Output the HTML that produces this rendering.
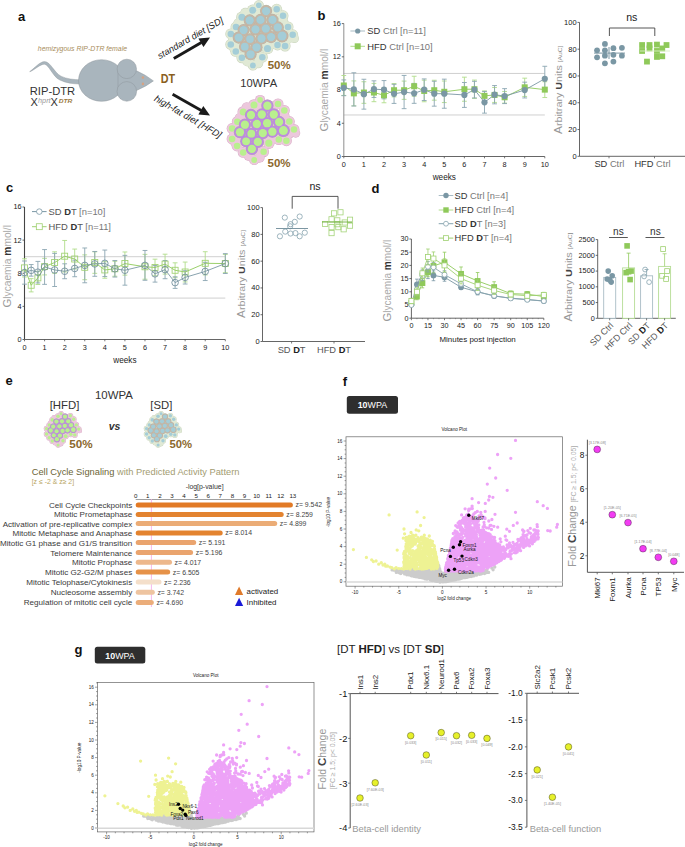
<!DOCTYPE html>
<html><head><meta charset="utf-8"><style>
html,body{margin:0;padding:0;background:#fff;}
svg{display:block;}
text{font-family:"Liberation Sans",sans-serif;}
</style></head><body>
<svg width="685" height="847" viewBox="0 0 685 847">
<rect width="685" height="847" fill="#fff"/>
<defs><g id="vpts"><path stroke="#cccccc" stroke-width="3.3" stroke-linecap="round" fill="none" d="M-23.5 -12.1h0M7.3 -5.2h0M-25.5 -6.1h0M-1.3 -5.2h0M-23.4 -4.9h0M-24.8 -7.0h0M29.5 -9.0h0M18.9 -3.4h0M49.4 -13.7h0M-5.5 -7.9h0M1.8 -4.4h0M2.8 -0.2h0M5.2 -0.4h0M13.3 -5.9h0M-34.4 -9.8h0M13.5 -7.5h0M-28.3 -8.7h0M0.0 -1.8h0M-0.9 -8.2h0M-4.4 -2.9h0M-16.1 -5.5h0M29.6 -7.5h0M14.0 -9.3h0M-36.6 -11.9h0M31.6 -6.0h0M10.6 -5.6h0M40.8 -11.3h0M-6.0 -8.1h0M4.5 -8.2h0M-1.0 -3.0h0M8.1 -10.2h0M0.5 -1.6h0M-9.6 -2.3h0M31.9 -6.8h0M12.6 -6.7h0M-11.8 -9.8h0M4.1 -1.2h0M-5.9 -5.5h0M-7.5 -3.2h0M-6.3 -10.3h0M50.7 -12.0h0M9.9 -4.9h0M-8.7 -11.0h0M-5.6 -12.6h0M-6.9 -3.1h0M-1.7 -3.6h0M33.0 -7.5h0M7.5 -6.4h0M3.7 -2.3h0M-14.9 -7.0h0M-11.0 -12.3h0M-25.0 -11.7h0M2.6 -1.3h0M23.8 -9.4h0M34.6 -7.6h0M11.6 -10.0h0M29.3 -6.4h0M37.8 -9.3h0M-12.2 -6.3h0M4.3 -10.1h0M3.3 -2.1h0M-4.2 -14.8h0M-14.2 -8.5h0M-3.2 -11.1h0M11.5 -2.1h0M3.3 -8.3h0M24.4 -8.2h0M-8.1 -3.2h0M42.1 -8.3h0M-2.5 -0.4h0M20.7 -4.8h0M-17.0 -4.0h0M18.4 -5.7h0M41.7 -10.6h0M-34.1 -10.8h0M-9.1 -1.4h0M-5.3 -0.4h0M25.2 -10.3h0M-16.0 -2.7h0M-14.4 -9.9h0M-16.6 -5.9h0M7.6 -6.1h0M-0.0 -5.5h0M25.4 -8.8h0M-18.4 -10.7h0M15.4 -8.0h0M-9.1 -11.6h0M13.8 -8.8h0M-14.5 -11.3h0M-24.1 -7.5h0M-11.9 -8.1h0M-6.1 -8.3h0M-5.0 -12.7h0M22.6 -6.5h0M-21.3 -10.3h0M-18.1 -11.2h0M-10.1 -2.1h0M0.0 -4.3h0M-4.7 -6.1h0M3.7 -4.9h0M29.5 -8.6h0M13.0 -1.9h0M-7.1 -4.2h0M-5.6 -2.3h0M-11.6 -11.7h0M-11.1 -11.5h0M-17.5 -6.1h0M-6.4 -5.7h0M-11.0 -10.6h0M34.0 -8.0h0M-20.3 -8.9h0M-4.2 -8.9h0M9.5 -9.0h0M17.6 -10.2h0M-24.6 -6.7h0M10.2 -3.8h0M18.4 -4.6h0M-23.1 -8.4h0M13.9 -4.7h0M28.9 -7.7h0M-46.1 -9.4h0M38.2 -7.6h0M7.7 -7.7h0M-14.9 -10.6h0M-7.1 -0.7h0M13.9 -2.2h0M15.9 -9.2h0M0.8 0.0h0M10.6 -7.1h0M-25.6 -9.9h0M8.9 -8.7h0M28.2 -6.3h0M-7.5 -6.4h0M1.2 -3.7h0M2.5 -6.5h0M6.6 -3.9h0M13.8 -8.0h0M-26.3 -10.8h0M-3.4 -6.1h0M10.9 -2.2h0M-40.3 -12.4h0M-1.7 -5.2h0M-10.0 -8.4h0M15.8 -7.1h0M-10.0 -11.4h0M13.4 -5.9h0M-44.2 -11.4h0M8.6 -8.8h0M29.5 -8.7h0M-2.7 -12.8h0M-13.0 -12.5h0M23.6 -9.2h0M-3.4 -4.9h0M31.9 -7.6h0M-20.3 -4.2h0M-22.6 -10.7h0M8.8 -5.6h0M34.4 -6.8h0M6.2 -8.5h0M8.1 -8.5h0M15.4 -3.5h0M13.8 -8.2h0M18.6 -9.4h0M-17.2 -7.7h0M-43.0 -12.5h0M11.7 -6.3h0M7.0 -3.4h0M-3.6 -8.6h0M-27.2 -11.5h0M-15.4 -6.3h0M-6.1 -10.8h0M10.6 -9.2h0M-7.7 -12.4h0M-24.8 -6.1h0M-3.8 -9.0h0M-26.2 -5.0h0M-0.5 -8.5h0M-19.3 -10.9h0M-2.0 -6.8h0M-29.4 -5.9h0M1.7 -4.5h0M-41.3 -12.4h0M24.8 -6.1h0M-9.9 -6.2h0M1.7 -7.0h0M17.7 -5.3h0M-12.8 -3.9h0M-32.3 -7.0h0M-29.5 -11.2h0M12.5 -3.7h0M1.8 -5.9h0M-7.9 -8.2h0M16.2 -3.4h0M-1.2 -5.1h0M-9.8 -4.0h0M7.6 -5.0h0M22.4 -6.4h0M-20.2 -4.9h0M12.2 -3.5h0M-18.6 -8.2h0M-20.1 -11.4h0M-28.9 -7.1h0M-24.4 -10.6h0M15.4 -4.9h0M-38.5 -9.1h0M11.9 -10.5h0M-6.3 -11.4h0M9.5 -8.0h0M10.6 -3.7h0M29.8 -7.7h0M20.8 -9.1h0M13.7 -7.9h0M13.9 -2.2h0M8.8 -9.7h0M27.7 -10.4h0M17.1 -8.7h0M15.1 -6.5h0M-4.9 -0.9h0M-11.4 -2.7h0M23.7 -7.5h0M5.7 -6.1h0M7.4 -2.6h0M9.8 -9.0h0M43.8 -9.1h0M-2.7 -0.5h0M20.4 -8.9h0M-6.4 -4.4h0M-22.6 -7.7h0M4.8 -6.3h0M29.7 -9.8h0M2.5 -1.3h0M-30.2 -8.5h0M9.0 -2.8h0M11.7 -1.7h0M19.8 -9.8h0M9.6 -9.2h0M-28.4 -10.0h0M-21.4 -8.3h0M14.7 -10.4h0M5.0 -9.6h0M-14.0 -10.0h0M6.2 -4.5h0M-34.7 -12.1h0M21.5 -9.0h0M-20.3 -10.6h0M-25.5 -5.2h0M17.2 -5.4h0M-2.7 -4.8h0M0.5 -4.9h0M-9.9 -12.1h0M-9.8 -8.9h0M-14.8 -8.2h0M24.0 -7.6h0M52.4 -14.8h0M-9.8 -12.5h0M-31.0 -6.0h0M-23.6 -6.4h0M-20.9 -7.3h0M12.0 -5.0h0M3.9 -0.8h0M-0.2 -4.2h0M41.7 -10.0h0M24.4 -10.5h0M-5.1 -8.2h0M2.8 -5.5h0M-7.1 -9.8h0M42.5 -9.0h0M12.4 -5.9h0M10.9 -7.0h0M19.6 -3.7h0M18.9 -7.0h0M-6.8 -7.8h0M-10.5 -8.8h0M11.8 -6.6h0M-6.4 -4.0h0M29.8 -5.6h0M0.2 -0.8h0M5.7 -8.0h0M-31.6 -11.0h0M26.1 -5.0h0M46.1 -9.5h0M-3.3 -14.2h0M-19.8 -12.5h0M9.4 -3.3h0M-44.7 -11.7h0M-6.6 -6.2h0M35.1 -9.0h0M-4.7 -1.5h0M-15.0 -4.4h0M-14.9 -2.8h0M-9.7 -6.3h0M-1.7 -7.8h0M-14.4 -8.3h0M4.1 -4.3h0M4.1 -10.4h0M-23.3 -12.3h0M-1.4 -0.9h0M-14.1 -11.6h0M5.8 -3.9h0M-26.3 -6.9h0M-9.8 -8.0h0M-22.7 -9.5h0M0.3 -1.6h0M-12.5 -12.5h0M34.1 -6.7h0M-19.9 -3.9h0M-2.7 -8.7h0M20.0 -4.1h0M-7.2 -1.6h0M-1.9 -8.2h0M-25.8 -7.7h0M-8.5 -6.5h0M4.3 -7.8h0M17.1 -9.3h0M8.7 -8.7h0M4.4 -6.6h0M1.6 -3.4h0M-13.2 -4.7h0M6.8 -7.1h0M-17.1 -12.7h0M-11.1 -9.9h0M21.6 -10.0h0M-16.6 -3.6h0M8.1 -9.3h0M7.0 -6.2h0M3.8 -4.8h0M-6.4 -10.0h0M-14.9 -3.0h0M6.5 -1.2h0M27.5 -6.7h0M-4.6 -3.6h0M-29.2 -6.5h0M-19.4 -6.7h0M24.1 -5.0h0M-6.3 -11.7h0M-24.1 -12.3h0M17.6 -9.0h0M-10.7 -4.8h0M-8.0 -12.0h0M17.7 -9.7h0M0.2 -2.5h0M18.2 -5.7h0M-15.1 -4.3h0M11.6 -6.6h0M7.0 -8.9h0M-22.9 -8.9h0M14.4 -9.6h0M29.0 -6.8h0M22.9 -7.6h0M3.2 -5.4h0M27.3 -9.5h0M-5.8 -1.0h0M-32.4 -6.7h0M-9.8 -2.1h0M-3.3 -1.1h0M-41.0 -11.0h0M19.7 -8.0h0M25.0 -6.0h0M6.0 -5.6h0M32.1 -9.5h0M-13.7 -12.4h0M10.7 -7.5h0M-23.8 -10.4h0M0.9 -5.6h0M17.0 -9.2h0M-10.1 -8.9h0M21.1 -9.4h0M-27.7 -11.9h0M26.5 -7.8h0M-7.2 -9.2h0M6.5 -4.7h0M-19.0 -4.6h0M-3.2 -5.7h0M6.4 -4.7h0M11.3 -4.1h0M6.6 -3.5h0M-1.3 -0.8h0M-19.9 -5.0h0M-26.6 -5.3h0M-24.6 -12.0h0M6.5 -0.8h0M9.5 -3.1h0M7.7 -3.0h0M-5.3 -2.9h0M-25.3 -6.1h0M-2.3 -9.9h0M11.6 -4.3h0M-33.8 -9.5h0M-10.6 -4.3h0M32.4 -7.6h0M-27.7 -9.3h0M21.2 -5.2h0M-5.9 -0.9h0M32.7 -7.9h0M-11.2 -7.4h0M-15.3 -12.7h0M-1.5 -7.3h0M0.2 -3.4h0M2.8 -3.3h0M8.8 -6.8h0M-29.1 -6.5h0M9.3 -3.5h0M14.1 -9.5h0M-27.2 -12.7h0M-2.8 -3.5h0M-10.7 -10.1h0M-2.4 0.4h0M16.1 -9.1h0M-33.5 -6.9h0M-3.8 -1.5h0M30.3 -8.0h0M-47.0 -11.4h0M9.4 -9.2h0M-11.2 -6.2h0M32.0 -10.2h0M30.2 -6.7h0M19.4 -7.2h0M-11.1 -10.9h0M-1.8 -3.4h0M-2.8 -4.2h0M7.1 -5.2h0M-3.9 -11.9h0M-17.7 -3.9h0M-16.8 -12.4h0M13.2 -9.1h0M-1.7 -4.2h0M-2.5 -9.6h0M1.9 -3.8h0M24.7 -4.5h0M34.4 -7.4h0M-1.8 -7.3h0M-4.7 -6.9h0M18.1 -5.2h0M-10.0 -8.9h0M16.3 -4.6h0M9.6 -4.2h0M29.6 -10.3h0M-28.4 -7.7h0M-11.8 -10.8h0M8.9 -1.8h0M5.8 -7.2h0M-3.1 -6.0h0M-11.7 -10.9h0M-7.0 -3.3h0M-4.6 -2.0h0M14.0 -2.7h0M13.8 -9.9h0M-20.6 -9.5h0M10.2 -8.4h0M8.2 -4.0h0M-17.1 -6.9h0M19.3 -8.4h0M1.9 -8.6h0M7.0 -6.6h0M-27.3 -5.2h0M-8.6 -8.6h0M15.4 -3.2h0M-16.5 -10.6h0M15.9 -9.1h0M-8.6 -10.0h0M-7.3 -11.6h0M-17.1 -7.8h0M-5.3 -1.9h0M-12.9 -7.5h0M-7.9 -3.1h0M-35.6 -12.4h0M-8.9 -1.9h0M-9.1 -3.9h0M-26.3 -7.4h0M-13.7 -12.0h0M-13.8 -3.3h0M16.4 -10.3h0M27.4 -8.0h0M31.3 -8.5h0M-14.0 -11.8h0M-5.6 -12.7h0M10.7 -2.5h0M-23.7 -11.3h0M-9.8 -3.9h0M39.8 -9.5h0M6.0 -5.9h0M-10.8 -2.2h0M11.9 -10.4h0M2.4 -8.6h0M-9.0 -8.9h0M-13.8 -9.9h0M-18.9 -10.9h0M17.4 -2.9h0M6.7 -1.9h0M20.5 -6.2h0M-10.7 -7.3h0M-5.0 -3.4h0M-15.7 -9.1h0M-7.2 -1.0h0M-5.1 -12.2h0M-9.4 -8.1h0M-19.4 -9.2h0M3.7 -6.9h0M1.6 -4.0h0M-32.0 -12.7h0M19.9 -6.3h0M-32.1 -9.0h0M-38.2 -10.2h0M-16.8 -8.0h0M-37.9 -9.1h0M17.2 -3.2h0M-6.3 -9.4h0M-40.7 -10.8h0M0.2 -4.3h0M-16.4 -3.3h0M14.8 -6.4h0M14.7 -5.5h0M28.0 -8.0h0M9.5 -3.3h0M-6.7 -3.3h0M18.1 -3.5h0M42.5 -10.9h0M-26.5 -11.7h0M-30.6 -7.3h0M16.5 -8.5h0M-37.9 -7.9h0M-16.9 -10.7h0M17.0 -10.2h0M16.7 -2.7h0M0.6 -2.3h0M16.2 -3.0h0M27.9 -7.3h0M-21.6 -7.0h0M-5.1 -0.5h0M-3.0 -13.5h0M-8.0 -12.0h0M21.1 -10.4h0M-12.9 -5.0h0M2.2 -8.3h0M10.1 -9.0h0M-7.7 -4.9h0M-11.6 -11.4h0M2.0 -8.9h0M8.1 -2.6h0M25.9 -9.9h0M8.7 -7.9h0M2.8 -2.7h0M31.4 -9.2h0M-22.7 -5.2h0M-15.1 -6.9h0M-42.7 -8.8h0M2.8 -6.6h0M16.2 -4.1h0M5.9 -7.1h0M12.8 -8.7h0M-19.7 -11.7h0M20.3 -7.6h0M2.1 -8.3h0M16.1 -7.9h0M-4.6 -1.1h0M27.1 -10.5h0M-21.9 -8.6h0M8.6 -1.3h0M-12.7 -4.5h0M-9.2 -10.4h0M13.4 -8.4h0M8.2 -3.2h0M-4.4 -2.3h0M23.8 -9.9h0M5.0 -4.9h0M-0.4 -6.2h0M-33.1 -9.5h0M29.3 -6.4h0M-25.9 -7.6h0M-9.5 -8.8h0M4.8 -5.3h0M-22.7 -11.4h0M-9.3 -12.2h0M-21.3 -5.3h0M2.1 -5.3h0M-11.3 -4.1h0M-30.8 -11.3h0M12.1 -8.7h0M2.0 -1.6h0M22.2 -7.7h0M-5.2 -7.7h0M0.0 -5.2h0M-35.0 -7.8h0M-17.2 -4.3h0M22.3 -6.8h0M2.5 -3.8h0M-2.8 -0.6h0M34.3 -10.2h0M-21.8 -10.9h0M-10.1 -3.9h0M10.1 -1.6h0M13.2 -4.6h0M-17.0 -5.4h0M-16.2 -8.6h0M30.2 -6.5h0M18.8 -5.0h0M15.8 -9.2h0M24.8 -9.3h0M18.3 -5.8h0M7.4 -2.7h0M5.5 -5.3h0M-1.0 -7.6h0M10.7 -5.5h0M-0.9 -7.2h0M13.8 -9.6h0M3.5 -1.2h0M-12.6 -6.4h0M10.1 -1.9h0M13.7 -8.5h0M-1.4 -2.5h0M-13.8 -7.9h0M1.1 -7.7h0M21.3 -6.2h0M-28.2 -9.8h0M46.3 -9.4h0M-22.8 -4.5h0M15.9 -5.2h0M-13.1 -8.3h0M-36.1 -12.1h0M-18.7 -11.2h0M4.5 -4.0h0M2.6 -3.0h0M-13.1 -3.9h0M-10.9 -3.7h0M-3.5 -3.3h0M-16.2 -7.1h0M3.3 -9.8h0M-16.5 -4.7h0M-34.5 -9.0h0M26.4 -6.9h0M13.0 -4.2h0M12.1 -4.0h0M1.4 -3.1h0M27.0 -6.4h0M-14.1 -5.9h0M25.7 -6.8h0M37.1 -9.8h0M-7.0 -0.7h0M-41.3 -9.6h0M-6.0 -11.3h0M5.3 -3.5h0M3.0 -0.2h0M-23.1 -7.5h0M0.4 -0.8h0M5.5 -6.4h0M16.3 -6.0h0M3.3 -5.2h0M19.7 -5.2h0M22.7 -8.8h0M-5.4 -2.7h0M-9.4 -4.3h0M-4.5 -4.9h0M-19.0 -11.5h0M2.4 -2.9h0M15.8 -4.2h0M4.1 -6.5h0M1.1 -4.5h0M18.9 -5.3h0M-48.8 -11.8h0M11.7 -7.8h0M-6.5 -8.6h0M37.2 -8.0h0M-10.8 -8.6h0M17.1 -5.8h0M10.9 -1.9h0M-12.7 -7.2h0M11.5 -4.0h0M10.6 -5.7h0M16.4 -3.9h0M-7.2 -1.7h0M-12.3 -5.5h0M-9.7 -7.9h0M5.2 -7.4h0M-28.2 -5.4h0M-9.8 -5.7h0M-4.6 -5.1h0M5.2 -0.7h0M-25.5 -8.4h0M0.7 -2.3h0M-0.1 -2.4h0M4.2 -9.3h0M-13.7 -9.2h0M-6.0 -2.6h0M-26.1 -12.4h0M5.1 -3.9h0M-40.7 -11.7h0M-21.1 -9.4h0M-14.3 -6.5h0M-13.6 -4.9h0M19.0 -6.0h0M-34.7 -12.2h0M10.1 -5.9h0M2.5 -2.5h0M-33.7 -7.4h0M40.6 -8.6h0M3.9 -2.3h0M28.7 -5.3h0M-18.5 -5.4h0M-5.2 -6.4h0M-14.2 -8.8h0M-19.6 -8.6h0M24.7 -6.5h0M-44.2 -10.1h0M12.6 -8.1h0M-10.9 -9.3h0M-19.2 -11.1h0M-45.6 -9.7h0M-16.1 -8.3h0M-15.4 -6.2h0M-7.1 -7.1h0M31.1 -7.0h0M0.1 -1.0h0M17.0 -6.7h0M4.9 -0.7h0M4.9 -1.1h0M-2.6 -6.1h0M-9.0 -10.1h0M-11.4 -11.2h0M1.4 -7.3h0M13.9 -6.4h0M4.8 -8.4h0M-23.8 -6.4h0M19.1 -8.5h0M-8.0 -9.9h0M15.3 -9.3h0M11.8 -5.3h0M-21.9 -10.1h0M-25.9 -11.2h0M-25.3 -5.6h0M-20.5 -5.6h0M20.0 -4.7h0M25.4 -10.2h0M2.2 -8.7h0M19.5 -6.3h0M21.8 -8.1h0M-35.6 -12.7h0M27.0 -5.2h0M-2.2 -0.1h0M-9.4 -4.4h0M-7.2 -2.0h0M-2.1 -6.8h0M3.9 -4.8h0M-11.6 -10.5h0M11.8 -9.1h0M-4.0 -10.8h0M18.7 -8.8h0M18.9 -8.3h0M-2.3 -7.0h0M3.4 -1.5h0M-10.3 -2.5h0M13.4 -6.1h0M-5.9 -1.8h0M-1.7 -6.5h0M3.4 -1.2h0M-10.8 -3.9h0M-10.9 -6.9h0M-9.9 -1.7h0M11.1 -2.0h0M12.9 -2.5h0M-10.3 -3.3h0M6.8 -2.5h0M14.8 -5.7h0M-16.4 -10.8h0M-5.3 -7.1h0M4.0 -6.7h0M-11.1 -12.1h0M-10.8 -11.2h0M20.8 -9.4h0M-0.7 -6.7h0M2.0 -1.1h0M4.0 -1.1h0M16.2 -8.6h0M8.2 -3.8h0M-2.8 -2.7h0M-0.2 -7.8h0M23.5 -9.3h0M1.6 -6.7h0M-1.8 -9.5h0M-19.3 -11.1h0M6.2 -1.4h0M18.5 -8.3h0M-6.0 -3.4h0M3.5 -5.6h0M-2.3 -2.6h0M-14.1 -9.1h0M11.9 -8.9h0M-18.1 -6.4h0M20.6 -5.5h0M14.0 -2.9h0M-9.5 -5.0h0M-0.7 -6.7h0M-13.2 -7.8h0M-5.1 -1.4h0M-10.9 -3.0h0M-12.0 -1.7h0M16.5 -6.6h0M-13.9 -7.8h0M9.7 -10.1h0M11.1 -4.3h0M38.0 -9.8h0M44.2 -10.6h0M35.8 -10.4h0M3.7 -7.1h0M19.3 -4.5h0M-4.2 -17.2h0M28.6 -7.0h0M7.3 -10.5h0M16.5 -3.8h0M-12.4 -8.8h0M-14.0 -4.3h0M-29.9 -11.7h0M-26.8 -9.8h0M-24.9 -5.4h0M-0.8 -7.8h0M-7.8 -8.7h0M-19.6 -7.3h0M-10.4 -8.2h0M9.2 -6.5h0M-4.9 -8.0h0M-0.5 -3.6h0M-21.5 -12.1h0M-14.3 -3.7h0M11.8 -8.2h0M-12.1 -12.6h0M29.0 -7.5h0M6.7 -10.5h0M-7.4 -6.6h0M3.7 -6.4h0M36.6 -10.3h0M16.4 -6.7h0M-30.2 -12.7h0M35.6 -9.5h0M15.4 -4.4h0M7.4 -5.9h0M-19.8 -11.5h0M5.2 -6.8h0M14.7 -2.8h0M-31.8 -9.3h0M-11.4 -4.2h0M11.7 -8.5h0M-35.9 -10.1h0M28.4 -6.1h0M-19.1 -6.7h0M4.2 -3.5h0M3.1 -8.3h0M4.8 -1.9h0M-8.3 -5.4h0M15.5 -9.8h0M-21.6 -4.4h0M13.0 -7.3h0M-1.0 -8.7h0M-1.8 -7.9h0M-12.6 -6.5h0M17.4 -5.3h0M1.7 -5.3h0M-4.7 -8.9h0M25.7 -5.7h0M20.5 -6.8h0M21.3 -4.6h0M34.1 -9.0h0M30.4 -7.4h0M20.7 -8.4h0M-1.6 -3.2h0M-18.1 -7.0h0M16.5 -6.0h0M21.6 -9.3h0M-17.8 -7.9h0M11.5 -10.0h0M-17.0 -5.1h0M24.6 -8.0h0M-8.5 -4.2h0M38.1 -10.1h0M-9.4 -12.0h0M-19.0 -6.9h0M-1.1 -4.4h0M-26.0 -5.2h0M-13.6 -6.7h0M7.6 -10.1h0M-7.9 -8.8h0M28.5 -6.6h0M-8.7 -11.5h0M5.4 -2.8h0M-15.4 -10.9h0M8.4 -9.1h0M-20.3 -4.4h0M-13.0 -11.6h0M15.5 -5.4h0M9.6 -7.9h0M-8.6 -11.5h0M-15.4 -12.2h0M26.9 -7.6h0M4.0 -3.6h0M-16.3 -9.4h0M3.7 -6.0h0M51.7 -16.8h0M-9.7 -5.7h0M13.2 -8.0h0M-24.5 -12.7h0M19.5 -6.2h0M8.7 -7.2h0M11.6 -3.4h0M-7.3 -5.4h0M7.8 -8.0h0M10.0 -7.3h0M5.8 -6.7h0M-0.7 -7.5h0M-14.7 -9.9h0M1.6 -3.8h0M-9.6 -1.3h0M29.4 -10.0h0M-35.6 -7.0h0M-14.1 -7.8h0M19.2 -4.0h0M4.0 -5.1h0M-15.8 -3.7h0M-9.2 -2.0h0M-4.2 -9.2h0M-9.1 -3.9h0M32.0 -7.9h0M12.7 -5.7h0M4.5 -5.9h0M-36.2 -7.6h0M9.5 -9.1h0M28.7 -8.1h0M42.1 -9.8h0M-29.2 -12.5h0M-24.9 -7.9h0M11.1 -8.9h0M0.7 -5.8h0M-2.6 -7.3h0M-10.9 -1.7h0M12.5 -10.3h0M10.4 -7.2h0M3.4 -3.9h0M-4.8 -1.0h0M-0.6 -8.3h0M9.3 -4.2h0M-27.9 -11.9h0M1.9 -8.3h0M-20.6 -11.9h0M-9.4 -5.7h0M-9.6 -4.1h0M30.0 -7.4h0M-19.7 -6.7h0M9.4 -5.1h0M-5.8 -10.7h0M1.9 -0.1h0M-23.8 -7.6h0M-4.2 -3.9h0M15.0 -4.9h0M10.8 -5.8h0M3.9 -4.9h0M31.7 -6.0h0M-41.6 -8.2h0M27.7 -8.3h0M17.8 -7.5h0M-4.5 -4.7h0M-8.3 -7.8h0M25.0 -6.4h0M-23.1 -10.6h0M0.3 0.0h0M12.2 -4.1h0M8.1 -8.6h0M-34.0 -9.0h0M17.2 -5.0h0M-3.5 -15.9h0M-7.3 -10.7h0M-7.9 -10.6h0M14.8 -8.8h0M-4.1 -13.6h0M-5.1 -0.7h0M-17.2 -12.0h0M-17.2 -9.1h0M44.4 -12.1h0M6.3 -6.3h0M31.4 -7.8h0M1.1 -5.5h0M42.6 -8.7h0M-4.4 -10.0h0M-29.8 -8.3h0M11.7 -5.6h0M-8.9 -4.7h0M3.7 -7.4h0M8.6 -8.9h0M4.1 -6.9h0M-9.0 -2.3h0M-2.8 -4.2h0M23.6 -10.1h0M-7.0 -3.1h0M-20.5 -11.3h0M12.1 -2.7h0M15.2 -2.6h0M-15.5 -6.9h0M-20.7 -12.1h0M20.0 -6.9h0M-7.1 -10.0h0M-17.7 -3.9h0M-0.6 -5.0h0M-11.6 -3.8h0M-6.5 -4.7h0M9.5 -6.7h0M-18.9 -8.7h0M-2.4 -11.3h0M-16.0 -7.4h0M19.8 -10.4h0M-14.0 -4.5h0M26.2 -6.3h0M-3.1 -3.6h0M-24.9 -5.0h0M8.5 -7.8h0M-16.7 -7.0h0M-18.2 -12.5h0M-16.6 -11.8h0M-21.3 -5.8h0M6.1 -8.0h0M13.2 -9.2h0M9.9 -1.5h0M-7.9 -7.4h0M-23.6 -7.0h0M27.3 -9.3h0M38.4 -10.0h0M27.5 -6.2h0M19.4 -4.7h0M-25.7 -5.6h0M-5.7 -9.8h0M-35.8 -12.3h0M-20.4 -9.9h0M-31.0 -10.8h0M35.6 -7.9h0M19.4 -5.2h0M-24.1 -6.4h0M23.6 -5.8h0M3.0 -2.5h0M-0.2 -3.6h0M10.2 -3.8h0M-3.4 -8.0h0M15.1 -9.5h0M20.4 -9.5h0M32.1 -8.8h0M-30.1 -9.4h0M-8.5 -8.7h0M29.0 -6.7h0M-16.1 -3.1h0M16.8 -8.9h0M-7.1 -3.4h0M-17.7 -10.1h0M5.4 -10.0h0M-24.8 -7.3h0M-0.9 -1.9h0M8.8 -10.0h0M-2.9 -9.5h0M37.2 -7.5h0M18.0 -7.3h0M42.0 -9.4h0M39.3 -10.2h0M26.4 -5.2h0M10.7 -1.6h0M-49.4 -11.9h0M-23.6 -11.5h0M5.1 -0.9h0M-22.8 -8.6h0M9.4 -4.4h0M21.5 -7.1h0M9.7 -5.0h0M28.4 -7.8h0M19.5 -7.3h0M10.5 -10.3h0M-9.6 -4.6h0M-3.9 -5.7h0M-13.5 -12.5h0M-43.4 -12.5h0M33.9 -10.3h0M-17.2 -3.0h0M-25.6 -10.2h0M1.7 -5.1h0M-33.9 -7.0h0M-29.2 -9.2h0M4.7 -1.2h0M-1.2 -9.1h0M4.1 -0.2h0M-1.1 -8.5h0M-8.8 -7.8h0M-21.5 -10.6h0M0.3 -0.1h0M-0.7 -7.2h0M35.9 -8.4h0M-5.6 -4.4h0M-1.9 -9.4h0M2.7 -2.1h0M-20.2 -6.5h0M-12.0 -9.1h0M-13.5 -11.5h0M3.9 -1.6h0M8.6 -5.5h0M11.9 -8.6h0M-7.0 -8.5h0M12.3 -4.0h0M-14.6 -11.5h0M-2.1 -2.0h0M1.8 -2.6h0M16.2 -8.4h0M-15.6 -8.0h0M-30.2 -6.2h0M1.2 -1.5h0M-14.3 -6.5h0M18.4 -5.7h0M-1.2 -9.5h0M19.0 -4.2h0M-1.1 -8.1h0M3.5 -7.8h0M-17.1 -6.5h0M-5.9 -9.5h0M25.1 -7.4h0M1.3 -4.0h0M-2.9 -5.4h0M39.1 -8.0h0M16.9 -4.3h0M35.2 -10.3h0M-33.8 -8.6h0M9.6 -7.9h0M-4.5 -12.1h0M3.7 -6.7h0M9.7 -9.4h0M-6.9 -6.0h0M-46.4 -10.5h0M11.2 -10.0h0M10.5 -1.9h0M7.1 -1.0h0M16.3 -5.0h0M4.0 -5.4h0M9.0 -6.1h0M-29.7 -9.3h0M-13.4 -12.2h0M11.9 -2.3h0M6.7 -3.6h0M2.9 -4.6h0M-43.5 -9.3h0M-12.1 -4.9h0M21.8 -9.2h0M21.0 -7.8h0M-3.7 -14.1h0M-12.2 -12.1h0M2.7 -9.2h0M32.2 -7.9h0M5.0 -0.6h0M6.2 -7.9h0M10.1 -3.2h0M13.4 -8.8h0M1.7 -4.1h0M-12.3 -3.7h0M-17.6 -3.0h0M-1.9 -2.9h0M5.3 -6.6h0M-14.8 -8.8h0M15.9 -5.0h0M-24.7 -9.3h0M31.2 -7.8h0M-20.7 -6.6h0M-5.3 -11.7h0M4.7 -9.0h0M44.8 -12.8h0M12.0 -10.4h0M19.5 -5.4h0M14.7 -4.2h0M27.1 -8.2h0M25.6 -6.3h0M39.0 -7.9h0M-6.8 -7.3h0M-16.4 -7.6h0M20.4 -6.2h0M-10.8 -1.4h0M-15.2 -8.3h0M0.3 -4.7h0M-8.1 -6.7h0M2.0 -4.0h0M-32.1 -7.9h0M-39.5 -9.9h0M29.7 -6.7h0M17.5 -9.2h0M4.4 -9.5h0M-14.1 -7.5h0M-21.9 -12.3h0M10.9 -5.9h0M-15.8 -11.1h0M1.8 -4.2h0M-7.0 -3.1h0M10.6 -9.0h0M17.6 -9.9h0M-50.3 -11.9h0M8.9 -8.7h0M-29.0 -11.3h0M15.8 -4.9h0M31.5 -7.1h0M3.6 -5.0h0M-2.0 -4.0h0M6.8 -9.7h0M-25.5 -12.2h0M-4.3 -12.2h0M-5.5 -1.5h0M38.7 -8.5h0M-4.3 -3.4h0M-11.1 -12.6h0M-30.4 -10.1h0M21.8 -4.2h0M21.9 -9.7h0M3.9 -8.9h0M-33.5 -10.0h0M25.7 -7.6h0M-9.5 -5.6h0M-2.5 -1.8h0M3.3 -7.7h0M3.7 -7.8h0M27.7 -8.9h0M-16.7 -5.4h0M-1.7 -1.8h0M-17.5 -12.2h0M-23.4 -7.0h0M37.9 -8.3h0M-18.7 -12.3h0M-36.0 -11.4h0M-33.6 -8.5h0M-4.3 -8.8h0M23.0 -4.3h0M15.4 -6.2h0M-18.1 -10.3h0M0.0 -4.2h0M12.8 -3.9h0M-3.4 -0.6h0M6.5 -4.0h0M-46.2 -11.5h0M-7.9 -5.7h0M-11.7 -6.9h0M7.8 -10.2h0M14.7 -7.9h0M14.2 -8.5h0M-25.9 -12.3h0M-9.3 -11.6h0M-0.2 -7.9h0M24.0 -7.6h0M12.2 -2.2h0M30.4 -6.4h0M-14.5 -9.8h0M-4.9 -9.3h0M-13.8 -9.0h0M29.7 -9.1h0M-19.7 -4.3h0M5.5 -5.1h0M38.6 -7.7h0M-11.3 -2.3h0M-3.6 -7.1h0M29.4 -6.1h0M-22.4 -10.5h0M11.3 -5.1h0M-17.1 -8.9h0M-23.5 -4.5h0M-2.5 -0.3h0M-9.8 -6.6h0M7.4 -4.5h0M0.8 -3.5h0M37.5 -10.1h0M29.3 -7.9h0M-14.2 -12.6h0M-8.8 -2.3h0M-4.5 -11.0h0M12.8 -6.2h0M-16.4 -11.6h0M10.3 -3.6h0M7.7 -5.1h0M-29.1 -8.1h0M-19.5 -6.3h0M8.2 -6.9h0M-13.9 -10.3h0M8.7 -5.3h0M-39.0 -9.9h0M6.5 -4.2h0M42.1 -11.2h0M-31.4 -8.7h0M-15.0 -5.4h0M-27.8 -10.6h0M26.7 -8.7h0M-8.7 -6.0h0M-7.8 -10.0h0M-11.3 -7.5h0M17.4 -8.3h0M-2.2 0.2h0M-28.3 -7.2h0M16.5 -7.5h0M3.5 -9.9h0M19.0 -4.6h0"/><path stroke="#eef293" stroke-width="3.3" stroke-linecap="round" fill="none" d="M-7.4 -13.9h0M-18.7 -38.7h0M-10.0 -23.8h0M-18.5 -35.2h0M-12.6 -34.6h0M-18.9 -20.7h0M-14.5 -29.7h0M-20.1 -44.3h0M-34.1 -38.2h0M-27.6 -37.6h0M-6.1 -16.5h0M-19.3 -29.5h0M-21.8 -18.2h0M-17.3 -40.5h0M-16.0 -21.6h0M-11.1 -24.8h0M-33.8 -32.6h0M-23.0 -30.1h0M-4.7 -16.9h0M-6.0 -17.4h0M-12.7 -15.0h0M-15.0 -38.0h0M-25.7 -22.0h0M-26.5 -31.0h0M-38.0 -19.5h0M-16.2 -17.3h0M-28.1 -42.8h0M-6.7 -16.9h0M-32.7 -16.7h0M-35.9 -38.1h0M-13.4 -20.6h0M-22.0 -35.4h0M-37.9 -27.5h0M-9.2 -18.6h0M-14.6 -33.9h0M-27.2 -42.7h0M-31.3 -28.8h0M-28.0 -27.9h0M-10.8 -29.0h0M-17.8 -43.6h0M-31.1 -20.3h0M-17.5 -17.4h0M-5.6 -16.7h0M-23.7 -27.0h0M-10.3 -38.6h0M-15.5 -18.0h0M-31.4 -42.5h0M-8.8 -18.7h0M-26.3 -20.5h0M-14.1 -14.2h0M-14.9 -14.7h0M-9.8 -28.0h0M-18.7 -15.8h0M-37.3 -19.1h0M-4.9 -17.7h0M-9.1 -14.5h0M-35.3 -13.4h0M-14.8 -18.1h0M-14.9 -22.6h0M-22.7 -22.2h0M-19.5 -24.1h0M-26.4 -21.2h0M-28.8 -21.8h0M-38.3 -18.4h0M-18.4 -21.2h0M-35.0 -40.1h0M-22.7 -29.5h0M-28.1 -43.2h0M-12.8 -31.1h0M-16.1 -34.0h0M-21.6 -26.1h0M-25.4 -29.7h0M-22.7 -30.1h0M-20.5 -38.0h0M-8.1 -17.9h0M-38.1 -18.2h0M-37.8 -27.1h0M-17.5 -21.7h0M-32.3 -41.7h0M-10.0 -32.0h0M-15.0 -35.4h0M-23.2 -25.8h0M-19.8 -40.8h0M-4.7 -19.3h0M-10.0 -14.9h0M-30.3 -45.9h0M-20.1 -29.2h0M-28.2 -42.4h0M-21.0 -44.7h0M-36.2 -44.3h0M-38.4 -15.4h0M-35.0 -30.9h0M-6.5 -19.5h0M-12.6 -30.1h0M-18.8 -18.2h0M-22.8 -42.3h0M-15.6 -19.4h0M-23.4 -30.7h0M-17.1 -13.3h0M-31.3 -34.9h0M-31.5 -15.2h0M-12.6 -22.5h0M-5.8 -19.8h0M-35.4 -33.2h0M-29.8 -40.7h0M-13.9 -35.4h0M-36.9 -13.4h0M-11.3 -16.8h0M-31.9 -13.8h0M-33.2 -28.4h0M-5.8 -16.8h0M-29.9 -41.2h0M-32.5 -33.9h0M-17.6 -41.9h0M-37.3 -22.9h0M-25.6 -40.5h0M-30.1 -37.2h0M-32.5 -29.2h0M-5.5 -15.4h0M-29.2 -44.5h0M-15.6 -14.8h0M-32.4 -20.7h0M-28.9 -42.1h0M-14.7 -42.4h0M-15.8 -32.0h0M-21.8 -14.7h0M-21.9 -25.2h0M-20.5 -14.3h0M-37.9 -30.5h0M-26.0 -23.9h0M-33.7 -32.2h0M-7.3 -16.3h0M-21.6 -29.0h0M-12.4 -29.3h0M-30.6 -19.2h0M-13.9 -15.1h0M-9.0 -13.7h0M-32.3 -28.4h0M-9.7 -30.1h0M-13.1 -35.3h0M-13.9 -14.3h0M-10.4 -16.9h0M-33.3 -14.0h0M-37.9 -28.6h0M-25.7 -15.7h0M-37.2 -28.0h0M-18.1 -41.5h0M-37.6 -14.8h0M-29.0 -19.4h0M-35.0 -19.2h0M-16.8 -18.0h0M-33.0 -30.5h0M-25.9 -17.8h0M-19.3 -28.9h0M-25.5 -28.7h0M-37.5 -23.9h0M-32.2 -24.0h0M-38.5 -28.8h0M-18.6 -25.1h0M-20.2 -42.8h0M-34.3 -25.2h0M-14.4 -24.0h0M-14.5 -40.2h0M-37.4 -17.9h0M-28.8 -38.7h0M-11.8 -33.0h0M-7.0 -16.1h0M-25.3 -41.3h0M-12.5 -16.1h0M-5.1 -19.4h0M-9.0 -22.6h0M-18.0 -42.8h0M-7.9 -25.5h0M-8.2 -36.1h0M-9.9 -31.2h0M-5.7 -14.5h0M-24.9 -31.6h0M-34.3 -38.2h0M-36.7 -24.1h0M-29.2 -23.9h0M-17.9 -18.8h0M-23.4 -41.0h0M-4.8 -14.8h0M-32.3 -41.1h0M-32.0 -31.4h0M-27.1 -12.8h0M-38.8 -12.8h0M-27.5 -22.2h0M-4.7 -17.3h0M-36.6 -35.4h0M-30.8 -29.1h0M-13.9 -38.4h0M-6.6 -19.5h0M-27.9 -26.4h0M-28.1 -38.2h0M-22.9 -35.2h0M-33.6 -38.5h0M-5.5 -15.0h0M-17.6 -17.8h0M-37.6 -20.2h0M-32.5 -37.1h0M-19.1 -34.1h0M-5.5 -13.4h0M-35.5 -13.9h0M-23.0 -39.8h0M-15.3 -29.5h0M-9.3 -23.1h0M-35.0 -33.5h0M-38.0 -16.9h0M-37.8 -15.7h0M-36.6 -29.6h0M-34.4 -32.4h0M-10.4 -22.5h0M-34.7 -34.5h0M-13.7 -39.1h0M-19.7 -31.3h0M-9.1 -31.5h0M-5.2 -15.6h0M-12.1 -31.2h0M-22.7 -13.1h0M-22.4 -21.4h0M-18.1 -28.7h0M-21.2 -14.7h0M-34.3 -32.5h0M-15.3 -43.0h0M-11.5 -21.1h0M-23.1 -29.4h0M-11.1 -24.1h0M-7.1 -21.7h0M-25.1 -28.8h0M-26.5 -46.6h0M-37.3 -20.0h0M-36.1 -34.3h0M-33.7 -17.7h0M-24.3 -32.8h0M-12.5 -25.8h0M-28.7 -25.5h0M-8.2 -17.8h0M-38.5 -28.7h0M-22.2 -17.1h0M-34.2 -41.8h0M-13.0 -14.7h0M-15.6 -19.3h0M-23.5 -32.7h0M-37.1 -29.6h0M-27.3 -17.7h0M-11.9 -15.9h0M-37.6 -24.5h0M-22.6 -42.2h0M-11.6 -18.7h0M-37.3 -23.6h0M-22.6 -22.6h0M-7.2 -16.7h0M-16.7 -15.0h0M-7.0 -29.8h0M-17.5 -22.7h0M-13.9 -39.8h0M-11.4 -13.9h0M-21.5 -17.3h0M-20.0 -43.1h0M-9.0 -19.6h0M-19.8 -22.9h0M-33.0 -37.3h0M-12.7 -22.6h0M-24.4 -35.9h0M-13.8 -26.6h0M-34.8 -15.9h0M-33.0 -40.1h0M-21.7 -33.7h0M-26.3 -25.2h0M-32.8 -45.1h0M-18.0 -16.8h0M-14.6 -30.8h0M-17.7 -36.8h0M-17.9 -40.2h0M-5.4 -17.1h0M-16.5 -24.3h0M-24.7 -25.0h0M-16.5 -23.6h0M-26.7 -41.5h0M-11.3 -32.2h0M-9.8 -23.6h0M-16.7 -20.5h0M-28.0 -16.2h0M-11.3 -39.2h0M-28.4 -25.8h0M-34.8 -17.4h0M-16.8 -40.4h0M-36.0 -20.9h0M-12.7 -19.4h0M-8.6 -21.7h0M-22.5 -19.4h0M-28.8 -27.5h0M-29.3 -38.0h0M-37.8 -24.3h0M-11.2 -22.1h0M-32.2 -16.8h0M-36.2 -37.9h0M-18.1 -13.2h0M-23.2 -32.5h0M-27.8 -14.0h0M-24.3 -24.5h0M-5.3 -16.4h0M-7.0 -28.5h0M-19.0 -16.7h0M-11.0 -15.3h0M-19.6 -15.9h0M-35.7 -25.9h0M-33.5 -45.4h0M-18.9 -41.1h0M-5.9 -22.4h0M-16.6 -27.4h0M-12.0 -32.2h0M-33.4 -30.2h0M-24.6 -29.9h0M-14.3 -33.5h0M-19.2 -37.7h0M-10.4 -15.4h0M-33.8 -14.3h0M-33.3 -44.4h0M-28.2 -27.9h0M-22.8 -31.3h0M-29.2 -39.7h0M-27.4 -41.6h0M-11.1 -12.8h0M-20.0 -15.7h0M-8.4 -14.4h0M-29.6 -39.2h0M-18.5 -33.7h0M-24.6 -30.1h0M-31.8 -28.3h0M-30.0 -35.9h0M-35.2 -17.2h0M-32.0 -30.6h0M-18.8 -12.9h0M-4.8 -19.3h0M-25.8 -18.1h0M-10.4 -40.4h0M-32.7 -37.9h0M-10.6 -39.4h0M-31.7 -16.8h0M-33.2 -20.4h0M-7.8 -32.6h0M-22.5 -16.9h0M-26.7 -20.9h0M-16.5 -35.0h0M-12.1 -25.5h0M-23.1 -28.1h0M-26.1 -28.1h0M-15.2 -34.4h0M-33.8 -14.2h0M-25.5 -24.8h0M-37.7 -14.2h0M-24.2 -44.0h0M-10.0 -13.6h0M-27.9 -25.4h0M-28.1 -17.5h0M-18.5 -39.2h0M-25.7 -18.7h0M-35.2 -13.2h0M-12.5 -19.5h0M-13.9 -36.4h0M-36.0 -18.8h0M-28.0 -39.2h0M-13.4 -21.8h0M-23.3 -24.4h0M-22.6 -38.7h0M-29.8 -40.6h0M-7.1 -23.9h0M-5.8 -24.3h0M-32.9 -45.6h0M-31.9 -39.7h0M-34.7 -22.6h0M-23.6 -40.5h0M-15.4 -19.0h0M-7.9 -31.9h0M-21.3 -14.4h0M-29.0 -22.9h0M-24.4 -44.1h0M-18.3 -38.5h0M-36.4 -20.5h0M-13.6 -22.9h0M-31.0 -14.9h0M-37.1 -20.2h0M-20.0 -25.5h0M-19.4 -22.0h0M-38.3 -24.9h0M-27.3 -29.5h0M-25.8 -21.9h0M-37.1 -18.1h0M-28.6 -16.7h0M-37.8 -21.4h0M-38.2 -28.6h0M-26.4 -27.8h0M-20.7 -13.5h0M-35.4 -38.0h0M-19.7 -28.5h0M-27.0 -38.3h0M-21.5 -38.4h0M-10.0 -37.9h0M-13.8 -32.9h0M-22.9 -30.3h0M-18.9 -29.3h0M-10.6 -37.1h0M-37.1 -26.3h0M-17.6 -31.4h0M-7.5 -13.8h0M-22.5 -25.0h0M-6.1 -15.1h0M-19.4 -17.3h0M-12.9 -27.2h0M-13.5 -21.9h0M-8.4 -12.9h0M-31.1 -37.6h0M-8.5 -32.3h0M-29.4 -15.6h0M-14.4 -34.8h0M-36.8 -29.6h0M-20.6 -13.8h0M-22.3 -23.8h0M-35.3 -41.2h0M-6.6 -14.8h0M-23.5 -21.8h0M-15.7 -16.1h0M-27.3 -26.8h0M-22.5 -27.0h0M-18.3 -42.3h0M-6.7 -27.9h0M-10.3 -19.2h0M-30.4 -28.4h0M-16.7 -31.5h0M-26.8 -46.5h0M-28.1 -13.4h0M-35.7 -19.5h0M-13.6 -37.8h0M-37.4 -17.0h0M-30.5 -39.6h0M-7.9 -18.6h0M-35.3 -43.8h0M-5.3 -20.2h0M-22.6 -37.2h0M-12.4 -27.6h0M-29.5 -30.9h0M-16.0 -22.7h0M-16.8 -17.3h0M-5.4 -15.0h0M-31.0 -45.3h0M-6.1 -25.5h0M-9.8 -36.6h0M-10.5 -28.8h0M-36.3 -36.0h0M-10.0 -36.3h0M-37.3 -13.9h0M-13.7 -27.3h0M-8.0 -35.3h0M-23.4 -35.0h0M-15.9 -34.0h0M-36.5 -41.3h0M-13.9 -36.8h0M-22.9 -19.5h0M-23.3 -35.2h0M-19.9 -16.2h0M-38.7 -19.9h0M-30.4 -20.5h0M-31.2 -26.8h0M-14.9 -40.5h0M-15.5 -13.4h0M-8.9 -29.2h0M-13.6 -31.0h0M-26.6 -24.3h0M-36.4 -33.8h0M-37.0 -25.0h0M-7.4 -26.1h0M-17.9 -38.1h0M-5.8 -22.7h0M-4.7 -16.1h0M-38.3 -23.8h0M-16.8 -39.5h0M-17.7 -24.1h0M-38.7 -27.7h0M-17.3 -43.4h0M-18.4 -39.6h0M-12.2 -41.6h0M-22.9 -42.2h0M-25.2 -13.1h0M-27.6 -24.8h0M-4.6 -15.5h0M-35.5 -22.6h0M-25.2 -16.9h0M-18.2 -26.0h0M-11.2 -22.5h0M-5.1 -14.6h0M-20.5 -20.0h0M-38.4 -18.2h0M-8.0 -19.3h0M-22.0 -29.8h0M-29.7 -31.2h0M-36.6 -23.8h0M-29.0 -41.0h0M-12.3 -33.2h0M-18.3 -40.0h0M-13.3 -14.4h0M-34.4 -37.1h0M-9.9 -40.5h0M-12.1 -17.4h0M-19.3 -32.6h0M-18.0 -17.0h0M-5.5 -18.3h0M-29.6 -46.6h0M-25.6 -15.1h0M-15.8 -20.7h0M-31.3 -23.0h0M-17.9 -22.8h0M-15.9 -40.5h0M-4.7 -19.2h0M-7.1 -17.4h0M-10.4 -15.3h0M-18.8 -15.1h0M-35.4 -43.2h0M-34.5 -36.1h0M-20.7 -12.8h0M-11.5 -14.5h0M-8.3 -32.3h0M-21.7 -27.2h0M-37.9 -25.4h0M-37.5 -22.3h0M-6.9 -24.8h0M-34.8 -36.1h0M-14.7 -22.7h0M-12.2 -29.6h0M-24.6 -30.3h0M-29.3 -22.7h0M-8.2 -21.0h0M-12.3 -23.5h0M-32.3 -12.8h0M-5.6 -21.5h0M-5.0 -17.9h0M-36.7 -15.7h0M-37.2 -23.8h0M-17.4 -42.5h0M-28.6 -20.8h0M-31.2 -17.7h0M-37.9 -21.7h0M-24.4 -25.0h0M-6.0 -17.0h0M-10.3 -27.8h0M-35.3 -13.7h0M-17.8 -40.1h0M-37.1 -25.4h0M-30.8 -36.1h0M-89.0 -32.2h0M-76.0 -24.4h0M-70.7 -22.0h0M-66.3 -20.8h0M-61.1 -19.1h0M-56.7 -15.6h0M-52.4 -14.7h0M-48.0 -13.0h0M-53.3 -66.9h0M-45.2 -31.7h0M-25.3 -69.9h0M-18.3 -64.2h0M-21.8 -56.3h0M-38.4 -52.8h0M-37.8 -48.0h0M-39.1 -43.6h0M-26.2 -51.9h0M-23.6 -51.0h0M-18.1 -46.6h0M-36.2 -32.4h0M-35.6 -23.9h0M-69.0 -20.2h0M-50.6 -14.1h0M-63.7 -17.6h0M-59.4 -16.7h0M-55.0 -15.8h0M-46.3 -14.1h0M-43.7 -13.2h0M-41.0 -13.2h0M-31.4 -49.3h0M-34.0 -44.0h0M-13.1 -45.8h0M-57.6 -17.6h0"/><path stroke="#eda2f7" stroke-width="3.3" stroke-linecap="round" fill="none" d="M49.9 -33.9h0M16.5 -15.4h0M57.5 -32.6h0M55.0 -27.4h0M5.5 -14.7h0M54.3 -19.6h0M19.4 -11.6h0M52.6 -23.9h0M7.3 -16.8h0M14.2 -27.2h0M37.6 -37.5h0M8.1 -22.6h0M5.8 -16.2h0M48.5 -21.0h0M49.3 -20.8h0M24.9 -53.1h0M34.1 -33.2h0M43.2 -47.4h0M42.0 -18.1h0M13.9 -29.4h0M18.6 -35.0h0M7.7 -26.1h0M26.3 -11.9h0M9.5 -40.6h0M50.8 -37.8h0M24.7 -66.2h0M12.3 -41.0h0M56.1 -22.2h0M9.8 -12.1h0M48.2 -30.9h0M29.7 -14.2h0M39.1 -14.2h0M10.2 -29.4h0M39.1 -43.7h0M49.5 -18.5h0M19.9 -15.2h0M30.5 -11.2h0M51.9 -31.6h0M48.5 -27.3h0M54.4 -33.7h0M49.7 -36.4h0M14.9 -23.2h0M5.8 -21.8h0M29.5 -64.1h0M19.0 -28.6h0M51.8 -39.4h0M45.6 -42.4h0M55.0 -22.8h0M37.6 -12.0h0M41.0 -49.8h0M31.3 -15.3h0M34.9 -12.2h0M28.8 -12.9h0M26.3 -55.6h0M44.6 -42.0h0M28.6 -30.5h0M5.7 -22.0h0M35.0 -26.3h0M10.9 -25.3h0M6.2 -11.8h0M7.1 -18.0h0M10.4 -39.7h0M37.2 -48.9h0M34.0 -15.5h0M18.3 -51.5h0M35.8 -38.0h0M38.5 -11.6h0M14.0 -27.0h0M50.5 -39.9h0M36.2 -19.3h0M5.3 -16.9h0M25.8 -63.4h0M14.3 -17.1h0M3.5 -10.6h0M48.4 -39.5h0M11.3 -10.8h0M35.3 -18.9h0M37.5 -51.1h0M45.0 -20.7h0M37.0 -20.3h0M45.7 -20.2h0M52.0 -31.5h0M53.2 -23.8h0M56.8 -27.7h0M17.2 -39.5h0M20.2 -14.0h0M4.9 -16.7h0M16.3 -13.3h0M46.7 -17.5h0M45.5 -20.6h0M23.2 -61.3h0M49.6 -37.3h0M58.2 -27.6h0M55.7 -28.7h0M35.7 -22.2h0M24.1 -38.4h0M16.6 -39.0h0M51.6 -32.7h0M15.4 -11.1h0M23.4 -30.1h0M50.7 -28.5h0M32.0 -38.2h0M34.0 -41.0h0M34.3 -34.0h0M16.0 -14.1h0M27.6 -59.2h0M56.3 -23.4h0M35.2 -31.7h0M28.4 -17.0h0M47.4 -16.5h0M15.6 -20.4h0M14.1 -16.6h0M7.1 -20.3h0M12.4 -36.8h0M36.7 -36.4h0M29.9 -39.8h0M19.4 -30.4h0M41.7 -17.7h0M44.2 -31.4h0M57.9 -27.8h0M33.8 -46.3h0M19.0 -25.6h0M27.2 -49.3h0M43.4 -17.4h0M56.8 -34.4h0M30.7 -63.3h0M37.9 -24.2h0M7.6 -10.7h0M36.2 -41.7h0M37.6 -44.0h0M27.4 -49.7h0M36.9 -36.7h0M33.7 -40.5h0M34.4 -13.0h0M40.9 -37.8h0M26.9 -65.7h0M29.9 -16.3h0M31.6 -25.0h0M12.0 -48.9h0M12.7 -40.5h0M12.3 -30.5h0M59.2 -22.3h0M51.4 -17.4h0M58.1 -31.9h0M28.1 -42.5h0M28.7 -16.3h0M22.8 -30.3h0M52.0 -19.2h0M33.2 -30.2h0M34.0 -47.5h0M36.6 -21.9h0M56.8 -28.0h0M18.0 -34.4h0M51.8 -18.1h0M39.4 -28.3h0M19.0 -15.7h0M15.8 -27.9h0M26.6 -41.1h0M18.0 -38.4h0M29.5 -51.5h0M48.3 -20.4h0M58.1 -26.9h0M21.6 -20.3h0M43.1 -25.9h0M41.4 -19.0h0M51.4 -21.8h0M52.0 -25.7h0M25.4 -39.4h0M32.3 -34.8h0M34.4 -56.5h0M44.8 -15.4h0M58.7 -21.6h0M5.6 -22.0h0M18.3 -11.2h0M12.6 -29.6h0M50.5 -17.1h0M12.0 -10.7h0M5.7 -14.1h0M30.5 -61.8h0M39.4 -46.3h0M36.1 -52.4h0M40.8 -18.3h0M23.7 -32.9h0M8.9 -37.6h0M30.0 -17.8h0M30.5 -51.2h0M18.1 -36.7h0M7.8 -14.8h0M13.3 -30.3h0M41.6 -18.1h0M41.7 -32.2h0M45.2 -47.4h0M21.5 -64.2h0M28.4 -34.5h0M12.7 -12.7h0M39.2 -13.1h0M4.6 -11.0h0M33.4 -17.1h0M17.6 -46.6h0M27.9 -15.7h0M41.2 -51.8h0M37.9 -26.9h0M33.2 -43.0h0M50.2 -35.4h0M16.7 -46.8h0M8.5 -12.7h0M31.4 -16.9h0M34.5 -20.7h0M56.2 -25.5h0M48.9 -41.6h0M28.3 -50.7h0M30.6 -27.5h0M9.7 -30.5h0M54.9 -30.3h0M20.6 -34.3h0M22.8 -27.6h0M46.5 -14.7h0M29.9 -33.9h0M11.0 -37.4h0M17.0 -26.6h0M16.7 -36.5h0M27.1 -46.1h0M26.7 -52.9h0M33.9 -13.5h0M30.5 -20.1h0M19.5 -59.2h0M29.9 -47.6h0M11.5 -34.1h0M9.3 -15.4h0M9.8 -10.9h0M54.1 -36.9h0M23.5 -10.8h0M44.3 -34.4h0M5.2 -19.8h0M6.4 -13.6h0M46.8 -37.0h0M15.9 -31.5h0M48.0 -30.9h0M32.4 -16.8h0M6.5 -12.9h0M32.4 -37.4h0M28.7 -41.9h0M34.6 -38.8h0M25.9 -57.2h0M32.8 -53.9h0M58.6 -30.4h0M46.4 -34.5h0M34.0 -19.2h0M8.4 -27.1h0M16.7 -37.4h0M33.8 -37.2h0M27.0 -20.1h0M19.8 -43.9h0M52.9 -23.2h0M20.4 -29.9h0M27.0 -42.8h0M45.5 -37.9h0M48.5 -34.6h0M57.8 -25.6h0M28.0 -43.4h0M20.4 -52.4h0M26.3 -38.4h0M32.1 -25.1h0M3.2 -11.3h0M29.6 -61.5h0M10.4 -43.1h0M57.8 -30.4h0M18.5 -10.9h0M52.6 -18.8h0M19.5 -58.7h0M40.8 -43.6h0M49.9 -19.5h0M31.2 -13.3h0M24.1 -33.9h0M49.0 -21.8h0M40.4 -14.8h0M17.2 -12.0h0M35.6 -35.0h0M43.1 -25.3h0M55.8 -30.5h0M34.9 -51.5h0M12.8 -20.4h0M33.9 -36.7h0M56.8 -29.2h0M5.3 -22.8h0M29.1 -18.1h0M45.9 -32.5h0M51.1 -28.5h0M17.1 -30.0h0M29.1 -25.4h0M35.6 -15.0h0M17.0 -14.0h0M4.2 -14.1h0M44.5 -24.7h0M53.8 -29.1h0M40.0 -19.8h0M53.6 -23.9h0M50.6 -21.2h0M56.6 -29.4h0M12.7 -41.6h0M11.4 -23.3h0M24.1 -24.9h0M23.2 -16.2h0M25.3 -13.5h0M47.8 -23.4h0M43.0 -25.6h0M57.9 -31.6h0M42.7 -43.0h0M54.5 -35.7h0M26.1 -40.7h0M6.5 -16.0h0M21.2 -40.2h0M3.0 -12.6h0M6.8 -17.5h0M30.1 -53.9h0M38.5 -14.6h0M40.4 -18.0h0M37.6 -25.6h0M56.9 -25.7h0M18.0 -22.3h0M57.0 -24.3h0M16.4 -33.1h0M40.6 -49.6h0M7.1 -16.0h0M43.6 -28.1h0M41.8 -36.0h0M7.9 -11.2h0M12.7 -20.9h0M13.0 -20.2h0M9.1 -10.9h0M32.4 -46.8h0M11.7 -12.8h0M43.9 -14.7h0M10.6 -26.1h0M19.5 -49.0h0M31.3 -33.9h0M23.8 -11.2h0M49.2 -24.5h0M49.5 -17.9h0M27.1 -36.9h0M11.4 -12.2h0M55.7 -34.7h0M59.4 -26.6h0M44.2 -32.0h0M29.7 -16.6h0M39.0 -26.4h0M41.1 -12.4h0M19.3 -13.9h0M45.9 -27.2h0M18.9 -48.3h0M32.2 -21.5h0M24.9 -10.6h0M6.0 -10.8h0M57.2 -32.2h0M33.5 -56.9h0M33.2 -41.7h0M8.6 -20.6h0M37.3 -25.5h0M39.7 -22.1h0M39.8 -16.8h0M30.4 -29.0h0M32.5 -11.9h0M16.4 -42.9h0M12.0 -28.2h0M59.0 -27.4h0M44.3 -38.8h0M57.6 -24.8h0M25.1 -50.7h0M4.1 -13.5h0M18.0 -34.9h0M44.2 -42.7h0M31.4 -43.6h0M7.1 -23.5h0M55.4 -28.7h0M30.4 -33.6h0M26.0 -17.3h0M13.8 -45.7h0M31.9 -11.4h0M37.5 -46.7h0M39.6 -15.8h0M56.6 -22.1h0M31.5 -30.3h0M12.0 -19.1h0M13.2 -15.5h0M5.0 -17.3h0M40.4 -18.6h0M56.6 -25.3h0M28.5 -61.1h0M39.5 -27.3h0M45.0 -37.1h0M20.1 -12.4h0M44.2 -37.9h0M36.7 -13.7h0M44.9 -17.6h0M47.9 -31.5h0M38.7 -12.3h0M23.3 -48.2h0M8.9 -11.1h0M26.1 -58.1h0M38.4 -17.7h0M7.3 -28.5h0M50.4 -32.8h0M14.4 -43.6h0M3.2 -10.9h0M20.8 -60.9h0M4.6 -11.6h0M44.3 -38.5h0M17.8 -12.6h0M51.1 -40.2h0M54.2 -28.1h0M7.4 -26.5h0M39.5 -45.0h0M45.7 -28.1h0M58.0 -25.8h0M27.9 -42.5h0M47.3 -30.6h0M56.0 -23.1h0M53.5 -35.4h0M22.3 -11.2h0M36.7 -36.1h0M57.1 -27.3h0M43.7 -38.7h0M12.2 -37.8h0M27.5 -18.9h0M18.2 -24.9h0M44.3 -30.1h0M20.8 -12.0h0M47.3 -36.3h0M50.1 -35.5h0M6.2 -14.1h0M28.9 -22.6h0M49.4 -19.9h0M3.4 -12.3h0M5.5 -10.7h0M37.0 -35.1h0M33.4 -12.4h0M34.4 -32.3h0M19.9 -18.6h0M11.5 -27.4h0M23.4 -39.0h0M40.9 -19.6h0M37.1 -19.0h0M44.9 -18.4h0M36.3 -42.5h0M48.0 -28.6h0M54.4 -37.1h0M47.6 -23.5h0M17.7 -38.7h0M9.9 -14.5h0M8.0 -25.6h0M24.6 -61.7h0M48.4 -28.6h0M21.9 -23.6h0M5.6 -11.5h0M52.1 -22.7h0M3.1 -13.5h0M24.2 -51.5h0M28.3 -64.1h0M7.2 -19.2h0M39.4 -11.0h0M54.7 -23.8h0M41.1 -13.3h0M7.1 -11.6h0M47.4 -43.0h0M54.6 -27.3h0M7.8 -28.7h0M31.4 -49.1h0M38.6 -32.3h0M12.3 -14.6h0M7.3 -18.4h0M19.0 -59.2h0M5.4 -20.3h0M9.4 -12.5h0M55.0 -22.0h0M36.4 -34.5h0M25.3 -26.0h0M10.6 -34.6h0M23.7 -40.1h0M49.1 -17.2h0M26.6 -26.2h0M55.5 -28.8h0M13.8 -28.2h0M3.4 -12.6h0M6.6 -12.2h0M31.5 -34.6h0M14.7 -34.9h0M20.3 -44.5h0M5.6 -22.4h0M28.1 -16.8h0M19.1 -39.4h0M8.0 -33.6h0M15.2 -26.4h0M6.7 -18.1h0M57.2 -22.3h0M12.7 -32.1h0M38.9 -14.4h0M15.1 -36.1h0M16.2 -11.1h0M42.0 -44.8h0M48.4 -39.0h0M14.7 -21.6h0M36.7 -35.9h0M38.1 -31.9h0M15.9 -18.7h0M7.4 -11.2h0M35.6 -12.8h0M52.4 -38.5h0M10.9 -48.3h0M38.0 -10.6h0M24.4 -26.4h0M20.2 -12.4h0M16.4 -10.9h0M28.1 -33.0h0M15.8 -54.6h0M52.9 -27.0h0M48.1 -23.4h0M45.3 -38.4h0M22.6 -48.2h0M22.6 -16.7h0M26.4 -14.4h0M43.4 -19.4h0M30.9 -51.1h0M36.6 -51.9h0M43.8 -35.9h0M44.7 -35.4h0M54.8 -28.5h0M40.1 -31.0h0M32.9 -57.5h0M19.6 -17.1h0M31.1 -22.8h0M43.1 -33.8h0M14.5 -36.6h0M25.1 -45.8h0M29.3 -14.1h0M41.8 -50.1h0M7.8 -24.2h0M37.4 -35.3h0M31.3 -33.0h0M58.8 -30.8h0M27.3 -54.5h0M40.5 -42.9h0M59.2 -22.2h0M14.7 -18.2h0M49.1 -40.7h0M15.5 -30.2h0M53.1 -32.0h0M35.9 -51.6h0M55.0 -20.3h0M57.4 -23.6h0M37.5 -42.5h0M19.3 -22.4h0M54.0 -33.0h0M58.0 -21.8h0M38.2 -41.3h0M56.9 -29.9h0M18.5 -13.5h0M12.4 -19.0h0M35.0 -22.3h0M11.1 -12.4h0M41.5 -42.6h0M9.6 -25.1h0M58.2 -24.6h0M33.0 -49.5h0M4.0 -16.6h0M46.6 -36.1h0M22.1 -32.9h0M56.0 -20.5h0M7.3 -23.4h0M56.7 -21.7h0M13.3 -28.1h0M47.4 -29.8h0M40.1 -12.0h0M13.9 -34.6h0M43.7 -14.9h0M7.8 -16.4h0M26.1 -25.3h0M12.3 -12.3h0M39.2 -51.7h0M38.6 -50.4h0M9.8 -29.3h0M23.3 -55.6h0M36.6 -35.9h0M54.5 -36.2h0M10.4 -23.7h0M7.5 -21.9h0M15.3 -41.4h0M22.8 -10.7h0M53.0 -19.9h0M17.9 -32.9h0M5.9 -22.1h0M43.3 -15.3h0M37.8 -14.0h0M32.7 -13.2h0M18.6 -29.4h0M33.5 -39.9h0M55.2 -23.9h0M22.5 -18.3h0M44.5 -23.5h0M14.6 -16.6h0M26.5 -56.8h0M27.5 -54.3h0M29.4 -38.3h0M17.1 -26.9h0M43.7 -14.7h0M28.4 -20.5h0M19.1 -23.9h0M13.9 -34.1h0M4.9 -12.5h0M17.6 -16.5h0M50.0 -32.6h0M53.0 -20.0h0M13.3 -21.4h0M31.5 -52.2h0M50.0 -37.9h0M3.6 -10.6h0M21.7 -29.3h0M22.5 -14.7h0M52.2 -21.0h0M20.7 -16.6h0M50.8 -18.6h0M27.6 -19.1h0M16.6 -59.6h0M43.1 -38.0h0M22.8 -64.0h0M57.4 -28.3h0M15.5 -11.7h0M33.5 -30.9h0M51.6 -40.4h0M49.0 -20.7h0M58.5 -27.6h0M4.8 -12.1h0M57.0 -31.0h0M44.6 -34.2h0M3.9 -17.0h0M19.5 -48.2h0M33.2 -31.1h0M32.5 -56.5h0M50.0 -24.6h0M51.0 -19.9h0M22.4 -23.8h0M5.3 -14.8h0M57.6 -30.9h0M29.8 -12.2h0M17.5 -47.0h0M19.3 -13.3h0M26.9 -39.5h0M9.8 -20.6h0M34.2 -44.6h0M25.7 -67.6h0M17.1 -45.4h0M7.1 -30.0h0M33.5 -16.1h0M48.9 -39.5h0M10.0 -40.5h0M57.0 -24.4h0M47.5 -35.0h0M34.8 -25.4h0M20.4 -51.5h0M47.0 -43.5h0M6.5 -19.9h0M42.7 -18.1h0M3.8 -16.1h0M46.9 -35.0h0M21.5 -29.8h0M48.7 -17.3h0M43.6 -36.5h0M28.9 -62.4h0M38.5 -48.7h0M13.6 -25.8h0M19.2 -32.2h0M45.4 -47.0h0M54.3 -34.2h0M58.0 -29.4h0M44.4 -15.2h0M25.7 -34.2h0M8.6 -35.7h0M23.8 -20.1h0M7.3 -20.9h0M21.7 -61.1h0M38.6 -26.0h0M11.6 -11.5h0M41.7 -33.3h0M30.7 -33.2h0M25.9 -61.7h0M5.8 -13.0h0M47.7 -22.3h0M21.4 -29.4h0M19.4 -47.4h0M8.1 -23.1h0M43.2 -22.5h0M44.0 -23.0h0M38.0 -13.2h0M20.6 -36.3h0M37.3 -28.1h0M4.7 -15.5h0M51.7 -22.0h0M14.4 -36.7h0M15.8 -13.4h0M6.8 -21.9h0M52.7 -33.4h0M36.1 -50.4h0M50.8 -21.7h0M24.2 -65.0h0M56.1 -28.9h0M38.4 -22.2h0M7.8 -16.7h0M15.7 -37.9h0M39.8 -34.8h0M54.3 -19.0h0M14.3 -13.2h0M23.6 -60.3h0M29.2 -52.0h0M13.0 -23.2h0M47.9 -21.7h0M44.1 -32.0h0M39.8 -11.4h0M23.1 -64.7h0M23.9 -21.9h0M59.3 -27.1h0M42.1 -27.8h0M38.0 -24.4h0M18.2 -21.4h0M15.5 -41.2h0M7.6 -12.2h0M31.4 -62.2h0M47.0 -33.5h0M44.7 -18.4h0M31.6 -10.9h0M32.1 -11.3h0M9.2 -12.8h0M22.2 -32.1h0M15.0 -12.5h0M9.5 -41.4h0M58.5 -31.6h0M10.4 -15.5h0M52.5 -18.1h0M11.1 -33.9h0M57.3 -32.9h0M50.5 -22.8h0M44.2 -45.9h0M53.7 -37.5h0M45.9 -38.4h0M42.5 -25.4h0M35.1 -54.5h0M35.1 -11.0h0M28.0 -57.7h0M42.9 -27.7h0M55.6 -31.2h0M15.3 -41.5h0M52.0 -17.8h0M55.8 -25.5h0M50.7 -17.1h0M20.8 -22.6h0M15.0 -38.9h0M47.8 -32.5h0M54.3 -20.2h0M18.9 -27.0h0M47.6 -35.5h0M58.8 -30.7h0M32.7 -45.4h0M49.1 -28.1h0M41.2 -44.8h0M49.8 -19.1h0M4.3 -16.2h0M48.9 -19.4h0M50.9 -34.1h0M11.9 -14.9h0M39.9 -34.4h0M11.7 -48.6h0M14.8 -48.6h0M56.3 -21.2h0M42.4 -30.5h0M54.6 -25.7h0M26.0 -19.9h0M50.7 -22.9h0M54.3 -19.3h0M53.0 -18.5h0M43.7 -47.0h0M20.9 -38.2h0M26.1 -12.5h0M50.2 -27.2h0M48.1 -16.0h0M11.9 -17.5h0M48.9 -16.3h0M3.9 -12.6h0M24.6 -56.5h0M51.4 -21.3h0M44.7 -23.1h0M46.1 -33.5h0M6.6 -18.1h0M26.6 -32.3h0M34.1 -41.6h0M25.4 -35.9h0M49.6 -32.7h0M13.6 -14.5h0M18.0 -58.2h0M24.6 -58.8h0M57.4 -29.3h0M23.6 -49.1h0M31.1 -60.1h0M31.1 -40.5h0M41.5 -34.2h0M12.7 -33.2h0M26.9 -45.9h0M46.6 -19.0h0M23.6 -20.7h0M57.2 -26.2h0M28.2 -64.0h0M47.0 -40.2h0M31.2 -14.5h0M23.7 -13.1h0M25.3 -31.7h0M29.8 -63.1h0M32.8 -15.9h0M12.8 -38.9h0M31.9 -27.5h0M30.6 -28.0h0M41.1 -32.7h0M5.4 -16.2h0M16.8 -35.8h0M28.9 -49.7h0M57.4 -29.9h0M37.7 -30.0h0M9.0 -31.3h0M13.8 -24.5h0M35.8 -19.6h0M51.6 -28.3h0M57.8 -21.1h0M29.0 -23.9h0M35.2 -38.5h0M36.1 -54.1h0M27.6 -26.9h0M45.2 -30.0h0M17.9 -56.2h0M15.4 -12.5h0M33.1 -55.4h0M51.1 -35.7h0M37.3 -30.3h0M19.1 -16.0h0M27.8 -55.4h0M34.1 -58.8h0M48.0 -29.0h0M36.2 -26.3h0M54.1 -33.9h0M12.7 -50.9h0M41.0 -22.9h0M44.9 -25.3h0M42.0 -28.7h0M38.4 -50.7h0M53.1 -26.5h0M24.6 -47.8h0M40.5 -13.4h0M31.5 -21.2h0M39.4 -15.3h0M19.5 -19.9h0M18.5 -35.6h0M51.6 -30.7h0M39.3 -41.5h0M24.8 -30.2h0M39.6 -16.7h0M45.4 -44.1h0M52.6 -18.8h0M54.6 -22.0h0M10.0 -29.8h0M22.3 -16.9h0M37.1 -31.7h0M33.1 -32.4h0M37.6 -43.7h0M43.5 -36.6h0M49.6 -26.6h0M38.9 -13.4h0M7.3 -18.9h0M41.3 -18.2h0M57.1 -23.5h0M30.5 -31.2h0M57.7 -22.2h0M16.9 -38.7h0M23.2 -25.1h0M10.1 -42.5h0M27.7 -39.0h0M16.5 -56.0h0M8.6 -28.9h0M6.3 -18.8h0M21.1 -60.7h0M27.5 -56.0h0M4.3 -12.0h0M58.6 -24.7h0M4.8 -12.6h0M23.2 -35.4h0M24.3 -23.3h0M29.5 -31.7h0M13.0 -30.8h0M35.4 -34.5h0M44.6 -26.4h0M14.7 -54.8h0M9.3 -17.7h0M26.3 -29.7h0M14.6 -50.0h0M19.8 -35.2h0M37.2 -14.2h0M27.1 -15.1h0M33.4 -44.4h0M51.1 -39.2h0M9.0 -22.2h0M40.4 -23.4h0M56.2 -26.4h0M52.0 -18.5h0M24.7 -46.6h0M50.2 -27.2h0M51.3 -34.0h0M26.1 -48.2h0M31.9 -13.9h0M53.7 -34.5h0M53.2 -21.7h0M46.7 -15.3h0M31.0 -22.4h0M31.3 -26.4h0M33.8 -28.0h0M45.7 -33.6h0M18.4 -17.3h0M16.1 -22.6h0M26.7 -35.0h0M46.0 -45.9h0M17.4 -21.5h0M32.0 -10.7h0M38.7 -11.3h0M36.3 -34.6h0M24.3 -66.3h0M20.3 -10.9h0M8.7 -15.4h0M44.5 -37.4h0M22.7 -57.6h0M11.9 -17.5h0M35.0 -32.5h0M47.5 -22.1h0M53.8 -29.6h0M41.7 -31.7h0M14.6 -33.8h0M56.1 -20.1h0M21.4 -22.9h0M17.1 -46.6h0M39.4 -14.2h0M42.6 -44.8h0M6.3 -10.7h0M36.8 -50.1h0M33.8 -31.7h0M25.7 -38.9h0M54.4 -28.7h0M45.0 -26.9h0M52.8 -33.3h0M31.5 -22.2h0M19.7 -61.4h0M38.9 -12.2h0M32.2 -28.3h0M36.6 -20.2h0M53.9 -26.5h0M49.6 -21.3h0M53.0 -28.0h0M33.6 -28.2h0M56.1 -27.6h0M33.0 -24.8h0M28.6 -21.4h0M27.9 -21.2h0M7.0 -16.6h0M4.2 -15.4h0M8.0 -33.4h0M20.6 -20.9h0M33.8 -21.2h0M43.7 -21.2h0M54.9 -19.7h0M5.8 -24.0h0M41.7 -19.4h0M39.1 -22.8h0M31.5 -21.0h0M33.3 -39.8h0M50.6 -21.4h0M35.0 -34.4h0M52.2 -26.6h0M51.7 -38.3h0M25.8 -29.3h0M57.6 -27.4h0M32.7 -47.7h0M36.9 -30.9h0M40.0 -18.9h0M24.1 -10.7h0M43.5 -41.6h0M44.4 -47.2h0M45.5 -16.1h0M20.9 -58.7h0M8.7 -35.3h0M47.8 -18.1h0M14.5 -42.7h0M39.7 -11.3h0M32.7 -16.9h0M51.3 -28.1h0M3.4 -11.9h0M3.2 -13.7h0M53.0 -31.9h0M55.8 -22.9h0M39.5 -41.5h0M34.3 -13.9h0M16.6 -43.9h0M9.6 -20.4h0M55.5 -25.1h0M11.3 -34.5h0M22.4 -51.3h0M23.3 -54.5h0M49.5 -19.4h0M33.6 -28.7h0M9.6 -40.2h0M22.0 -39.9h0M6.0 -26.3h0M58.3 -28.6h0M10.0 -31.6h0M29.2 -32.0h0M15.0 -15.1h0M50.6 -30.1h0M45.0 -37.1h0M25.4 -37.7h0M19.8 -41.4h0M27.1 -52.7h0M19.2 -26.1h0M7.3 -10.9h0M14.8 -10.8h0M26.7 -27.7h0M52.7 -18.5h0M58.5 -22.0h0M49.7 -23.7h0M16.6 -37.2h0M22.8 -10.9h0M10.0 -32.3h0M43.5 -49.2h0M17.0 -46.4h0M22.1 -34.3h0M18.4 -27.4h0M54.5 -22.4h0M26.7 -61.6h0M28.3 -53.6h0M32.9 -24.2h0M43.5 -34.4h0M24.2 -66.7h0M7.8 -31.0h0M43.5 -36.7h0M29.5 -48.5h0M5.1 -18.1h0M51.7 -25.0h0M44.6 -35.6h0M31.1 -48.5h0M30.1 -14.4h0M32.3 -46.6h0M11.9 -27.3h0M50.0 -16.7h0M51.6 -23.7h0M23.2 -45.9h0M35.2 -20.7h0M11.5 -24.7h0M53.1 -38.7h0M43.4 -36.2h0M41.6 -47.3h0M11.7 -14.4h0M50.5 -17.1h0M32.3 -27.0h0M54.7 -29.1h0M15.4 -12.1h0M29.4 -36.5h0M29.1 -38.4h0M6.1 -15.3h0M49.7 -22.0h0M13.3 -15.9h0M55.9 -33.2h0M25.6 -24.9h0M23.5 -58.2h0M54.2 -36.5h0M51.2 -31.9h0M9.3 -39.9h0M12.1 -41.3h0M22.9 -11.4h0M40.0 -18.6h0M53.0 -20.7h0M40.5 -26.0h0M5.3 -13.3h0M20.2 -48.8h0M46.4 -43.7h0M12.0 -16.9h0M23.8 -24.0h0M14.3 -43.7h0M33.1 -14.6h0M20.4 -21.9h0M28.9 -61.5h0M44.4 -25.6h0M58.8 -23.5h0M13.3 -36.9h0M46.3 -35.8h0M31.4 -45.4h0M21.5 -60.9h0M44.6 -39.8h0M33.3 -55.7h0M29.3 -61.9h0M27.8 -63.4h0M20.6 -33.8h0M34.4 -33.7h0M50.5 -37.1h0M12.9 -40.4h0M32.5 -27.1h0M9.2 -38.4h0M58.7 -28.9h0M35.0 -12.7h0M20.8 -23.8h0M7.5 -17.5h0M23.4 -29.0h0M6.5 -12.1h0M56.6 -27.3h0M15.8 -28.5h0M23.2 -33.0h0M12.7 -42.2h0M55.6 -28.9h0M57.1 -31.3h0M33.1 -32.9h0M41.8 -23.2h0M6.9 -18.3h0M49.0 -32.8h0M4.9 -19.5h0M5.3 -16.4h0M12.7 -20.7h0M15.7 -37.0h0M43.0 -44.7h0M31.3 -12.1h0M4.8 -11.1h0M9.9 -14.5h0M19.4 -15.4h0M50.9 -23.8h0M29.8 -50.5h0M12.9 -30.0h0M5.0 -15.3h0M55.3 -27.8h0M19.8 -40.1h0M31.1 -32.6h0M38.7 -39.4h0M53.1 -38.2h0M57.2 -31.1h0M41.4 -42.1h0M13.6 -16.7h0M50.4 -25.7h0M3.8 -14.9h0M10.2 -17.7h0M54.9 -21.6h0M49.5 -21.4h0M47.7 -24.1h0M34.5 -40.9h0M43.3 -18.0h0M40.7 -15.7h0M16.5 -46.6h0M11.3 -24.2h0M9.1 -26.3h0M12.6 -23.4h0M58.2 -25.6h0M31.0 -11.3h0M17.5 -13.6h0M37.8 -14.9h0M12.7 -14.6h0M44.6 -33.9h0M19.2 -22.7h0M18.3 -34.6h0M34.9 -14.4h0M11.3 -33.5h0M18.5 -41.3h0M12.6 -13.1h0M6.6 -26.5h0M33.1 -10.9h0M22.8 -41.5h0M15.0 -48.7h0M32.5 -36.1h0M13.3 -56.2h0M33.6 -14.5h0M45.5 -14.4h0M41.3 -43.8h0M38.9 -11.0h0M6.2 -24.6h0M50.7 -21.7h0M55.3 -32.6h0M8.7 -35.5h0M3.4 -11.7h0M14.5 -17.3h0M31.0 -11.7h0M57.4 -22.7h0M41.3 -22.6h0M54.7 -27.9h0M30.8 -48.2h0M34.5 -28.6h0M12.5 -45.1h0M38.3 -27.7h0M58.7 -25.8h0M44.7 -17.2h0M23.0 -41.6h0M17.3 -60.3h0M58.8 -27.9h0M43.4 -20.1h0M46.4 -40.8h0M28.7 -37.7h0M39.8 -18.3h0M5.2 -12.1h0M32.4 -39.7h0M51.2 -21.8h0M12.1 -25.8h0M11.9 -18.7h0M30.4 -43.9h0M8.6 -13.8h0M29.4 -34.7h0M12.6 -37.8h0M34.7 -57.0h0M56.8 -28.4h0M7.6 -21.3h0M18.0 -20.8h0M6.9 -23.7h0M39.9 -19.4h0M15.7 -58.7h0M34.0 -42.1h0M16.6 -56.4h0M43.4 -28.6h0M9.0 -21.3h0M4.0 -11.6h0M47.0 -16.9h0M14.3 -22.9h0M57.5 -22.2h0M26.2 -37.0h0M5.2 -16.8h0M6.6 -15.2h0M20.9 -63.7h0M27.5 -23.1h0M21.3 -22.5h0M11.8 -20.9h0M41.9 -22.7h0M15.6 -11.4h0M47.3 -21.7h0M18.0 -51.8h0M57.6 -27.0h0M6.6 -25.8h0M45.9 -14.5h0M18.9 -51.7h0M29.6 -16.8h0M58.5 -23.1h0M12.9 -39.7h0M58.6 -28.7h0M3.7 -10.6h0M14.8 -39.2h0M57.1 -21.5h0M40.5 -36.6h0M4.3 -18.2h0M20.4 -26.0h0M47.6 -29.1h0M38.1 -11.8h0M37.9 -14.7h0M49.4 -35.6h0M39.4 -35.7h0M58.0 -30.8h0M43.3 -23.1h0M3.3 -14.7h0M6.3 -10.9h0M36.4 -56.9h0M27.9 -18.5h0M3.7 -11.2h0M23.2 -25.4h0M17.9 -53.6h0M59.3 -31.6h0M13.7 -40.4h0M11.9 -27.3h0M31.0 -23.0h0M47.1 -19.6h0M48.2 -36.1h0M38.3 -12.3h0M9.5 -35.6h0M57.0 -22.9h0M40.4 -40.6h0M51.9 -19.5h0M14.2 -12.0h0M42.0 -22.9h0M42.2 -16.3h0M38.8 -19.2h0M27.5 -39.9h0M56.6 -22.2h0M47.1 -15.7h0M12.7 -39.7h0M7.3 -28.9h0M53.0 -21.4h0M42.7 -34.5h0M58.1 -26.2h0M23.5 -57.9h0M17.8 -55.6h0M23.2 -28.6h0M50.0 -34.7h0M13.1 -38.0h0M58.7 -25.0h0M34.3 -39.6h0M43.5 -24.2h0M24.2 -17.0h0M38.1 -21.8h0M47.3 -15.7h0M45.7 -17.5h0M51.9 -35.3h0M22.8 -13.6h0M14.6 -17.2h0M58.2 -30.4h0M4.0 -10.6h0M34.3 -28.9h0M34.0 -50.4h0M50.1 -18.8h0M57.6 -25.8h0M29.3 -15.7h0M16.2 -16.6h0M18.6 -34.5h0M17.3 -20.3h0M8.9 -11.6h0M54.3 -25.6h0M28.3 -14.9h0M58.4 -21.4h0M47.1 -15.6h0M19.0 -31.5h0M28.5 -46.4h0M35.0 -41.6h0M6.4 -14.5h0M18.2 -30.9h0M26.4 -14.1h0M9.9 -11.6h0M5.7 -19.4h0M57.3 -27.7h0M13.8 -35.9h0M30.7 -21.5h0M48.2 -21.0h0M20.0 -11.7h0M16.4 -55.0h0M29.8 -47.0h0M30.4 -20.7h0M22.7 -34.2h0M20.1 -33.5h0M4.0 -12.8h0M9.2 -23.0h0M32.7 -55.8h0M52.1 -37.0h0M27.9 -22.8h0M50.7 -18.7h0M24.2 -12.3h0M48.7 -35.1h0M55.2 -21.6h0M50.1 -32.9h0M33.5 -28.6h0M48.3 -26.8h0M56.3 -33.9h0M23.5 -36.2h0M27.0 -60.8h0M51.1 -24.8h0M23.5 -23.8h0M40.3 -36.3h0M37.8 -30.6h0M40.7 -11.4h0M29.8 -44.8h0M44.0 -40.8h0M15.4 -54.5h0M57.6 -28.0h0M49.2 -19.7h0M13.3 -17.4h0M32.9 -54.5h0M22.5 -60.8h0M49.8 -17.0h0M4.3 -19.2h0M31.0 -49.2h0M51.5 -22.7h0M3.5 -14.6h0M55.5 -24.9h0M40.1 -11.2h0M55.9 -28.4h0M58.1 -28.8h0M23.0 -17.0h0M31.8 -53.8h0M32.9 -33.9h0M15.1 -14.9h0M16.1 -21.6h0M29.4 -61.2h0M18.0 -18.6h0M44.7 -45.5h0M16.0 -21.3h0M26.1 -12.3h0M7.9 -22.6h0M16.6 -18.6h0M48.3 -27.1h0M34.6 -39.3h0M44.8 -44.7h0M57.7 -21.8h0M44.6 -13.9h0M9.4 -16.4h0M10.0 -13.9h0M15.9 -48.1h0M47.3 -27.8h0M33.8 -45.1h0M36.1 -12.5h0M28.7 -18.1h0M29.3 -63.6h0M13.8 -21.9h0M35.6 -38.8h0M20.0 -27.0h0M30.9 -58.8h0M5.4 -22.6h0M34.2 -54.6h0M24.8 -43.7h0M3.9 -11.6h0M39.4 -21.5h0M32.0 -61.1h0M34.4 -40.2h0M34.6 -19.3h0M58.6 -24.8h0M4.0 -13.0h0M26.1 -18.6h0M26.9 -12.7h0M56.0 -26.9h0M18.9 -34.8h0M36.2 -25.0h0M48.5 -26.3h0M55.0 -31.8h0M41.9 -16.1h0M42.6 -49.5h0M48.8 -16.5h0M18.7 -10.6h0M40.4 -47.1h0M41.6 -35.7h0M33.4 -44.4h0M33.6 -48.2h0M11.5 -26.9h0M38.3 -12.1h0M34.5 -54.3h0M7.6 -26.8h0M43.4 -44.6h0M57.5 -28.3h0M36.5 -28.9h0M27.6 -40.5h0M21.8 -51.4h0M33.6 -28.2h0M31.9 -44.3h0M50.1 -36.4h0M42.9 -19.0h0M9.5 -12.0h0M31.4 -12.7h0M29.5 -48.9h0M27.6 -58.3h0M23.0 -32.9h0M17.7 -14.5h0M35.4 -14.1h0M11.0 -19.0h0M43.9 -48.0h0M14.9 -18.6h0M57.6 -27.4h0M47.8 -44.6h0M40.0 -18.4h0M58.3 -31.5h0M57.5 -28.4h0M15.8 -29.7h0M19.7 -48.5h0M25.3 -13.2h0M53.1 -23.5h0M12.5 -39.8h0M10.0 -29.3h0M27.8 -14.6h0M56.8 -29.5h0M5.8 -24.2h0M39.2 -44.8h0M46.4 -18.0h0M20.4 -16.4h0M48.6 -41.9h0M35.2 -39.5h0M58.0 -26.5h0M27.6 -22.1h0M58.6 -22.3h0M13.4 -48.6h0M4.1 -11.6h0M32.6 -19.0h0M24.4 -11.1h0M40.6 -12.9h0M19.0 -13.5h0M42.1 -17.9h0M34.1 -11.3h0M34.7 -23.3h0M54.1 -21.4h0M19.4 -54.1h0M6.1 -17.5h0M30.2 -22.0h0M12.2 -29.5h0M4.3 -10.6h0M18.8 -25.8h0M17.3 -43.2h0M26.2 -41.8h0M36.1 -41.3h0M55.5 -27.7h0M82.7 -38.0h0M88.8 -39.7h0M75.5 -42.4h0M74.3 -33.2h0M93.7 -50.1h0M91.5 -45.0h0M92.9 -42.1h0M71.2 -35.8h0M84.5 -43.2h0M83.0 -40.5h0M76.9 -36.6h0M64.7 -26.2h0M63.5 -25.6h0M61.9 -23.5h0M61.3 -26.4h0M65.8 -34.0h0M57.0 -24.7h0M80.4 -45.0h0M83.6 -37.2h0M87.1 -38.7h0M90.4 -43.6h0M95.3 -50.0h0M95.0 -49.2h0M59.2 -31.5h0M90.6 -42.1h0M92.2 -45.7h0M87.9 -53.5h0M56.4 -25.9h0M59.8 -23.3h0M67.6 -30.2h0M86.8 -41.5h0M70.4 -34.0h0M82.8 -46.2h0M67.5 -26.7h0M62.9 -27.0h0M83.8 -45.9h0M62.1 -23.7h0M77.4 -42.1h0M75.4 -32.0h0M75.9 -31.9h0M81.3 -50.1h0M80.7 -47.3h0M59.4 -25.5h0M94.4 -49.0h0M93.6 -43.7h0M54.5 -20.1h0M81.9 -45.5h0M66.6 -26.4h0M78.3 -36.8h0M84.4 -39.1h0M62.4 -30.0h0M95.3 -50.9h0M93.2 -51.4h0M52.7 -23.4h0M59.2 -27.7h0M88.9 -43.8h0M53.7 -20.1h0M85.3 -38.8h0M56.3 -29.1h0M95.4 -43.5h0M87.2 -39.0h0M80.3 -40.0h0M76.0 -41.0h0M71.8 -29.2h0M68.9 -28.0h0M94.9 -55.1h0M92.8 -42.1h0M74.4 -33.6h0M74.1 -34.0h0M61.0 -34.9h0M52.8 -27.3h0M67.1 -38.9h0M78.6 -38.3h0M80.2 -38.6h0M82.6 -41.1h0M74.0 -34.0h0M72.1 -37.3h0M92.4 -41.5h0M94.7 -57.2h0M57.3 -22.4h0M74.1 -32.2h0M77.6 -34.4h0M82.6 -40.7h0M69.7 -34.4h0M59.0 -22.1h0M80.2 -51.8h0M76.0 -36.0h0M85.4 -51.2h0M69.9 -33.5h0M55.2 -20.7h0M92.7 -48.3h0M89.6 -42.9h0M65.9 -26.7h0M58.9 -22.2h0M71.9 -36.9h0M91.5 -51.8h0M88.2 -48.5h0M54.4 -33.4h0M72.7 -30.3h0M61.3 -24.0h0M95.8 -50.8h0M96.0 -44.2h0M84.6 -46.9h0M61.3 -24.6h0M64.5 -25.6h0M67.8 -30.9h0M52.6 -19.9h0M57.3 -24.8h0M56.6 -22.2h0M93.2 -43.1h0M63.6 -25.8h0M87.8 -40.2h0M60.6 -27.5h0M92.2 -44.4h0M92.4 -52.0h0M55.6 -21.2h0M91.8 -40.4h0M89.0 -45.1h0M59.4 -26.4h0M77.2 -32.6h0M63.3 -28.5h0M53.1 -19.4h0M57.3 -22.1h0M74.7 -38.1h0M81.2 -34.4h0M70.2 -32.3h0M85.2 -37.5h0M78.9 -41.2h0M63.5 -32.3h0M87.5 -41.6h0M68.5 -36.0h0M75.6 -36.4h0M85.6 -38.7h0M66.3 -36.6h0M74.9 -35.1h0M91.1 -46.8h0M53.7 -21.1h0M81.1 -43.1h0M82.4 -39.7h0M78.7 -43.8h0M59.1 -26.0h0M52.6 -19.2h0M74.5 -38.3h0M85.6 -38.1h0M79.6 -42.6h0M95.5 -45.0h0M80.9 -39.0h0M81.6 -50.6h0M93.1 -47.8h0M72.8 -36.9h0M75.5 -37.0h0M57.9 -30.7h0M95.6 -47.6h0M79.0 -39.8h0M66.0 -27.2h0M90.3 -41.2h0M57.0 -27.9h0M86.7 -49.1h0M85.1 -40.5h0M55.1 -25.6h0M84.9 -37.6h0M71.7 -33.4h0M56.3 -24.2h0M55.0 -26.3h0M79.1 -36.5h0M92.0 -44.1h0M64.3 -27.2h0M85.4 -37.0h0M60.8 -26.6h0M56.0 -24.3h0M61.8 -31.3h0M26.4 -72.6h0M39.4 -64.0h0M51.6 -42.9h0M29.7 -83.1h0M44.7 -48.4h0M57.8 -43.0h0M58.5 -40.0h0M35.8 -60.5h0M69.2 -31.2h0M68.6 -23.1h0M38.8 -67.0h0M41.9 -56.9h0M42.9 -78.4h0M46.4 -60.8h0M29.9 -73.3h0M62.4 -28.9h0M28.0 -73.0h0M41.6 -59.5h0M40.7 -54.9h0M58.7 -34.5h0M68.4 -36.5h0M63.6 -42.0h0M60.6 -34.3h0M60.9 -33.9h0M55.7 -37.9h0M51.5 -55.5h0M34.2 -61.2h0M42.6 -63.1h0M69.4 -34.5h0M64.9 -26.5h0M49.1 -52.4h0M46.3 -53.8h0M66.8 -27.6h0M42.6 -63.9h0M48.6 -56.5h0M66.2 -25.5h0M52.0 -40.2h0M67.8 -25.6h0M32.8 -69.1h0M64.7 -36.8h0M52.2 -44.3h0M65.4 -36.3h0M45.7 -48.2h0M40.8 -64.8h0M47.8 -47.1h0M30.1 -66.0h0M46.8 -47.8h0M35.4 -63.3h0M36.0 -61.7h0M73.1 -141.4h0M55.2 -127.3h0M68.4 -123.5h0M47.3 -113.7h0M53.3 -103.8h0M44.9 -97.7h0M64.8 -91.5h0M47.0 -85.4h0M50.5 -84.5h0M46.3 -81.8h0M36.2 -79.2h0M94.9 -80.1h0M100.8 -76.1h0M105.0 -73.4h0M73.1 -69.5h0M52.6 -67.5h0M42.8 -70.4h0M36.7 -66.0h0M38.4 -69.5h0M34.9 -70.4h0M31.4 -67.8h0M49.5 -62.3h0M74.8 -58.8h0M70.9 -56.4h0M55.3 -54.6h0M47.7 -56.3h0M44.2 -54.0h0M41.9 -55.4h0M64.4 -52.6h0M67.1 -50.5h0M115.0 -57.4h0M114.3 -54.6h0M105.3 -51.2h0M107.8 -50.8h0M62.9 -45.6h0M64.4 -41.5h0M70.6 -39.4h0M49.8 -44.9h0M52.6 -40.8h0M57.4 -36.6h0M56.7 -33.8h0M92.8 -41.5h0M95.6 -42.9h0M90.0 -38.0h0M80.3 -36.6h0M83.1 -35.9h0M85.9 -36.6h0M87.2 -35.9h0M78.2 -31.1h0M74.8 -29.7h0M73.4 -29.0h0M65.0 -34.5h0M67.8 -35.2h0M61.6 -33.8h0M29.7 -75.7h0M22.7 -73.0h0M26.2 -71.3h0M19.2 -66.9h0"/></g></defs>
<text x="18.00" y="21.30" font-size="13" fill="#111" font-weight="bold" >a</text>
<path d="M29.8,71.4 C35,68 39.5,61.8 44.5,61.6 C50.5,61.6 54,72.5 61,76.2 C67,79 73,79.6 81,79.8 L81,84 C73,84 66,83 59.8,80 C52.5,76.5 49,64.6 44.5,64.2 C40.5,64 35,69.6 29.8,71.8 Z" fill="#a9b5bd" stroke="#8f979c" stroke-width="0.4"/>
<ellipse cx="101.5" cy="80.5" rx="23" ry="20.8" fill="#a9b5bd" stroke="#8f979c" stroke-width="0.5"/>
<path d="M118,69 L136.5,70.8 Q146,75 153.4,80.9 Q146,86.5 136.5,90.5 L118,93 Z" fill="#a9b5bd" stroke="#8f979c" stroke-width="0.5" stroke-linejoin="round"/>
<circle cx="126.8" cy="68.9" r="9.7" fill="#a9b5bd" stroke="#8f979c" stroke-width="0.5"/>
<circle cx="126.8" cy="91.4" r="9.8" fill="#a9b5bd" stroke="#8f979c" stroke-width="0.5"/>
<ellipse cx="142.9" cy="77.6" rx="1.2" ry="1.4" fill="#d6a283"/><ellipse cx="142.9" cy="83.9" rx="1.2" ry="1.4" fill="#d6a283"/>
<text x="37.80" y="50.60" font-size="6.9" fill="#a88d5c" font-style="italic" >hemizygous RIP-DTR female</text>
<text x="29.80" y="94.60" font-size="10.6" fill="#333" textLength="45.3" lengthAdjust="spacingAndGlyphs">RIP-DTR</text>
<text x="30.6" y="106.3" font-size="11" fill="#333">X</text><text x="38" y="103" font-size="6.3" font-style="italic" fill="#999" textLength="12.6" lengthAdjust="spacingAndGlyphs">hprt</text><text x="50.6" y="106.3" font-size="11" fill="#333">X</text><text x="58.7" y="103" font-size="5.6" font-weight="bold" font-style="italic" fill="#9b7a3e" textLength="13.6" lengthAdjust="spacingAndGlyphs">DTR</text>
<text x="160.80" y="82.90" font-size="12.2" fill="#8a5f1e" font-weight="bold" textLength="14.4" lengthAdjust="spacingAndGlyphs">DT</text>
<line x1="173.80" y1="58.60" x2="201.37" y2="42.45" stroke="#1a1a1a" stroke-width="2.9" />
<path d="M210.00,37.40 L203.47,47.02 L198.41,38.39 Z" fill="#1a1a1a"/>
<line x1="172.60" y1="94.30" x2="201.29" y2="110.49" stroke="#1a1a1a" stroke-width="2.9" />
<path d="M210.00,115.40 L198.40,114.60 L203.31,105.89 Z" fill="#1a1a1a"/>
<text font-size="9.25" font-style="italic" fill="#222" transform="translate(159.8,59.2) rotate(-30)">standard diet [SD]</text>
<text font-size="9.35" font-style="italic" fill="#222" transform="translate(153.6,100.4) rotate(30)">high-fat diet [HFD]</text>
<text x="240.20" y="86.80" font-size="11" fill="#333" textLength="37" lengthAdjust="spacingAndGlyphs">10WPA</text>
<circle cx="266.1" cy="11.1" r="6.29" fill="#c8d2bb"/>
<circle cx="249.7" cy="20.4" r="6.29" fill="#c8d2bb"/>
<circle cx="260.5" cy="19.9" r="6.29" fill="#c8d2bb"/>
<circle cx="272.5" cy="19.9" r="6.29" fill="#c8d2bb"/>
<circle cx="243.6" cy="30.1" r="6.29" fill="#c8d2bb"/>
<circle cx="255.5" cy="29.4" r="6.29" fill="#c8d2bb"/>
<circle cx="265.8" cy="28.6" r="6.29" fill="#c8d2bb"/>
<circle cx="277.8" cy="27.4" r="6.29" fill="#c8d2bb"/>
<circle cx="238.7" cy="37.6" r="6.29" fill="#c8d2bb"/>
<circle cx="250.0" cy="39.1" r="6.06" fill="#c8d2bb"/>
<circle cx="261.5" cy="38.5" r="6.29" fill="#c8d2bb"/>
<circle cx="271.1" cy="37.1" r="6.29" fill="#c8d2bb"/>
<circle cx="282.1" cy="36.0" r="6.64" fill="#c8d2bb"/>
<circle cx="244.8" cy="46.7" r="6.06" fill="#c8d2bb"/>
<circle cx="256.5" cy="47.3" r="6.29" fill="#c8d2bb"/>
<circle cx="250.6" cy="54.3" r="6.29" fill="#c8d2bb"/>
<circle cx="258.8" cy="5.3" r="5.00" fill="#c8d2bb"/>
<circle cx="252.7" cy="10.3" r="5.71" fill="#c8d2bb"/>
<circle cx="276.7" cy="9.3" r="5.47" fill="#c8d2bb"/>
<circle cx="241.9" cy="17.3" r="5.71" fill="#c8d2bb"/>
<circle cx="283.0" cy="15.8" r="5.47" fill="#c8d2bb"/>
<circle cx="236.0" cy="27.1" r="5.47" fill="#c8d2bb"/>
<circle cx="288.0" cy="26.9" r="5.47" fill="#c8d2bb"/>
<circle cx="230.8" cy="33.9" r="5.47" fill="#c8d2bb"/>
<circle cx="292.7" cy="34.8" r="5.47" fill="#c8d2bb"/>
<circle cx="230.8" cy="44.4" r="5.47" fill="#c8d2bb"/>
<circle cx="267.5" cy="48.5" r="5.82" fill="#c8d2bb"/>
<circle cx="277.5" cy="45.0" r="5.47" fill="#c8d2bb"/>
<circle cx="285.1" cy="46.1" r="5.47" fill="#c8d2bb"/>
<circle cx="235.8" cy="51.4" r="5.47" fill="#c8d2bb"/>
<circle cx="241.9" cy="57.8" r="5.47" fill="#c8d2bb"/>
<circle cx="262.3" cy="57.2" r="5.47" fill="#c8d2bb"/>
<circle cx="252.9" cy="65.4" r="5.12" fill="#c8d2bb"/>
<circle cx="257.0" cy="14.0" r="5.71" fill="#c8d2bb"/>
<circle cx="271.1" cy="12.8" r="5.71" fill="#c8d2bb"/>
<circle cx="245.4" cy="24.5" r="5.71" fill="#c8d2bb"/>
<circle cx="282.7" cy="22.2" r="5.71" fill="#c8d2bb"/>
<circle cx="239.5" cy="44.4" r="5.71" fill="#c8d2bb"/>
<circle cx="251.2" cy="35.0" r="5.71" fill="#c8d2bb"/>
<circle cx="260.5" cy="35.0" r="5.71" fill="#c8d2bb"/>
<circle cx="275.7" cy="32.7" r="5.71" fill="#c8d2bb"/>
<circle cx="287.4" cy="38.5" r="5.71" fill="#c8d2bb"/>
<circle cx="262.9" cy="44.4" r="5.71" fill="#c8d2bb"/>
<circle cx="272.2" cy="43.2" r="5.71" fill="#c8d2bb"/>
<circle cx="251.2" cy="49.1" r="5.71" fill="#c8d2bb"/>
<circle cx="247.7" cy="60.7" r="5.71" fill="#c8d2bb"/>
<circle cx="257.0" cy="54.9" r="5.71" fill="#c8d2bb"/>
<circle cx="233.7" cy="38.5" r="5.71" fill="#c8d2bb"/>
<circle cx="281.6" cy="42.0" r="5.12" fill="#c8d2bb"/>
<circle cx="245.4" cy="12.8" r="5.12" fill="#c8d2bb"/>
<circle cx="238.4" cy="23.4" r="5.12" fill="#c8d2bb"/>
<circle cx="294.4" cy="38.5" r="4.54" fill="#c8d2bb"/>
<circle cx="233.7" cy="47.9" r="4.77" fill="#c8d2bb"/>
<circle cx="258.2" cy="63.1" r="5.12" fill="#c8d2bb"/>
<circle cx="266.1" cy="11.1" r="5.84" fill="#e0e9d5"/>
<circle cx="249.7" cy="20.4" r="5.84" fill="#e0e9d5"/>
<circle cx="260.5" cy="19.9" r="5.84" fill="#e0e9d5"/>
<circle cx="272.5" cy="19.9" r="5.84" fill="#e0e9d5"/>
<circle cx="243.6" cy="30.1" r="5.84" fill="#e0e9d5"/>
<circle cx="255.5" cy="29.4" r="5.84" fill="#e0e9d5"/>
<circle cx="265.8" cy="28.6" r="5.84" fill="#e0e9d5"/>
<circle cx="277.8" cy="27.4" r="5.84" fill="#e0e9d5"/>
<circle cx="238.7" cy="37.6" r="5.84" fill="#e0e9d5"/>
<circle cx="250.0" cy="39.1" r="5.61" fill="#e0e9d5"/>
<circle cx="261.5" cy="38.5" r="5.84" fill="#e0e9d5"/>
<circle cx="271.1" cy="37.1" r="5.84" fill="#e0e9d5"/>
<circle cx="282.1" cy="36.0" r="6.19" fill="#e0e9d5"/>
<circle cx="244.8" cy="46.7" r="5.61" fill="#e0e9d5"/>
<circle cx="256.5" cy="47.3" r="5.84" fill="#e0e9d5"/>
<circle cx="250.6" cy="54.3" r="5.84" fill="#e0e9d5"/>
<circle cx="258.8" cy="5.3" r="4.55" fill="#e0e9d5"/>
<circle cx="252.7" cy="10.3" r="5.26" fill="#e0e9d5"/>
<circle cx="276.7" cy="9.3" r="5.02" fill="#e0e9d5"/>
<circle cx="241.9" cy="17.3" r="5.26" fill="#e0e9d5"/>
<circle cx="283.0" cy="15.8" r="5.02" fill="#e0e9d5"/>
<circle cx="236.0" cy="27.1" r="5.02" fill="#e0e9d5"/>
<circle cx="288.0" cy="26.9" r="5.02" fill="#e0e9d5"/>
<circle cx="230.8" cy="33.9" r="5.02" fill="#e0e9d5"/>
<circle cx="292.7" cy="34.8" r="5.02" fill="#e0e9d5"/>
<circle cx="230.8" cy="44.4" r="5.02" fill="#e0e9d5"/>
<circle cx="267.5" cy="48.5" r="5.37" fill="#e0e9d5"/>
<circle cx="277.5" cy="45.0" r="5.02" fill="#e0e9d5"/>
<circle cx="285.1" cy="46.1" r="5.02" fill="#e0e9d5"/>
<circle cx="235.8" cy="51.4" r="5.02" fill="#e0e9d5"/>
<circle cx="241.9" cy="57.8" r="5.02" fill="#e0e9d5"/>
<circle cx="262.3" cy="57.2" r="5.02" fill="#e0e9d5"/>
<circle cx="252.9" cy="65.4" r="4.67" fill="#e0e9d5"/>
<circle cx="257.0" cy="14.0" r="5.26" fill="#e0e9d5"/>
<circle cx="271.1" cy="12.8" r="5.26" fill="#e0e9d5"/>
<circle cx="245.4" cy="24.5" r="5.26" fill="#e0e9d5"/>
<circle cx="282.7" cy="22.2" r="5.26" fill="#e0e9d5"/>
<circle cx="239.5" cy="44.4" r="5.26" fill="#e0e9d5"/>
<circle cx="251.2" cy="35.0" r="5.26" fill="#e0e9d5"/>
<circle cx="260.5" cy="35.0" r="5.26" fill="#e0e9d5"/>
<circle cx="275.7" cy="32.7" r="5.26" fill="#e0e9d5"/>
<circle cx="287.4" cy="38.5" r="5.26" fill="#e0e9d5"/>
<circle cx="262.9" cy="44.4" r="5.26" fill="#e0e9d5"/>
<circle cx="272.2" cy="43.2" r="5.26" fill="#e0e9d5"/>
<circle cx="251.2" cy="49.1" r="5.26" fill="#e0e9d5"/>
<circle cx="247.7" cy="60.7" r="5.26" fill="#e0e9d5"/>
<circle cx="257.0" cy="54.9" r="5.26" fill="#e0e9d5"/>
<circle cx="233.7" cy="38.5" r="5.26" fill="#e0e9d5"/>
<circle cx="281.6" cy="42.0" r="4.67" fill="#e0e9d5"/>
<circle cx="245.4" cy="12.8" r="4.67" fill="#e0e9d5"/>
<circle cx="238.4" cy="23.4" r="4.67" fill="#e0e9d5"/>
<circle cx="294.4" cy="38.5" r="4.09" fill="#e0e9d5"/>
<circle cx="233.7" cy="47.9" r="4.32" fill="#e0e9d5"/>
<circle cx="258.2" cy="63.1" r="4.67" fill="#e0e9d5"/>
<circle cx="258.8" cy="5.3" r="2.80" fill="#a4cdd7"/>
<circle cx="252.7" cy="10.3" r="3.50" fill="#a4cdd7"/>
<circle cx="276.7" cy="9.3" r="3.27" fill="#a4cdd7"/>
<circle cx="241.9" cy="17.3" r="3.50" fill="#a4cdd7"/>
<circle cx="283.0" cy="15.8" r="3.27" fill="#a4cdd7"/>
<circle cx="236.0" cy="27.1" r="3.27" fill="#a4cdd7"/>
<circle cx="288.0" cy="26.9" r="3.27" fill="#a4cdd7"/>
<circle cx="230.8" cy="33.9" r="3.27" fill="#a4cdd7"/>
<circle cx="292.7" cy="34.8" r="3.27" fill="#a4cdd7"/>
<circle cx="230.8" cy="44.4" r="3.27" fill="#a4cdd7"/>
<circle cx="267.5" cy="48.5" r="3.62" fill="#a4cdd7"/>
<circle cx="277.5" cy="45.0" r="3.27" fill="#a4cdd7"/>
<circle cx="285.1" cy="46.1" r="3.27" fill="#a4cdd7"/>
<circle cx="235.8" cy="51.4" r="3.27" fill="#a4cdd7"/>
<circle cx="241.9" cy="57.8" r="3.27" fill="#a4cdd7"/>
<circle cx="262.3" cy="57.2" r="3.27" fill="#a4cdd7"/>
<circle cx="252.9" cy="65.4" r="2.92" fill="#a4cdd7"/>
<circle cx="266.1" cy="11.1" r="6.04" fill="#b9b2a6"/>
<circle cx="249.7" cy="20.4" r="6.04" fill="#b9b2a6"/>
<circle cx="260.5" cy="19.9" r="6.04" fill="#b9b2a6"/>
<circle cx="272.5" cy="19.9" r="6.04" fill="#b9b2a6"/>
<circle cx="243.6" cy="30.1" r="6.04" fill="#b9b2a6"/>
<circle cx="255.5" cy="29.4" r="6.04" fill="#b9b2a6"/>
<circle cx="265.8" cy="28.6" r="6.04" fill="#b9b2a6"/>
<circle cx="277.8" cy="27.4" r="6.04" fill="#b9b2a6"/>
<circle cx="238.7" cy="37.6" r="6.04" fill="#b9b2a6"/>
<circle cx="250.0" cy="39.1" r="5.80" fill="#b9b2a6"/>
<circle cx="261.5" cy="38.5" r="6.04" fill="#b9b2a6"/>
<circle cx="271.1" cy="37.1" r="6.04" fill="#b9b2a6"/>
<circle cx="282.1" cy="36.0" r="6.39" fill="#b9b2a6"/>
<circle cx="244.8" cy="46.7" r="5.80" fill="#b9b2a6"/>
<circle cx="256.5" cy="47.3" r="6.04" fill="#b9b2a6"/>
<circle cx="250.6" cy="54.3" r="6.04" fill="#b9b2a6"/>
<circle cx="266.1" cy="11.1" r="4.84" fill="none" stroke="#c8b7a5" stroke-width="1.50"/>
<circle cx="249.7" cy="20.4" r="4.84" fill="none" stroke="#c8b7a5" stroke-width="1.50"/>
<circle cx="260.5" cy="19.9" r="4.84" fill="none" stroke="#c8b7a5" stroke-width="1.50"/>
<circle cx="272.5" cy="19.9" r="4.84" fill="none" stroke="#c8b7a5" stroke-width="1.50"/>
<circle cx="243.6" cy="30.1" r="4.84" fill="none" stroke="#c8b7a5" stroke-width="1.50"/>
<circle cx="255.5" cy="29.4" r="4.84" fill="none" stroke="#c8b7a5" stroke-width="1.50"/>
<circle cx="265.8" cy="28.6" r="4.84" fill="none" stroke="#c8b7a5" stroke-width="1.50"/>
<circle cx="277.8" cy="27.4" r="4.84" fill="none" stroke="#c8b7a5" stroke-width="1.50"/>
<circle cx="238.7" cy="37.6" r="4.84" fill="none" stroke="#c8b7a5" stroke-width="1.50"/>
<circle cx="250.0" cy="39.1" r="4.60" fill="none" stroke="#c8b7a5" stroke-width="1.50"/>
<circle cx="261.5" cy="38.5" r="4.84" fill="none" stroke="#c8b7a5" stroke-width="1.50"/>
<circle cx="271.1" cy="37.1" r="4.84" fill="none" stroke="#c8b7a5" stroke-width="1.50"/>
<circle cx="282.1" cy="36.0" r="5.19" fill="none" stroke="#c8b7a5" stroke-width="1.50"/>
<circle cx="244.8" cy="46.7" r="4.60" fill="none" stroke="#c8b7a5" stroke-width="1.50"/>
<circle cx="256.5" cy="47.3" r="4.84" fill="none" stroke="#c8b7a5" stroke-width="1.50"/>
<circle cx="250.6" cy="54.3" r="4.84" fill="none" stroke="#c8b7a5" stroke-width="1.50"/>
<circle cx="266.1" cy="11.1" r="4.14" fill="#a4cdd7"/>
<circle cx="249.7" cy="20.4" r="4.14" fill="#a4cdd7"/>
<circle cx="260.5" cy="19.9" r="4.14" fill="#a4cdd7"/>
<circle cx="272.5" cy="19.9" r="4.14" fill="#a4cdd7"/>
<circle cx="243.6" cy="30.1" r="4.14" fill="#a4cdd7"/>
<circle cx="255.5" cy="29.4" r="4.14" fill="#a4cdd7"/>
<circle cx="265.8" cy="28.6" r="4.14" fill="#a4cdd7"/>
<circle cx="277.8" cy="27.4" r="4.14" fill="#a4cdd7"/>
<circle cx="238.7" cy="37.6" r="4.14" fill="#a4cdd7"/>
<circle cx="250.0" cy="39.1" r="3.90" fill="#a4cdd7"/>
<circle cx="261.5" cy="38.5" r="4.14" fill="#a4cdd7"/>
<circle cx="271.1" cy="37.1" r="4.14" fill="#a4cdd7"/>
<circle cx="282.1" cy="36.0" r="4.49" fill="#a4cdd7"/>
<circle cx="244.8" cy="46.7" r="3.90" fill="#a4cdd7"/>
<circle cx="256.5" cy="47.3" r="4.14" fill="#a4cdd7"/>
<circle cx="250.6" cy="54.3" r="4.14" fill="#a4cdd7"/>
<circle cx="267.4" cy="105.7" r="6.29" fill="#d8adc7"/>
<circle cx="251.0" cy="115.0" r="6.29" fill="#d8adc7"/>
<circle cx="261.8" cy="114.5" r="6.29" fill="#d8adc7"/>
<circle cx="273.8" cy="114.5" r="6.29" fill="#d8adc7"/>
<circle cx="244.9" cy="124.7" r="6.29" fill="#d8adc7"/>
<circle cx="256.8" cy="124.0" r="6.29" fill="#d8adc7"/>
<circle cx="267.1" cy="123.2" r="6.29" fill="#d8adc7"/>
<circle cx="279.1" cy="122.0" r="6.29" fill="#d8adc7"/>
<circle cx="240.0" cy="132.2" r="6.29" fill="#d8adc7"/>
<circle cx="251.3" cy="133.7" r="6.06" fill="#d8adc7"/>
<circle cx="262.8" cy="133.1" r="6.29" fill="#d8adc7"/>
<circle cx="272.4" cy="131.7" r="6.29" fill="#d8adc7"/>
<circle cx="283.4" cy="130.6" r="6.64" fill="#d8adc7"/>
<circle cx="246.1" cy="141.3" r="6.06" fill="#d8adc7"/>
<circle cx="257.8" cy="141.9" r="6.29" fill="#d8adc7"/>
<circle cx="251.9" cy="148.9" r="6.29" fill="#d8adc7"/>
<circle cx="260.1" cy="99.9" r="5.00" fill="#d8adc7"/>
<circle cx="254.0" cy="104.9" r="5.71" fill="#d8adc7"/>
<circle cx="278.0" cy="103.9" r="5.47" fill="#d8adc7"/>
<circle cx="243.2" cy="111.9" r="5.71" fill="#d8adc7"/>
<circle cx="284.3" cy="110.4" r="5.47" fill="#d8adc7"/>
<circle cx="237.3" cy="121.7" r="5.47" fill="#d8adc7"/>
<circle cx="289.3" cy="121.5" r="5.47" fill="#d8adc7"/>
<circle cx="232.1" cy="128.5" r="5.47" fill="#d8adc7"/>
<circle cx="294.0" cy="129.4" r="5.47" fill="#d8adc7"/>
<circle cx="232.1" cy="139.0" r="5.47" fill="#d8adc7"/>
<circle cx="268.8" cy="143.1" r="5.82" fill="#d8adc7"/>
<circle cx="278.8" cy="139.6" r="5.47" fill="#d8adc7"/>
<circle cx="286.4" cy="140.7" r="5.47" fill="#d8adc7"/>
<circle cx="237.1" cy="146.0" r="5.47" fill="#d8adc7"/>
<circle cx="243.2" cy="152.4" r="5.47" fill="#d8adc7"/>
<circle cx="263.6" cy="151.8" r="5.47" fill="#d8adc7"/>
<circle cx="254.2" cy="160.0" r="5.12" fill="#d8adc7"/>
<circle cx="258.3" cy="108.6" r="5.71" fill="#d8adc7"/>
<circle cx="272.4" cy="107.4" r="5.71" fill="#d8adc7"/>
<circle cx="246.7" cy="119.1" r="5.71" fill="#d8adc7"/>
<circle cx="284.0" cy="116.8" r="5.71" fill="#d8adc7"/>
<circle cx="240.8" cy="139.0" r="5.71" fill="#d8adc7"/>
<circle cx="252.5" cy="129.6" r="5.71" fill="#d8adc7"/>
<circle cx="261.8" cy="129.6" r="5.71" fill="#d8adc7"/>
<circle cx="277.0" cy="127.3" r="5.71" fill="#d8adc7"/>
<circle cx="288.7" cy="133.1" r="5.71" fill="#d8adc7"/>
<circle cx="264.2" cy="139.0" r="5.71" fill="#d8adc7"/>
<circle cx="273.5" cy="137.8" r="5.71" fill="#d8adc7"/>
<circle cx="252.5" cy="143.7" r="5.71" fill="#d8adc7"/>
<circle cx="249.0" cy="155.3" r="5.71" fill="#d8adc7"/>
<circle cx="258.3" cy="149.5" r="5.71" fill="#d8adc7"/>
<circle cx="235.0" cy="133.1" r="5.71" fill="#d8adc7"/>
<circle cx="282.9" cy="136.6" r="5.12" fill="#d8adc7"/>
<circle cx="246.7" cy="107.4" r="5.12" fill="#d8adc7"/>
<circle cx="239.7" cy="118.0" r="5.12" fill="#d8adc7"/>
<circle cx="295.7" cy="133.1" r="4.54" fill="#d8adc7"/>
<circle cx="235.0" cy="142.5" r="4.77" fill="#d8adc7"/>
<circle cx="259.5" cy="157.7" r="5.12" fill="#d8adc7"/>
<circle cx="267.4" cy="105.7" r="5.84" fill="#ecc8dc"/>
<circle cx="251.0" cy="115.0" r="5.84" fill="#ecc8dc"/>
<circle cx="261.8" cy="114.5" r="5.84" fill="#ecc8dc"/>
<circle cx="273.8" cy="114.5" r="5.84" fill="#ecc8dc"/>
<circle cx="244.9" cy="124.7" r="5.84" fill="#ecc8dc"/>
<circle cx="256.8" cy="124.0" r="5.84" fill="#ecc8dc"/>
<circle cx="267.1" cy="123.2" r="5.84" fill="#ecc8dc"/>
<circle cx="279.1" cy="122.0" r="5.84" fill="#ecc8dc"/>
<circle cx="240.0" cy="132.2" r="5.84" fill="#ecc8dc"/>
<circle cx="251.3" cy="133.7" r="5.61" fill="#ecc8dc"/>
<circle cx="262.8" cy="133.1" r="5.84" fill="#ecc8dc"/>
<circle cx="272.4" cy="131.7" r="5.84" fill="#ecc8dc"/>
<circle cx="283.4" cy="130.6" r="6.19" fill="#ecc8dc"/>
<circle cx="246.1" cy="141.3" r="5.61" fill="#ecc8dc"/>
<circle cx="257.8" cy="141.9" r="5.84" fill="#ecc8dc"/>
<circle cx="251.9" cy="148.9" r="5.84" fill="#ecc8dc"/>
<circle cx="260.1" cy="99.9" r="4.55" fill="#ecc8dc"/>
<circle cx="254.0" cy="104.9" r="5.26" fill="#ecc8dc"/>
<circle cx="278.0" cy="103.9" r="5.02" fill="#ecc8dc"/>
<circle cx="243.2" cy="111.9" r="5.26" fill="#ecc8dc"/>
<circle cx="284.3" cy="110.4" r="5.02" fill="#ecc8dc"/>
<circle cx="237.3" cy="121.7" r="5.02" fill="#ecc8dc"/>
<circle cx="289.3" cy="121.5" r="5.02" fill="#ecc8dc"/>
<circle cx="232.1" cy="128.5" r="5.02" fill="#ecc8dc"/>
<circle cx="294.0" cy="129.4" r="5.02" fill="#ecc8dc"/>
<circle cx="232.1" cy="139.0" r="5.02" fill="#ecc8dc"/>
<circle cx="268.8" cy="143.1" r="5.37" fill="#ecc8dc"/>
<circle cx="278.8" cy="139.6" r="5.02" fill="#ecc8dc"/>
<circle cx="286.4" cy="140.7" r="5.02" fill="#ecc8dc"/>
<circle cx="237.1" cy="146.0" r="5.02" fill="#ecc8dc"/>
<circle cx="243.2" cy="152.4" r="5.02" fill="#ecc8dc"/>
<circle cx="263.6" cy="151.8" r="5.02" fill="#ecc8dc"/>
<circle cx="254.2" cy="160.0" r="4.67" fill="#ecc8dc"/>
<circle cx="258.3" cy="108.6" r="5.26" fill="#ecc8dc"/>
<circle cx="272.4" cy="107.4" r="5.26" fill="#ecc8dc"/>
<circle cx="246.7" cy="119.1" r="5.26" fill="#ecc8dc"/>
<circle cx="284.0" cy="116.8" r="5.26" fill="#ecc8dc"/>
<circle cx="240.8" cy="139.0" r="5.26" fill="#ecc8dc"/>
<circle cx="252.5" cy="129.6" r="5.26" fill="#ecc8dc"/>
<circle cx="261.8" cy="129.6" r="5.26" fill="#ecc8dc"/>
<circle cx="277.0" cy="127.3" r="5.26" fill="#ecc8dc"/>
<circle cx="288.7" cy="133.1" r="5.26" fill="#ecc8dc"/>
<circle cx="264.2" cy="139.0" r="5.26" fill="#ecc8dc"/>
<circle cx="273.5" cy="137.8" r="5.26" fill="#ecc8dc"/>
<circle cx="252.5" cy="143.7" r="5.26" fill="#ecc8dc"/>
<circle cx="249.0" cy="155.3" r="5.26" fill="#ecc8dc"/>
<circle cx="258.3" cy="149.5" r="5.26" fill="#ecc8dc"/>
<circle cx="235.0" cy="133.1" r="5.26" fill="#ecc8dc"/>
<circle cx="282.9" cy="136.6" r="4.67" fill="#ecc8dc"/>
<circle cx="246.7" cy="107.4" r="4.67" fill="#ecc8dc"/>
<circle cx="239.7" cy="118.0" r="4.67" fill="#ecc8dc"/>
<circle cx="295.7" cy="133.1" r="4.09" fill="#ecc8dc"/>
<circle cx="235.0" cy="142.5" r="4.32" fill="#ecc8dc"/>
<circle cx="259.5" cy="157.7" r="4.67" fill="#ecc8dc"/>
<circle cx="260.1" cy="99.9" r="2.80" fill="#b9f08e"/>
<circle cx="254.0" cy="104.9" r="3.50" fill="#b9f08e"/>
<circle cx="278.0" cy="103.9" r="3.27" fill="#b9f08e"/>
<circle cx="243.2" cy="111.9" r="3.50" fill="#b9f08e"/>
<circle cx="284.3" cy="110.4" r="3.27" fill="#b9f08e"/>
<circle cx="237.3" cy="121.7" r="3.27" fill="#b9f08e"/>
<circle cx="289.3" cy="121.5" r="3.27" fill="#b9f08e"/>
<circle cx="232.1" cy="128.5" r="3.27" fill="#b9f08e"/>
<circle cx="294.0" cy="129.4" r="3.27" fill="#b9f08e"/>
<circle cx="232.1" cy="139.0" r="3.27" fill="#b9f08e"/>
<circle cx="268.8" cy="143.1" r="3.62" fill="#b9f08e"/>
<circle cx="278.8" cy="139.6" r="3.27" fill="#b9f08e"/>
<circle cx="286.4" cy="140.7" r="3.27" fill="#b9f08e"/>
<circle cx="237.1" cy="146.0" r="3.27" fill="#b9f08e"/>
<circle cx="243.2" cy="152.4" r="3.27" fill="#b9f08e"/>
<circle cx="263.6" cy="151.8" r="3.27" fill="#b9f08e"/>
<circle cx="254.2" cy="160.0" r="2.92" fill="#b9f08e"/>
<circle cx="267.4" cy="105.7" r="6.17" fill="#b9a3bd"/>
<circle cx="251.0" cy="115.0" r="6.17" fill="#b9a3bd"/>
<circle cx="261.8" cy="114.5" r="6.17" fill="#b9a3bd"/>
<circle cx="273.8" cy="114.5" r="6.17" fill="#b9a3bd"/>
<circle cx="244.9" cy="124.7" r="6.17" fill="#b9a3bd"/>
<circle cx="256.8" cy="124.0" r="6.17" fill="#b9a3bd"/>
<circle cx="267.1" cy="123.2" r="6.17" fill="#b9a3bd"/>
<circle cx="279.1" cy="122.0" r="6.17" fill="#b9a3bd"/>
<circle cx="240.0" cy="132.2" r="6.17" fill="#b9a3bd"/>
<circle cx="251.3" cy="133.7" r="5.93" fill="#b9a3bd"/>
<circle cx="262.8" cy="133.1" r="6.17" fill="#b9a3bd"/>
<circle cx="272.4" cy="131.7" r="6.17" fill="#b9a3bd"/>
<circle cx="283.4" cy="130.6" r="6.52" fill="#b9a3bd"/>
<circle cx="246.1" cy="141.3" r="5.93" fill="#b9a3bd"/>
<circle cx="257.8" cy="141.9" r="6.17" fill="#b9a3bd"/>
<circle cx="251.9" cy="148.9" r="6.17" fill="#b9a3bd"/>
<circle cx="267.4" cy="105.7" r="4.89" fill="none" stroke="#bd88e4" stroke-width="1.60"/>
<circle cx="251.0" cy="115.0" r="4.89" fill="none" stroke="#bd88e4" stroke-width="1.60"/>
<circle cx="261.8" cy="114.5" r="4.89" fill="none" stroke="#bd88e4" stroke-width="1.60"/>
<circle cx="273.8" cy="114.5" r="4.89" fill="none" stroke="#bd88e4" stroke-width="1.60"/>
<circle cx="244.9" cy="124.7" r="4.89" fill="none" stroke="#bd88e4" stroke-width="1.60"/>
<circle cx="256.8" cy="124.0" r="4.89" fill="none" stroke="#bd88e4" stroke-width="1.60"/>
<circle cx="267.1" cy="123.2" r="4.89" fill="none" stroke="#bd88e4" stroke-width="1.60"/>
<circle cx="279.1" cy="122.0" r="4.89" fill="none" stroke="#bd88e4" stroke-width="1.60"/>
<circle cx="240.0" cy="132.2" r="4.89" fill="none" stroke="#bd88e4" stroke-width="1.60"/>
<circle cx="251.3" cy="133.7" r="4.65" fill="none" stroke="#bd88e4" stroke-width="1.60"/>
<circle cx="262.8" cy="133.1" r="4.89" fill="none" stroke="#bd88e4" stroke-width="1.60"/>
<circle cx="272.4" cy="131.7" r="4.89" fill="none" stroke="#bd88e4" stroke-width="1.60"/>
<circle cx="283.4" cy="130.6" r="5.24" fill="none" stroke="#bd88e4" stroke-width="1.60"/>
<circle cx="246.1" cy="141.3" r="4.65" fill="none" stroke="#bd88e4" stroke-width="1.60"/>
<circle cx="257.8" cy="141.9" r="4.89" fill="none" stroke="#bd88e4" stroke-width="1.60"/>
<circle cx="251.9" cy="148.9" r="4.89" fill="none" stroke="#bd88e4" stroke-width="1.60"/>
<circle cx="267.4" cy="105.7" r="4.14" fill="#b9f08e"/>
<circle cx="251.0" cy="115.0" r="4.14" fill="#b9f08e"/>
<circle cx="261.8" cy="114.5" r="4.14" fill="#b9f08e"/>
<circle cx="273.8" cy="114.5" r="4.14" fill="#b9f08e"/>
<circle cx="244.9" cy="124.7" r="4.14" fill="#b9f08e"/>
<circle cx="256.8" cy="124.0" r="4.14" fill="#b9f08e"/>
<circle cx="267.1" cy="123.2" r="4.14" fill="#b9f08e"/>
<circle cx="279.1" cy="122.0" r="4.14" fill="#b9f08e"/>
<circle cx="240.0" cy="132.2" r="4.14" fill="#b9f08e"/>
<circle cx="251.3" cy="133.7" r="3.90" fill="#b9f08e"/>
<circle cx="262.8" cy="133.1" r="4.14" fill="#b9f08e"/>
<circle cx="272.4" cy="131.7" r="4.14" fill="#b9f08e"/>
<circle cx="283.4" cy="130.6" r="4.49" fill="#b9f08e"/>
<circle cx="246.1" cy="141.3" r="3.90" fill="#b9f08e"/>
<circle cx="257.8" cy="141.9" r="4.14" fill="#b9f08e"/>
<circle cx="251.9" cy="148.9" r="4.14" fill="#b9f08e"/>
<text x="267.70" y="69.20" font-size="11.3" fill="#8b682c" font-weight="bold" textLength="23.1" lengthAdjust="spacingAndGlyphs">50%</text>
<text x="267.50" y="167.40" font-size="11.3" fill="#8b682c" font-weight="bold" textLength="23.1" lengthAdjust="spacingAndGlyphs">50%</text>
<text x="317.50" y="20.40" font-size="13" fill="#111" font-weight="bold" >b</text>
<line x1="343.80" y1="73.44" x2="544.80" y2="73.44" stroke="#c4c4c4" stroke-width="0.8" />
<line x1="343.80" y1="114.97" x2="544.80" y2="114.97" stroke="#c4c4c4" stroke-width="0.8" />
<line x1="343.80" y1="23.60" x2="343.80" y2="156.50" stroke="#999" stroke-width="1.1" />
<line x1="341.80" y1="156.50" x2="343.80" y2="156.50" stroke="#444" stroke-width="0.8" />
<text x="340.90" y="158.91" font-size="7.3" text-anchor="end" fill="#1a1a1a" >0</text>
<line x1="341.80" y1="123.28" x2="343.80" y2="123.28" stroke="#444" stroke-width="0.8" />
<text x="340.90" y="125.68" font-size="7.3" text-anchor="end" fill="#1a1a1a" >4</text>
<line x1="341.80" y1="90.05" x2="343.80" y2="90.05" stroke="#444" stroke-width="0.8" />
<text x="340.90" y="92.46" font-size="7.3" text-anchor="end" fill="#1a1a1a" >8</text>
<line x1="341.80" y1="56.82" x2="343.80" y2="56.82" stroke="#444" stroke-width="0.8" />
<text x="340.90" y="59.23" font-size="7.3" text-anchor="end" fill="#1a1a1a" >12</text>
<line x1="341.80" y1="23.60" x2="343.80" y2="23.60" stroke="#444" stroke-width="0.8" />
<text x="340.90" y="26.01" font-size="7.3" text-anchor="end" fill="#1a1a1a" >16</text>
<line x1="343.80" y1="156.50" x2="544.80" y2="156.50" stroke="#555" stroke-width="0.9" />
<line x1="343.80" y1="156.50" x2="343.80" y2="158.30" stroke="#555" stroke-width="0.8" />
<text x="343.80" y="166.90" font-size="7.3" text-anchor="middle" fill="#1a1a1a" >0</text>
<line x1="363.90" y1="156.50" x2="363.90" y2="158.30" stroke="#555" stroke-width="0.8" />
<text x="363.90" y="166.90" font-size="7.3" text-anchor="middle" fill="#1a1a1a" >1</text>
<line x1="384.00" y1="156.50" x2="384.00" y2="158.30" stroke="#555" stroke-width="0.8" />
<text x="384.00" y="166.90" font-size="7.3" text-anchor="middle" fill="#1a1a1a" >2</text>
<line x1="404.10" y1="156.50" x2="404.10" y2="158.30" stroke="#555" stroke-width="0.8" />
<text x="404.10" y="166.90" font-size="7.3" text-anchor="middle" fill="#1a1a1a" >3</text>
<line x1="424.20" y1="156.50" x2="424.20" y2="158.30" stroke="#555" stroke-width="0.8" />
<text x="424.20" y="166.90" font-size="7.3" text-anchor="middle" fill="#1a1a1a" >4</text>
<line x1="444.30" y1="156.50" x2="444.30" y2="158.30" stroke="#555" stroke-width="0.8" />
<text x="444.30" y="166.90" font-size="7.3" text-anchor="middle" fill="#1a1a1a" >5</text>
<line x1="464.40" y1="156.50" x2="464.40" y2="158.30" stroke="#555" stroke-width="0.8" />
<text x="464.40" y="166.90" font-size="7.3" text-anchor="middle" fill="#1a1a1a" >6</text>
<line x1="484.50" y1="156.50" x2="484.50" y2="158.30" stroke="#555" stroke-width="0.8" />
<text x="484.50" y="166.90" font-size="7.3" text-anchor="middle" fill="#1a1a1a" >7</text>
<line x1="504.60" y1="156.50" x2="504.60" y2="158.30" stroke="#555" stroke-width="0.8" />
<text x="504.60" y="166.90" font-size="7.3" text-anchor="middle" fill="#1a1a1a" >8</text>
<line x1="524.70" y1="156.50" x2="524.70" y2="158.30" stroke="#555" stroke-width="0.8" />
<text x="524.70" y="166.90" font-size="7.3" text-anchor="middle" fill="#1a1a1a" >9</text>
<line x1="544.80" y1="156.50" x2="544.80" y2="158.30" stroke="#555" stroke-width="0.8" />
<text x="544.80" y="166.90" font-size="7.3" text-anchor="middle" fill="#1a1a1a" >10</text>
<text x="444.30" y="179.90" font-size="8.2" text-anchor="middle" fill="#222" >weeks</text>
<line x1="343.80" y1="75.51" x2="343.80" y2="95.45" stroke="#b0dc8a" stroke-width="0.9" />
<line x1="341.40" y1="75.51" x2="346.20" y2="75.51" stroke="#b0dc8a" stroke-width="0.9" />
<line x1="341.40" y1="95.45" x2="346.20" y2="95.45" stroke="#b0dc8a" stroke-width="0.9" />
<line x1="353.85" y1="80.91" x2="353.85" y2="105.83" stroke="#b0dc8a" stroke-width="0.9" />
<line x1="351.45" y1="80.91" x2="356.25" y2="80.91" stroke="#b0dc8a" stroke-width="0.9" />
<line x1="351.45" y1="105.83" x2="356.25" y2="105.83" stroke="#b0dc8a" stroke-width="0.9" />
<line x1="363.90" y1="81.74" x2="363.90" y2="103.34" stroke="#b0dc8a" stroke-width="0.9" />
<line x1="361.50" y1="81.74" x2="366.30" y2="81.74" stroke="#b0dc8a" stroke-width="0.9" />
<line x1="361.50" y1="103.34" x2="366.30" y2="103.34" stroke="#b0dc8a" stroke-width="0.9" />
<line x1="373.95" y1="83.40" x2="373.95" y2="101.68" stroke="#b0dc8a" stroke-width="0.9" />
<line x1="371.55" y1="83.40" x2="376.35" y2="83.40" stroke="#b0dc8a" stroke-width="0.9" />
<line x1="371.55" y1="101.68" x2="376.35" y2="101.68" stroke="#b0dc8a" stroke-width="0.9" />
<line x1="384.00" y1="87.81" x2="384.00" y2="102.76" stroke="#b0dc8a" stroke-width="0.9" />
<line x1="381.60" y1="87.81" x2="386.40" y2="87.81" stroke="#b0dc8a" stroke-width="0.9" />
<line x1="381.60" y1="102.76" x2="386.40" y2="102.76" stroke="#b0dc8a" stroke-width="0.9" />
<line x1="394.05" y1="83.57" x2="394.05" y2="96.86" stroke="#b0dc8a" stroke-width="0.9" />
<line x1="391.65" y1="83.57" x2="396.45" y2="83.57" stroke="#b0dc8a" stroke-width="0.9" />
<line x1="391.65" y1="96.86" x2="396.45" y2="96.86" stroke="#b0dc8a" stroke-width="0.9" />
<line x1="404.10" y1="81.08" x2="404.10" y2="99.35" stroke="#b0dc8a" stroke-width="0.9" />
<line x1="401.70" y1="81.08" x2="406.50" y2="81.08" stroke="#b0dc8a" stroke-width="0.9" />
<line x1="401.70" y1="99.35" x2="406.50" y2="99.35" stroke="#b0dc8a" stroke-width="0.9" />
<line x1="414.15" y1="76.26" x2="414.15" y2="96.20" stroke="#b0dc8a" stroke-width="0.9" />
<line x1="411.75" y1="76.26" x2="416.55" y2="76.26" stroke="#b0dc8a" stroke-width="0.9" />
<line x1="411.75" y1="96.20" x2="416.55" y2="96.20" stroke="#b0dc8a" stroke-width="0.9" />
<line x1="424.20" y1="80.17" x2="424.20" y2="101.76" stroke="#b0dc8a" stroke-width="0.9" />
<line x1="421.80" y1="80.17" x2="426.60" y2="80.17" stroke="#b0dc8a" stroke-width="0.9" />
<line x1="421.80" y1="101.76" x2="426.60" y2="101.76" stroke="#b0dc8a" stroke-width="0.9" />
<line x1="434.25" y1="80.25" x2="434.25" y2="100.18" stroke="#b0dc8a" stroke-width="0.9" />
<line x1="431.85" y1="80.25" x2="436.65" y2="80.25" stroke="#b0dc8a" stroke-width="0.9" />
<line x1="431.85" y1="100.18" x2="436.65" y2="100.18" stroke="#b0dc8a" stroke-width="0.9" />
<line x1="444.30" y1="81.00" x2="444.30" y2="102.59" stroke="#b0dc8a" stroke-width="0.9" />
<line x1="441.90" y1="81.00" x2="446.70" y2="81.00" stroke="#b0dc8a" stroke-width="0.9" />
<line x1="441.90" y1="102.59" x2="446.70" y2="102.59" stroke="#b0dc8a" stroke-width="0.9" />
<line x1="464.40" y1="77.18" x2="464.40" y2="101.26" stroke="#b0dc8a" stroke-width="0.9" />
<line x1="462.00" y1="77.18" x2="466.80" y2="77.18" stroke="#b0dc8a" stroke-width="0.9" />
<line x1="462.00" y1="101.26" x2="466.80" y2="101.26" stroke="#b0dc8a" stroke-width="0.9" />
<line x1="474.45" y1="80.08" x2="474.45" y2="98.36" stroke="#b0dc8a" stroke-width="0.9" />
<line x1="472.05" y1="80.08" x2="476.85" y2="80.08" stroke="#b0dc8a" stroke-width="0.9" />
<line x1="472.05" y1="98.36" x2="476.85" y2="98.36" stroke="#b0dc8a" stroke-width="0.9" />
<line x1="484.50" y1="90.88" x2="484.50" y2="100.85" stroke="#b0dc8a" stroke-width="0.9" />
<line x1="482.10" y1="90.88" x2="486.90" y2="90.88" stroke="#b0dc8a" stroke-width="0.9" />
<line x1="482.10" y1="100.85" x2="486.90" y2="100.85" stroke="#b0dc8a" stroke-width="0.9" />
<line x1="494.55" y1="87.48" x2="494.55" y2="102.43" stroke="#b0dc8a" stroke-width="0.9" />
<line x1="492.15" y1="87.48" x2="496.95" y2="87.48" stroke="#b0dc8a" stroke-width="0.9" />
<line x1="492.15" y1="102.43" x2="496.95" y2="102.43" stroke="#b0dc8a" stroke-width="0.9" />
<line x1="504.60" y1="91.46" x2="504.60" y2="103.09" stroke="#b0dc8a" stroke-width="0.9" />
<line x1="502.20" y1="91.46" x2="507.00" y2="91.46" stroke="#b0dc8a" stroke-width="0.9" />
<line x1="502.20" y1="103.09" x2="507.00" y2="103.09" stroke="#b0dc8a" stroke-width="0.9" />
<line x1="524.70" y1="78.17" x2="524.70" y2="96.45" stroke="#b0dc8a" stroke-width="0.9" />
<line x1="522.30" y1="78.17" x2="527.10" y2="78.17" stroke="#b0dc8a" stroke-width="0.9" />
<line x1="522.30" y1="96.45" x2="527.10" y2="96.45" stroke="#b0dc8a" stroke-width="0.9" />
<line x1="544.80" y1="81.74" x2="544.80" y2="97.53" stroke="#b0dc8a" stroke-width="0.9" />
<line x1="542.40" y1="81.74" x2="547.20" y2="81.74" stroke="#b0dc8a" stroke-width="0.9" />
<line x1="542.40" y1="97.53" x2="547.20" y2="97.53" stroke="#b0dc8a" stroke-width="0.9" />
<line x1="343.80" y1="79.92" x2="343.80" y2="95.70" stroke="#8aa5b1" stroke-width="0.9" />
<line x1="341.40" y1="79.92" x2="346.20" y2="79.92" stroke="#8aa5b1" stroke-width="0.9" />
<line x1="341.40" y1="95.70" x2="346.20" y2="95.70" stroke="#8aa5b1" stroke-width="0.9" />
<line x1="353.85" y1="72.77" x2="353.85" y2="106.00" stroke="#8aa5b1" stroke-width="0.9" />
<line x1="351.45" y1="72.77" x2="356.25" y2="72.77" stroke="#8aa5b1" stroke-width="0.9" />
<line x1="351.45" y1="106.00" x2="356.25" y2="106.00" stroke="#8aa5b1" stroke-width="0.9" />
<line x1="363.90" y1="79.25" x2="363.90" y2="109.15" stroke="#8aa5b1" stroke-width="0.9" />
<line x1="361.50" y1="79.25" x2="366.30" y2="79.25" stroke="#8aa5b1" stroke-width="0.9" />
<line x1="361.50" y1="109.15" x2="366.30" y2="109.15" stroke="#8aa5b1" stroke-width="0.9" />
<line x1="373.95" y1="80.83" x2="373.95" y2="97.44" stroke="#8aa5b1" stroke-width="0.9" />
<line x1="371.55" y1="80.83" x2="376.35" y2="80.83" stroke="#8aa5b1" stroke-width="0.9" />
<line x1="371.55" y1="97.44" x2="376.35" y2="97.44" stroke="#8aa5b1" stroke-width="0.9" />
<line x1="384.00" y1="80.58" x2="384.00" y2="98.85" stroke="#8aa5b1" stroke-width="0.9" />
<line x1="381.60" y1="80.58" x2="386.40" y2="80.58" stroke="#8aa5b1" stroke-width="0.9" />
<line x1="381.60" y1="98.85" x2="386.40" y2="98.85" stroke="#8aa5b1" stroke-width="0.9" />
<line x1="394.05" y1="84.32" x2="394.05" y2="103.42" stroke="#8aa5b1" stroke-width="0.9" />
<line x1="391.65" y1="84.32" x2="396.45" y2="84.32" stroke="#8aa5b1" stroke-width="0.9" />
<line x1="391.65" y1="103.42" x2="396.45" y2="103.42" stroke="#8aa5b1" stroke-width="0.9" />
<line x1="404.10" y1="75.43" x2="404.10" y2="108.66" stroke="#8aa5b1" stroke-width="0.9" />
<line x1="401.70" y1="75.43" x2="406.50" y2="75.43" stroke="#8aa5b1" stroke-width="0.9" />
<line x1="401.70" y1="108.66" x2="406.50" y2="108.66" stroke="#8aa5b1" stroke-width="0.9" />
<line x1="414.15" y1="83.41" x2="414.15" y2="103.34" stroke="#8aa5b1" stroke-width="0.9" />
<line x1="411.75" y1="83.41" x2="416.55" y2="83.41" stroke="#8aa5b1" stroke-width="0.9" />
<line x1="411.75" y1="103.34" x2="416.55" y2="103.34" stroke="#8aa5b1" stroke-width="0.9" />
<line x1="424.20" y1="78.92" x2="424.20" y2="100.52" stroke="#8aa5b1" stroke-width="0.9" />
<line x1="421.80" y1="78.92" x2="426.60" y2="78.92" stroke="#8aa5b1" stroke-width="0.9" />
<line x1="421.80" y1="100.52" x2="426.60" y2="100.52" stroke="#8aa5b1" stroke-width="0.9" />
<line x1="434.25" y1="81.25" x2="434.25" y2="106.16" stroke="#8aa5b1" stroke-width="0.9" />
<line x1="431.85" y1="81.25" x2="436.65" y2="81.25" stroke="#8aa5b1" stroke-width="0.9" />
<line x1="431.85" y1="106.16" x2="436.65" y2="106.16" stroke="#8aa5b1" stroke-width="0.9" />
<line x1="444.30" y1="79.17" x2="444.30" y2="108.24" stroke="#8aa5b1" stroke-width="0.9" />
<line x1="441.90" y1="79.17" x2="446.70" y2="79.17" stroke="#8aa5b1" stroke-width="0.9" />
<line x1="441.90" y1="108.24" x2="446.70" y2="108.24" stroke="#8aa5b1" stroke-width="0.9" />
<line x1="464.40" y1="82.49" x2="464.40" y2="107.41" stroke="#8aa5b1" stroke-width="0.9" />
<line x1="462.00" y1="82.49" x2="466.80" y2="82.49" stroke="#8aa5b1" stroke-width="0.9" />
<line x1="462.00" y1="107.41" x2="466.80" y2="107.41" stroke="#8aa5b1" stroke-width="0.9" />
<line x1="474.45" y1="81.33" x2="474.45" y2="97.94" stroke="#8aa5b1" stroke-width="0.9" />
<line x1="472.05" y1="81.33" x2="476.85" y2="81.33" stroke="#8aa5b1" stroke-width="0.9" />
<line x1="472.05" y1="97.94" x2="476.85" y2="97.94" stroke="#8aa5b1" stroke-width="0.9" />
<line x1="484.50" y1="91.55" x2="484.50" y2="113.14" stroke="#8aa5b1" stroke-width="0.9" />
<line x1="482.10" y1="91.55" x2="486.90" y2="91.55" stroke="#8aa5b1" stroke-width="0.9" />
<line x1="482.10" y1="113.14" x2="486.90" y2="113.14" stroke="#8aa5b1" stroke-width="0.9" />
<line x1="494.55" y1="85.56" x2="494.55" y2="103.84" stroke="#8aa5b1" stroke-width="0.9" />
<line x1="492.15" y1="85.56" x2="496.95" y2="85.56" stroke="#8aa5b1" stroke-width="0.9" />
<line x1="492.15" y1="103.84" x2="496.95" y2="103.84" stroke="#8aa5b1" stroke-width="0.9" />
<line x1="504.60" y1="88.64" x2="504.60" y2="103.59" stroke="#8aa5b1" stroke-width="0.9" />
<line x1="502.20" y1="88.64" x2="507.00" y2="88.64" stroke="#8aa5b1" stroke-width="0.9" />
<line x1="502.20" y1="103.59" x2="507.00" y2="103.59" stroke="#8aa5b1" stroke-width="0.9" />
<line x1="524.70" y1="82.16" x2="524.70" y2="97.94" stroke="#8aa5b1" stroke-width="0.9" />
<line x1="522.30" y1="82.16" x2="527.10" y2="82.16" stroke="#8aa5b1" stroke-width="0.9" />
<line x1="522.30" y1="97.94" x2="527.10" y2="97.94" stroke="#8aa5b1" stroke-width="0.9" />
<line x1="544.80" y1="66.29" x2="544.80" y2="91.21" stroke="#8aa5b1" stroke-width="0.9" />
<line x1="542.40" y1="66.29" x2="547.20" y2="66.29" stroke="#8aa5b1" stroke-width="0.9" />
<line x1="542.40" y1="91.21" x2="547.20" y2="91.21" stroke="#8aa5b1" stroke-width="0.9" />
<polyline points="343.80,85.48 353.85,93.37 363.90,92.54 373.95,92.54 384.00,95.28 394.05,90.22 404.10,90.22 414.15,86.23 424.20,90.96 434.25,90.22 444.30,91.79 464.40,89.22 474.45,89.22 484.50,95.86 494.55,94.95 504.60,97.28 524.70,87.31 544.80,89.63" fill="none" stroke="#8fc95a" stroke-width="0.9"/>
<polyline points="343.80,87.81 353.85,89.39 363.90,94.20 373.95,89.14 384.00,89.72 394.05,93.87 404.10,92.04 414.15,93.37 424.20,89.72 434.25,93.70 444.30,93.70 464.40,94.95 474.45,89.63 484.50,102.34 494.55,94.70 504.60,96.11 524.70,90.05 544.80,78.75" fill="none" stroke="#7a97a4" stroke-width="0.9"/>
<rect x="340.80" y="82.48" width="6.0" height="6.0" fill="#8fc95a" stroke="none" stroke-width="0"/>
<rect x="350.85" y="90.37" width="6.0" height="6.0" fill="#8fc95a" stroke="none" stroke-width="0"/>
<rect x="360.90" y="89.54" width="6.0" height="6.0" fill="#8fc95a" stroke="none" stroke-width="0"/>
<rect x="370.95" y="89.54" width="6.0" height="6.0" fill="#8fc95a" stroke="none" stroke-width="0"/>
<rect x="381.00" y="92.28" width="6.0" height="6.0" fill="#8fc95a" stroke="none" stroke-width="0"/>
<rect x="391.05" y="87.22" width="6.0" height="6.0" fill="#8fc95a" stroke="none" stroke-width="0"/>
<rect x="401.10" y="87.22" width="6.0" height="6.0" fill="#8fc95a" stroke="none" stroke-width="0"/>
<rect x="411.15" y="83.23" width="6.0" height="6.0" fill="#8fc95a" stroke="none" stroke-width="0"/>
<rect x="421.20" y="87.96" width="6.0" height="6.0" fill="#8fc95a" stroke="none" stroke-width="0"/>
<rect x="431.25" y="87.22" width="6.0" height="6.0" fill="#8fc95a" stroke="none" stroke-width="0"/>
<rect x="441.30" y="88.79" width="6.0" height="6.0" fill="#8fc95a" stroke="none" stroke-width="0"/>
<rect x="461.40" y="86.22" width="6.0" height="6.0" fill="#8fc95a" stroke="none" stroke-width="0"/>
<rect x="471.45" y="86.22" width="6.0" height="6.0" fill="#8fc95a" stroke="none" stroke-width="0"/>
<rect x="481.50" y="92.86" width="6.0" height="6.0" fill="#8fc95a" stroke="none" stroke-width="0"/>
<rect x="491.55" y="91.95" width="6.0" height="6.0" fill="#8fc95a" stroke="none" stroke-width="0"/>
<rect x="501.60" y="94.28" width="6.0" height="6.0" fill="#8fc95a" stroke="none" stroke-width="0"/>
<rect x="521.70" y="84.31" width="6.0" height="6.0" fill="#8fc95a" stroke="none" stroke-width="0"/>
<rect x="541.80" y="86.63" width="6.0" height="6.0" fill="#8fc95a" stroke="none" stroke-width="0"/>
<circle cx="343.80" cy="87.81" r="3.1" fill="#7a97a4" stroke="none" stroke-width="0"/>
<circle cx="353.85" cy="89.39" r="3.1" fill="#7a97a4" stroke="none" stroke-width="0"/>
<circle cx="363.90" cy="94.20" r="3.1" fill="#7a97a4" stroke="none" stroke-width="0"/>
<circle cx="373.95" cy="89.14" r="3.1" fill="#7a97a4" stroke="none" stroke-width="0"/>
<circle cx="384.00" cy="89.72" r="3.1" fill="#7a97a4" stroke="none" stroke-width="0"/>
<circle cx="394.05" cy="93.87" r="3.1" fill="#7a97a4" stroke="none" stroke-width="0"/>
<circle cx="404.10" cy="92.04" r="3.1" fill="#7a97a4" stroke="none" stroke-width="0"/>
<circle cx="414.15" cy="93.37" r="3.1" fill="#7a97a4" stroke="none" stroke-width="0"/>
<circle cx="424.20" cy="89.72" r="3.1" fill="#7a97a4" stroke="none" stroke-width="0"/>
<circle cx="434.25" cy="93.70" r="3.1" fill="#7a97a4" stroke="none" stroke-width="0"/>
<circle cx="444.30" cy="93.70" r="3.1" fill="#7a97a4" stroke="none" stroke-width="0"/>
<circle cx="464.40" cy="94.95" r="3.1" fill="#7a97a4" stroke="none" stroke-width="0"/>
<circle cx="474.45" cy="89.63" r="3.1" fill="#7a97a4" stroke="none" stroke-width="0"/>
<circle cx="484.50" cy="102.34" r="3.1" fill="#7a97a4" stroke="none" stroke-width="0"/>
<circle cx="494.55" cy="94.70" r="3.1" fill="#7a97a4" stroke="none" stroke-width="0"/>
<circle cx="504.60" cy="96.11" r="3.1" fill="#7a97a4" stroke="none" stroke-width="0"/>
<circle cx="524.70" cy="90.05" r="3.1" fill="#7a97a4" stroke="none" stroke-width="0"/>
<circle cx="544.80" cy="78.75" r="3.1" fill="#7a97a4" stroke="none" stroke-width="0"/>
<text transform="translate(328.3,90.1) rotate(-90)" font-size="10.4" text-anchor="middle" fill="#aaa" textLength="82.6" lengthAdjust="spacingAndGlyphs"><tspan font-size="11.6" fill="#999">G</tspan>lycaemia <tspan font-weight="bold" fill="#333">m</tspan>mol/l</text>
<line x1="350.40" y1="31.00" x2="365.00" y2="31.00" stroke="#a9bcc5" stroke-width="1.0" />
<circle cx="357.70" cy="31.00" r="2.6" fill="#7a97a4" stroke="none" stroke-width="0"/>
<text x="367.3" y="34.3" font-size="9.4" fill="#777"><tspan fill="#333">SD</tspan> Ctrl [n=11]</text>
<line x1="350.40" y1="46.30" x2="365.00" y2="46.30" stroke="#b0dc8a" stroke-width="1.0" />
<rect x="354.70" y="43.30" width="6.0" height="6.0" fill="#8fc95a" stroke="none" stroke-width="0"/>
<text x="367.3" y="49.6" font-size="9.4" fill="#777"><tspan fill="#333">HFD</tspan> Ctrl [n=10]</text>
<line x1="579.50" y1="22.40" x2="579.50" y2="156.30" stroke="#555" stroke-width="0.9" />
<line x1="577.50" y1="156.30" x2="579.50" y2="156.30" stroke="#444" stroke-width="0.8" />
<text x="576.60" y="158.78" font-size="7.5" text-anchor="end" fill="#1a1a1a" >0</text>
<line x1="577.50" y1="129.52" x2="579.50" y2="129.52" stroke="#444" stroke-width="0.8" />
<text x="576.60" y="132.00" font-size="7.5" text-anchor="end" fill="#1a1a1a" >20</text>
<line x1="577.50" y1="102.74" x2="579.50" y2="102.74" stroke="#444" stroke-width="0.8" />
<text x="576.60" y="105.22" font-size="7.5" text-anchor="end" fill="#1a1a1a" >40</text>
<line x1="577.50" y1="75.96" x2="579.50" y2="75.96" stroke="#444" stroke-width="0.8" />
<text x="576.60" y="78.44" font-size="7.5" text-anchor="end" fill="#1a1a1a" >60</text>
<line x1="577.50" y1="49.18" x2="579.50" y2="49.18" stroke="#444" stroke-width="0.8" />
<text x="576.60" y="51.66" font-size="7.5" text-anchor="end" fill="#1a1a1a" >80</text>
<line x1="577.50" y1="22.40" x2="579.50" y2="22.40" stroke="#444" stroke-width="0.8" />
<text x="576.60" y="24.88" font-size="7.5" text-anchor="end" fill="#1a1a1a" >100</text>
<line x1="579.50" y1="156.30" x2="685.00" y2="156.30" stroke="#555" stroke-width="0.9" />
<line x1="609.00" y1="156.30" x2="609.00" y2="158.30" stroke="#555" stroke-width="0.8" />
<line x1="654.50" y1="156.30" x2="654.50" y2="158.30" stroke="#555" stroke-width="0.8" />
<text x="609.4" y="166.9" font-size="9.3" text-anchor="middle" fill="#333">SD <tspan fill="#777">Ctrl</tspan></text>
<text x="652.5" y="166.9" font-size="9.3" text-anchor="middle" fill="#333">HFD <tspan fill="#777">Ctrl</tspan></text>
<text x="631.80" y="21.20" font-size="10.6" text-anchor="middle" fill="#222" >ns</text>
<path d="M609.4,36 L609.4,28 L654.8,28 L654.8,36" fill="none" stroke="#444" stroke-width="0.9"/>
<text transform="translate(562.4,89.8) rotate(-90)" font-size="9.7" text-anchor="middle" fill="#999" textLength="88.4" lengthAdjust="spacingAndGlyphs"><tspan font-size="10.7" fill="#999">A</tspan>rbitrary <tspan font-weight="bold" fill="#444">U</tspan>nits <tspan font-size="6.0" fill="#888">[AuC]</tspan></text>
<line x1="594.00" y1="53.10" x2="625.00" y2="53.10" stroke="#6d8a97" stroke-width="0.9" />
<line x1="609.00" y1="47.00" x2="609.00" y2="59.00" stroke="#6d8a97" stroke-width="0.9" />
<circle cx="604.92" cy="43.97" r="2.9" fill="#7a97a4" stroke="none" stroke-width="0"/>
<circle cx="597.06" cy="50.34" r="2.9" fill="#7a97a4" stroke="none" stroke-width="0"/>
<circle cx="604.92" cy="50.34" r="2.9" fill="#7a97a4" stroke="none" stroke-width="0"/>
<circle cx="613.41" cy="48.22" r="2.9" fill="#7a97a4" stroke="none" stroke-width="0"/>
<circle cx="621.91" cy="47.79" r="2.9" fill="#7a97a4" stroke="none" stroke-width="0"/>
<circle cx="597.06" cy="57.35" r="2.9" fill="#7a97a4" stroke="none" stroke-width="0"/>
<circle cx="604.92" cy="55.65" r="2.9" fill="#7a97a4" stroke="none" stroke-width="0"/>
<circle cx="613.41" cy="54.80" r="2.9" fill="#7a97a4" stroke="none" stroke-width="0"/>
<circle cx="621.91" cy="55.65" r="2.9" fill="#7a97a4" stroke="none" stroke-width="0"/>
<circle cx="604.92" cy="63.30" r="2.9" fill="#7a97a4" stroke="none" stroke-width="0"/>
<circle cx="613.41" cy="61.60" r="2.9" fill="#7a97a4" stroke="none" stroke-width="0"/>
<rect x="639.19" y="42.13" width="5.8" height="5.8" fill="#8fc95a" stroke="none" stroke-width="0"/>
<rect x="646.62" y="42.13" width="5.8" height="5.8" fill="#8fc95a" stroke="none" stroke-width="0"/>
<rect x="654.05" y="41.70" width="5.8" height="5.8" fill="#8fc95a" stroke="none" stroke-width="0"/>
<rect x="663.61" y="42.13" width="5.8" height="5.8" fill="#8fc95a" stroke="none" stroke-width="0"/>
<rect x="639.19" y="48.08" width="5.8" height="5.8" fill="#8fc95a" stroke="none" stroke-width="0"/>
<rect x="646.62" y="45.53" width="5.8" height="5.8" fill="#8fc95a" stroke="none" stroke-width="0"/>
<rect x="654.05" y="48.08" width="5.8" height="5.8" fill="#8fc95a" stroke="none" stroke-width="0"/>
<rect x="659.36" y="45.53" width="5.8" height="5.8" fill="#8fc95a" stroke="none" stroke-width="0"/>
<rect x="654.05" y="54.02" width="5.8" height="5.8" fill="#8fc95a" stroke="none" stroke-width="0"/>
<rect x="659.36" y="53.39" width="5.8" height="5.8" fill="#8fc95a" stroke="none" stroke-width="0"/>
<rect x="644.07" y="58.70" width="5.8" height="5.8" fill="#8fc95a" stroke="none" stroke-width="0"/>
<line x1="640.00" y1="51.00" x2="670.00" y2="51.00" stroke="#d9f0c4" stroke-width="0.9" />
<text x="6.00" y="191.70" font-size="13" fill="#111" font-weight="bold" >c</text>
<line x1="24.50" y1="256.69" x2="225.30" y2="256.69" stroke="#c4c4c4" stroke-width="0.8" />
<line x1="24.50" y1="298.09" x2="225.30" y2="298.09" stroke="#c4c4c4" stroke-width="0.8" />
<line x1="24.50" y1="207.00" x2="24.50" y2="339.50" stroke="#444" stroke-width="1.1" />
<line x1="22.50" y1="339.50" x2="24.50" y2="339.50" stroke="#444" stroke-width="0.8" />
<text x="21.60" y="341.91" font-size="7.3" text-anchor="end" fill="#1a1a1a" >0</text>
<line x1="22.50" y1="306.38" x2="24.50" y2="306.38" stroke="#444" stroke-width="0.8" />
<text x="21.60" y="308.78" font-size="7.3" text-anchor="end" fill="#1a1a1a" >4</text>
<line x1="22.50" y1="273.25" x2="24.50" y2="273.25" stroke="#444" stroke-width="0.8" />
<text x="21.60" y="275.66" font-size="7.3" text-anchor="end" fill="#1a1a1a" >8</text>
<line x1="22.50" y1="240.12" x2="24.50" y2="240.12" stroke="#444" stroke-width="0.8" />
<text x="21.60" y="242.53" font-size="7.3" text-anchor="end" fill="#1a1a1a" >12</text>
<line x1="22.50" y1="207.00" x2="24.50" y2="207.00" stroke="#444" stroke-width="0.8" />
<text x="21.60" y="209.41" font-size="7.3" text-anchor="end" fill="#1a1a1a" >16</text>
<line x1="24.50" y1="339.50" x2="225.30" y2="339.50" stroke="#555" stroke-width="0.9" />
<line x1="24.50" y1="339.50" x2="24.50" y2="341.30" stroke="#555" stroke-width="0.8" />
<text x="24.50" y="349.90" font-size="7.3" text-anchor="middle" fill="#1a1a1a" >0</text>
<line x1="44.58" y1="339.50" x2="44.58" y2="341.30" stroke="#555" stroke-width="0.8" />
<text x="44.58" y="349.90" font-size="7.3" text-anchor="middle" fill="#1a1a1a" >1</text>
<line x1="64.66" y1="339.50" x2="64.66" y2="341.30" stroke="#555" stroke-width="0.8" />
<text x="64.66" y="349.90" font-size="7.3" text-anchor="middle" fill="#1a1a1a" >2</text>
<line x1="84.74" y1="339.50" x2="84.74" y2="341.30" stroke="#555" stroke-width="0.8" />
<text x="84.74" y="349.90" font-size="7.3" text-anchor="middle" fill="#1a1a1a" >3</text>
<line x1="104.82" y1="339.50" x2="104.82" y2="341.30" stroke="#555" stroke-width="0.8" />
<text x="104.82" y="349.90" font-size="7.3" text-anchor="middle" fill="#1a1a1a" >4</text>
<line x1="124.90" y1="339.50" x2="124.90" y2="341.30" stroke="#555" stroke-width="0.8" />
<text x="124.90" y="349.90" font-size="7.3" text-anchor="middle" fill="#1a1a1a" >5</text>
<line x1="144.98" y1="339.50" x2="144.98" y2="341.30" stroke="#555" stroke-width="0.8" />
<text x="144.98" y="349.90" font-size="7.3" text-anchor="middle" fill="#1a1a1a" >6</text>
<line x1="165.06" y1="339.50" x2="165.06" y2="341.30" stroke="#555" stroke-width="0.8" />
<text x="165.06" y="349.90" font-size="7.3" text-anchor="middle" fill="#1a1a1a" >7</text>
<line x1="185.14" y1="339.50" x2="185.14" y2="341.30" stroke="#555" stroke-width="0.8" />
<text x="185.14" y="349.90" font-size="7.3" text-anchor="middle" fill="#1a1a1a" >8</text>
<line x1="205.22" y1="339.50" x2="205.22" y2="341.30" stroke="#555" stroke-width="0.8" />
<text x="205.22" y="349.90" font-size="7.3" text-anchor="middle" fill="#1a1a1a" >9</text>
<line x1="225.30" y1="339.50" x2="225.30" y2="341.30" stroke="#555" stroke-width="0.8" />
<text x="225.30" y="349.90" font-size="7.3" text-anchor="middle" fill="#1a1a1a" >10</text>
<text x="124.90" y="362.90" font-size="8.2" text-anchor="middle" fill="#222" >weeks</text>
<line x1="24.50" y1="258.76" x2="24.50" y2="276.98" stroke="#b0dc8a" stroke-width="0.9" />
<line x1="22.10" y1="258.76" x2="26.90" y2="258.76" stroke="#b0dc8a" stroke-width="0.9" />
<line x1="22.10" y1="276.98" x2="26.90" y2="276.98" stroke="#b0dc8a" stroke-width="0.9" />
<line x1="31.19" y1="278.63" x2="31.19" y2="291.88" stroke="#b0dc8a" stroke-width="0.9" />
<line x1="28.79" y1="278.63" x2="33.59" y2="278.63" stroke="#b0dc8a" stroke-width="0.9" />
<line x1="28.79" y1="291.88" x2="33.59" y2="291.88" stroke="#b0dc8a" stroke-width="0.9" />
<line x1="37.89" y1="271.26" x2="37.89" y2="284.51" stroke="#b0dc8a" stroke-width="0.9" />
<line x1="35.49" y1="271.26" x2="40.29" y2="271.26" stroke="#b0dc8a" stroke-width="0.9" />
<line x1="35.49" y1="284.51" x2="40.29" y2="284.51" stroke="#b0dc8a" stroke-width="0.9" />
<line x1="44.58" y1="258.34" x2="44.58" y2="274.91" stroke="#b0dc8a" stroke-width="0.9" />
<line x1="42.18" y1="258.34" x2="46.98" y2="258.34" stroke="#b0dc8a" stroke-width="0.9" />
<line x1="42.18" y1="274.91" x2="46.98" y2="274.91" stroke="#b0dc8a" stroke-width="0.9" />
<line x1="54.62" y1="251.80" x2="54.62" y2="273.33" stroke="#b0dc8a" stroke-width="0.9" />
<line x1="52.22" y1="251.80" x2="57.02" y2="251.80" stroke="#b0dc8a" stroke-width="0.9" />
<line x1="52.22" y1="273.33" x2="57.02" y2="273.33" stroke="#b0dc8a" stroke-width="0.9" />
<line x1="64.66" y1="240.46" x2="64.66" y2="271.93" stroke="#b0dc8a" stroke-width="0.9" />
<line x1="62.26" y1="240.46" x2="67.06" y2="240.46" stroke="#b0dc8a" stroke-width="0.9" />
<line x1="62.26" y1="271.93" x2="67.06" y2="271.93" stroke="#b0dc8a" stroke-width="0.9" />
<line x1="74.70" y1="249.07" x2="74.70" y2="268.94" stroke="#b0dc8a" stroke-width="0.9" />
<line x1="72.30" y1="249.07" x2="77.10" y2="249.07" stroke="#b0dc8a" stroke-width="0.9" />
<line x1="72.30" y1="268.94" x2="77.10" y2="268.94" stroke="#b0dc8a" stroke-width="0.9" />
<line x1="84.74" y1="254.87" x2="84.74" y2="279.71" stroke="#b0dc8a" stroke-width="0.9" />
<line x1="82.34" y1="254.87" x2="87.14" y2="254.87" stroke="#b0dc8a" stroke-width="0.9" />
<line x1="82.34" y1="279.71" x2="87.14" y2="279.71" stroke="#b0dc8a" stroke-width="0.9" />
<line x1="94.78" y1="251.80" x2="94.78" y2="273.33" stroke="#b0dc8a" stroke-width="0.9" />
<line x1="92.38" y1="251.80" x2="97.18" y2="251.80" stroke="#b0dc8a" stroke-width="0.9" />
<line x1="92.38" y1="273.33" x2="97.18" y2="273.33" stroke="#b0dc8a" stroke-width="0.9" />
<line x1="104.82" y1="261.66" x2="104.82" y2="278.22" stroke="#b0dc8a" stroke-width="0.9" />
<line x1="102.42" y1="261.66" x2="107.22" y2="261.66" stroke="#b0dc8a" stroke-width="0.9" />
<line x1="102.42" y1="278.22" x2="107.22" y2="278.22" stroke="#b0dc8a" stroke-width="0.9" />
<line x1="114.86" y1="261.32" x2="114.86" y2="276.23" stroke="#b0dc8a" stroke-width="0.9" />
<line x1="112.46" y1="261.32" x2="117.26" y2="261.32" stroke="#b0dc8a" stroke-width="0.9" />
<line x1="112.46" y1="276.23" x2="117.26" y2="276.23" stroke="#b0dc8a" stroke-width="0.9" />
<line x1="124.90" y1="251.97" x2="124.90" y2="275.15" stroke="#b0dc8a" stroke-width="0.9" />
<line x1="122.50" y1="251.97" x2="127.30" y2="251.97" stroke="#b0dc8a" stroke-width="0.9" />
<line x1="122.50" y1="275.15" x2="127.30" y2="275.15" stroke="#b0dc8a" stroke-width="0.9" />
<line x1="144.98" y1="254.37" x2="144.98" y2="279.21" stroke="#b0dc8a" stroke-width="0.9" />
<line x1="142.58" y1="254.37" x2="147.38" y2="254.37" stroke="#b0dc8a" stroke-width="0.9" />
<line x1="142.58" y1="279.21" x2="147.38" y2="279.21" stroke="#b0dc8a" stroke-width="0.9" />
<line x1="155.02" y1="259.17" x2="155.02" y2="275.73" stroke="#b0dc8a" stroke-width="0.9" />
<line x1="152.62" y1="259.17" x2="157.42" y2="259.17" stroke="#b0dc8a" stroke-width="0.9" />
<line x1="152.62" y1="275.73" x2="157.42" y2="275.73" stroke="#b0dc8a" stroke-width="0.9" />
<line x1="165.06" y1="254.20" x2="165.06" y2="274.08" stroke="#b0dc8a" stroke-width="0.9" />
<line x1="162.66" y1="254.20" x2="167.46" y2="254.20" stroke="#b0dc8a" stroke-width="0.9" />
<line x1="162.66" y1="274.08" x2="167.46" y2="274.08" stroke="#b0dc8a" stroke-width="0.9" />
<line x1="175.10" y1="262.82" x2="175.10" y2="277.72" stroke="#b0dc8a" stroke-width="0.9" />
<line x1="172.70" y1="262.82" x2="177.50" y2="262.82" stroke="#b0dc8a" stroke-width="0.9" />
<line x1="172.70" y1="277.72" x2="177.50" y2="277.72" stroke="#b0dc8a" stroke-width="0.9" />
<line x1="185.14" y1="262.07" x2="185.14" y2="281.95" stroke="#b0dc8a" stroke-width="0.9" />
<line x1="182.74" y1="262.07" x2="187.54" y2="262.07" stroke="#b0dc8a" stroke-width="0.9" />
<line x1="182.74" y1="281.95" x2="187.54" y2="281.95" stroke="#b0dc8a" stroke-width="0.9" />
<line x1="205.22" y1="251.72" x2="205.22" y2="274.91" stroke="#b0dc8a" stroke-width="0.9" />
<line x1="202.82" y1="251.72" x2="207.62" y2="251.72" stroke="#b0dc8a" stroke-width="0.9" />
<line x1="202.82" y1="274.91" x2="207.62" y2="274.91" stroke="#b0dc8a" stroke-width="0.9" />
<line x1="225.30" y1="254.45" x2="225.30" y2="272.67" stroke="#b0dc8a" stroke-width="0.9" />
<line x1="222.90" y1="254.45" x2="227.70" y2="254.45" stroke="#b0dc8a" stroke-width="0.9" />
<line x1="222.90" y1="272.67" x2="227.70" y2="272.67" stroke="#b0dc8a" stroke-width="0.9" />
<line x1="24.50" y1="260.99" x2="24.50" y2="284.18" stroke="#8aa5b1" stroke-width="0.9" />
<line x1="22.10" y1="260.99" x2="26.90" y2="260.99" stroke="#8aa5b1" stroke-width="0.9" />
<line x1="22.10" y1="284.18" x2="26.90" y2="284.18" stroke="#8aa5b1" stroke-width="0.9" />
<line x1="31.19" y1="264.55" x2="31.19" y2="276.15" stroke="#8aa5b1" stroke-width="0.9" />
<line x1="28.79" y1="264.55" x2="33.59" y2="264.55" stroke="#8aa5b1" stroke-width="0.9" />
<line x1="28.79" y1="276.15" x2="33.59" y2="276.15" stroke="#8aa5b1" stroke-width="0.9" />
<line x1="37.89" y1="261.41" x2="37.89" y2="282.94" stroke="#8aa5b1" stroke-width="0.9" />
<line x1="35.49" y1="261.41" x2="40.29" y2="261.41" stroke="#8aa5b1" stroke-width="0.9" />
<line x1="35.49" y1="282.94" x2="40.29" y2="282.94" stroke="#8aa5b1" stroke-width="0.9" />
<line x1="44.58" y1="249.57" x2="44.58" y2="284.35" stroke="#8aa5b1" stroke-width="0.9" />
<line x1="42.18" y1="249.57" x2="46.98" y2="249.57" stroke="#8aa5b1" stroke-width="0.9" />
<line x1="42.18" y1="284.35" x2="46.98" y2="284.35" stroke="#8aa5b1" stroke-width="0.9" />
<line x1="54.62" y1="253.38" x2="54.62" y2="286.50" stroke="#8aa5b1" stroke-width="0.9" />
<line x1="52.22" y1="253.38" x2="57.02" y2="253.38" stroke="#8aa5b1" stroke-width="0.9" />
<line x1="52.22" y1="286.50" x2="57.02" y2="286.50" stroke="#8aa5b1" stroke-width="0.9" />
<line x1="64.66" y1="263.81" x2="64.66" y2="278.72" stroke="#8aa5b1" stroke-width="0.9" />
<line x1="62.26" y1="263.81" x2="67.06" y2="263.81" stroke="#8aa5b1" stroke-width="0.9" />
<line x1="62.26" y1="278.72" x2="67.06" y2="278.72" stroke="#8aa5b1" stroke-width="0.9" />
<line x1="74.70" y1="260.17" x2="74.70" y2="276.73" stroke="#8aa5b1" stroke-width="0.9" />
<line x1="72.30" y1="260.17" x2="77.10" y2="260.17" stroke="#8aa5b1" stroke-width="0.9" />
<line x1="72.30" y1="276.73" x2="77.10" y2="276.73" stroke="#8aa5b1" stroke-width="0.9" />
<line x1="84.74" y1="247.99" x2="84.74" y2="282.77" stroke="#8aa5b1" stroke-width="0.9" />
<line x1="82.34" y1="247.99" x2="87.14" y2="247.99" stroke="#8aa5b1" stroke-width="0.9" />
<line x1="82.34" y1="282.77" x2="87.14" y2="282.77" stroke="#8aa5b1" stroke-width="0.9" />
<line x1="94.78" y1="251.47" x2="94.78" y2="276.31" stroke="#8aa5b1" stroke-width="0.9" />
<line x1="92.38" y1="251.47" x2="97.18" y2="251.47" stroke="#8aa5b1" stroke-width="0.9" />
<line x1="92.38" y1="276.31" x2="97.18" y2="276.31" stroke="#8aa5b1" stroke-width="0.9" />
<line x1="104.82" y1="250.06" x2="104.82" y2="276.56" stroke="#8aa5b1" stroke-width="0.9" />
<line x1="102.42" y1="250.06" x2="107.22" y2="250.06" stroke="#8aa5b1" stroke-width="0.9" />
<line x1="102.42" y1="276.56" x2="107.22" y2="276.56" stroke="#8aa5b1" stroke-width="0.9" />
<line x1="114.86" y1="260.50" x2="114.86" y2="277.06" stroke="#8aa5b1" stroke-width="0.9" />
<line x1="112.46" y1="260.50" x2="117.26" y2="260.50" stroke="#8aa5b1" stroke-width="0.9" />
<line x1="112.46" y1="277.06" x2="117.26" y2="277.06" stroke="#8aa5b1" stroke-width="0.9" />
<line x1="124.90" y1="255.36" x2="124.90" y2="285.18" stroke="#8aa5b1" stroke-width="0.9" />
<line x1="122.50" y1="255.36" x2="127.30" y2="255.36" stroke="#8aa5b1" stroke-width="0.9" />
<line x1="122.50" y1="285.18" x2="127.30" y2="285.18" stroke="#8aa5b1" stroke-width="0.9" />
<line x1="144.98" y1="250.48" x2="144.98" y2="280.29" stroke="#8aa5b1" stroke-width="0.9" />
<line x1="142.58" y1="250.48" x2="147.38" y2="250.48" stroke="#8aa5b1" stroke-width="0.9" />
<line x1="142.58" y1="280.29" x2="147.38" y2="280.29" stroke="#8aa5b1" stroke-width="0.9" />
<line x1="155.02" y1="265.55" x2="155.02" y2="282.11" stroke="#8aa5b1" stroke-width="0.9" />
<line x1="152.62" y1="265.55" x2="157.42" y2="265.55" stroke="#8aa5b1" stroke-width="0.9" />
<line x1="152.62" y1="282.11" x2="157.42" y2="282.11" stroke="#8aa5b1" stroke-width="0.9" />
<line x1="165.06" y1="260.50" x2="165.06" y2="278.72" stroke="#8aa5b1" stroke-width="0.9" />
<line x1="162.66" y1="260.50" x2="167.46" y2="260.50" stroke="#8aa5b1" stroke-width="0.9" />
<line x1="162.66" y1="278.72" x2="167.46" y2="278.72" stroke="#8aa5b1" stroke-width="0.9" />
<line x1="175.10" y1="276.81" x2="175.10" y2="288.40" stroke="#8aa5b1" stroke-width="0.9" />
<line x1="172.70" y1="276.81" x2="177.50" y2="276.81" stroke="#8aa5b1" stroke-width="0.9" />
<line x1="172.70" y1="288.40" x2="177.50" y2="288.40" stroke="#8aa5b1" stroke-width="0.9" />
<line x1="185.14" y1="270.77" x2="185.14" y2="284.02" stroke="#8aa5b1" stroke-width="0.9" />
<line x1="182.74" y1="270.77" x2="187.54" y2="270.77" stroke="#8aa5b1" stroke-width="0.9" />
<line x1="182.74" y1="284.02" x2="187.54" y2="284.02" stroke="#8aa5b1" stroke-width="0.9" />
<line x1="205.22" y1="262.32" x2="205.22" y2="280.54" stroke="#8aa5b1" stroke-width="0.9" />
<line x1="202.82" y1="262.32" x2="207.62" y2="262.32" stroke="#8aa5b1" stroke-width="0.9" />
<line x1="202.82" y1="280.54" x2="207.62" y2="280.54" stroke="#8aa5b1" stroke-width="0.9" />
<line x1="225.30" y1="253.62" x2="225.30" y2="273.50" stroke="#8aa5b1" stroke-width="0.9" />
<line x1="222.90" y1="253.62" x2="227.70" y2="253.62" stroke="#8aa5b1" stroke-width="0.9" />
<line x1="222.90" y1="273.50" x2="227.70" y2="273.50" stroke="#8aa5b1" stroke-width="0.9" />
<polyline points="24.50,267.87 31.19,285.26 37.89,277.89 44.58,266.62 54.62,262.57 64.66,256.19 74.70,259.01 84.74,267.29 94.78,262.57 104.82,269.94 114.86,268.78 124.90,263.56 144.98,266.79 155.02,267.45 165.06,264.14 175.10,270.27 185.14,272.01 205.22,263.31 225.30,263.56" fill="none" stroke="#8fc95a" stroke-width="0.9"/>
<polyline points="24.50,272.59 31.19,270.35 37.89,272.17 44.58,266.96 54.62,269.94 64.66,271.26 74.70,268.45 84.74,265.38 94.78,263.89 104.82,263.31 114.86,268.78 124.90,270.27 144.98,265.38 155.02,273.83 165.06,269.61 175.10,282.61 185.14,277.39 205.22,271.43 225.30,263.56" fill="none" stroke="#7a97a4" stroke-width="0.9"/>
<rect x="21.50" y="264.87" width="6.0" height="6.0" fill="none" stroke="#9fd070" stroke-width="0.85"/>
<rect x="28.19" y="282.26" width="6.0" height="6.0" fill="none" stroke="#9fd070" stroke-width="0.85"/>
<rect x="34.89" y="274.89" width="6.0" height="6.0" fill="none" stroke="#9fd070" stroke-width="0.85"/>
<rect x="41.58" y="263.62" width="6.0" height="6.0" fill="none" stroke="#9fd070" stroke-width="0.85"/>
<rect x="51.62" y="259.57" width="6.0" height="6.0" fill="none" stroke="#9fd070" stroke-width="0.85"/>
<rect x="61.66" y="253.19" width="6.0" height="6.0" fill="none" stroke="#9fd070" stroke-width="0.85"/>
<rect x="71.70" y="256.01" width="6.0" height="6.0" fill="none" stroke="#9fd070" stroke-width="0.85"/>
<rect x="81.74" y="264.29" width="6.0" height="6.0" fill="none" stroke="#9fd070" stroke-width="0.85"/>
<rect x="91.78" y="259.57" width="6.0" height="6.0" fill="none" stroke="#9fd070" stroke-width="0.85"/>
<rect x="101.82" y="266.94" width="6.0" height="6.0" fill="none" stroke="#9fd070" stroke-width="0.85"/>
<rect x="111.86" y="265.78" width="6.0" height="6.0" fill="none" stroke="#9fd070" stroke-width="0.85"/>
<rect x="121.90" y="260.56" width="6.0" height="6.0" fill="none" stroke="#9fd070" stroke-width="0.85"/>
<rect x="141.98" y="263.79" width="6.0" height="6.0" fill="none" stroke="#9fd070" stroke-width="0.85"/>
<rect x="152.02" y="264.45" width="6.0" height="6.0" fill="none" stroke="#9fd070" stroke-width="0.85"/>
<rect x="162.06" y="261.14" width="6.0" height="6.0" fill="none" stroke="#9fd070" stroke-width="0.85"/>
<rect x="172.10" y="267.27" width="6.0" height="6.0" fill="none" stroke="#9fd070" stroke-width="0.85"/>
<rect x="182.14" y="269.01" width="6.0" height="6.0" fill="none" stroke="#9fd070" stroke-width="0.85"/>
<rect x="202.22" y="260.31" width="6.0" height="6.0" fill="none" stroke="#9fd070" stroke-width="0.85"/>
<rect x="222.30" y="260.56" width="6.0" height="6.0" fill="none" stroke="#9fd070" stroke-width="0.85"/>
<circle cx="24.50" cy="272.59" r="3.3" fill="none" stroke="#6f8d9a" stroke-width="0.85"/>
<circle cx="31.19" cy="270.35" r="3.3" fill="none" stroke="#6f8d9a" stroke-width="0.85"/>
<circle cx="37.89" cy="272.17" r="3.3" fill="none" stroke="#6f8d9a" stroke-width="0.85"/>
<circle cx="44.58" cy="266.96" r="3.3" fill="none" stroke="#6f8d9a" stroke-width="0.85"/>
<circle cx="54.62" cy="269.94" r="3.3" fill="none" stroke="#6f8d9a" stroke-width="0.85"/>
<circle cx="64.66" cy="271.26" r="3.3" fill="none" stroke="#6f8d9a" stroke-width="0.85"/>
<circle cx="74.70" cy="268.45" r="3.3" fill="none" stroke="#6f8d9a" stroke-width="0.85"/>
<circle cx="84.74" cy="265.38" r="3.3" fill="none" stroke="#6f8d9a" stroke-width="0.85"/>
<circle cx="94.78" cy="263.89" r="3.3" fill="none" stroke="#6f8d9a" stroke-width="0.85"/>
<circle cx="104.82" cy="263.31" r="3.3" fill="none" stroke="#6f8d9a" stroke-width="0.85"/>
<circle cx="114.86" cy="268.78" r="3.3" fill="none" stroke="#6f8d9a" stroke-width="0.85"/>
<circle cx="124.90" cy="270.27" r="3.3" fill="none" stroke="#6f8d9a" stroke-width="0.85"/>
<circle cx="144.98" cy="265.38" r="3.3" fill="none" stroke="#6f8d9a" stroke-width="0.85"/>
<circle cx="155.02" cy="273.83" r="3.3" fill="none" stroke="#6f8d9a" stroke-width="0.85"/>
<circle cx="165.06" cy="269.61" r="3.3" fill="none" stroke="#6f8d9a" stroke-width="0.85"/>
<circle cx="175.10" cy="282.61" r="3.3" fill="none" stroke="#6f8d9a" stroke-width="0.85"/>
<circle cx="185.14" cy="277.39" r="3.3" fill="none" stroke="#6f8d9a" stroke-width="0.85"/>
<circle cx="205.22" cy="271.43" r="3.3" fill="none" stroke="#6f8d9a" stroke-width="0.85"/>
<circle cx="225.30" cy="263.56" r="3.3" fill="none" stroke="#6f8d9a" stroke-width="0.85"/>
<text transform="translate(11.2,266.3) rotate(-90)" font-size="10.4" text-anchor="middle" fill="#aaa" textLength="82.6" lengthAdjust="spacingAndGlyphs"><tspan font-size="11.6" fill="#999">G</tspan>lycaemia <tspan font-weight="bold" fill="#333">m</tspan>mol/l</text>
<line x1="32.00" y1="211.60" x2="46.60" y2="211.60" stroke="#7a97a4" stroke-width="1.0" />
<circle cx="39.30" cy="211.60" r="2.79" fill="white" stroke="#7a97a4" stroke-width="0.8"/>
<text x="48.5" y="214.9" font-size="9.4" fill="#777"><tspan fill="#555">SD</tspan> <tspan font-weight="bold" fill="#333">D</tspan><tspan fill="#555">T</tspan> [n=10]</text>
<line x1="32.00" y1="226.70" x2="46.60" y2="226.70" stroke="#9fd070" stroke-width="1.0" />
<rect x="36.33" y="223.73" width="5.9399999999999995" height="5.9399999999999995" fill="white" stroke="#9fd070" stroke-width="0.8"/>
<text x="48.5" y="230.0" font-size="9.4" fill="#777"><tspan fill="#555">HFD</tspan> <tspan font-weight="bold" fill="#333">D</tspan><tspan fill="#555">T</tspan> [n=11]</text>
<line x1="262.50" y1="207.60" x2="262.50" y2="341.50" stroke="#555" stroke-width="0.9" />
<line x1="260.50" y1="341.50" x2="262.50" y2="341.50" stroke="#444" stroke-width="0.8" />
<text x="259.60" y="343.98" font-size="7.5" text-anchor="end" fill="#1a1a1a" >0</text>
<line x1="260.50" y1="314.72" x2="262.50" y2="314.72" stroke="#444" stroke-width="0.8" />
<text x="259.60" y="317.20" font-size="7.5" text-anchor="end" fill="#1a1a1a" >20</text>
<line x1="260.50" y1="287.94" x2="262.50" y2="287.94" stroke="#444" stroke-width="0.8" />
<text x="259.60" y="290.42" font-size="7.5" text-anchor="end" fill="#1a1a1a" >40</text>
<line x1="260.50" y1="261.16" x2="262.50" y2="261.16" stroke="#444" stroke-width="0.8" />
<text x="259.60" y="263.63" font-size="7.5" text-anchor="end" fill="#1a1a1a" >60</text>
<line x1="260.50" y1="234.38" x2="262.50" y2="234.38" stroke="#444" stroke-width="0.8" />
<text x="259.60" y="236.85" font-size="7.5" text-anchor="end" fill="#1a1a1a" >80</text>
<line x1="260.50" y1="207.60" x2="262.50" y2="207.60" stroke="#444" stroke-width="0.8" />
<text x="259.60" y="210.07" font-size="7.5" text-anchor="end" fill="#1a1a1a" >100</text>
<line x1="262.50" y1="341.50" x2="365.00" y2="341.50" stroke="#555" stroke-width="0.9" />
<line x1="291.60" y1="341.50" x2="291.60" y2="343.50" stroke="#555" stroke-width="0.8" />
<line x1="334.00" y1="341.50" x2="334.00" y2="343.50" stroke="#555" stroke-width="0.8" />
<text x="291.6" y="352.6" font-size="9.3" text-anchor="middle" fill="#555">SD <tspan font-weight="bold" fill="#222">D</tspan>T</text>
<text x="334" y="352.6" font-size="9.3" text-anchor="middle" fill="#555">HFD <tspan font-weight="bold" fill="#222">D</tspan>T</text>
<text x="315.00" y="189.60" font-size="10.6" text-anchor="middle" fill="#222" >ns</text>
<path d="M292.2,208.7 L292.2,196.4 L338,196.4 L338,208.7" fill="none" stroke="#444" stroke-width="0.9"/>
<text transform="translate(245.3,274) rotate(-90)" font-size="9.7" text-anchor="middle" fill="#999" textLength="88" lengthAdjust="spacingAndGlyphs"><tspan font-size="10.7" fill="#999">A</tspan>rbitrary <tspan font-weight="bold" fill="#444">U</tspan>nits <tspan font-size="6.0" fill="#888">[AuC]</tspan></text>
<rect x="331.50" y="210.75" width="5.2" height="5.2" fill="none" stroke="#a5d47a" stroke-width="0.8"/>
<rect x="337.87" y="209.69" width="5.2" height="5.2" fill="none" stroke="#a5d47a" stroke-width="0.8"/>
<rect x="328.95" y="216.70" width="5.2" height="5.2" fill="none" stroke="#a5d47a" stroke-width="0.8"/>
<rect x="334.69" y="217.77" width="5.2" height="5.2" fill="none" stroke="#a5d47a" stroke-width="0.8"/>
<rect x="342.12" y="219.89" width="5.2" height="5.2" fill="none" stroke="#a5d47a" stroke-width="0.8"/>
<rect x="347.43" y="217.13" width="5.2" height="5.2" fill="none" stroke="#a5d47a" stroke-width="0.8"/>
<rect x="322.58" y="221.38" width="5.2" height="5.2" fill="none" stroke="#a5d47a" stroke-width="0.8"/>
<rect x="328.95" y="224.56" width="5.2" height="5.2" fill="none" stroke="#a5d47a" stroke-width="0.8"/>
<rect x="335.75" y="224.56" width="5.2" height="5.2" fill="none" stroke="#a5d47a" stroke-width="0.8"/>
<rect x="347.43" y="223.08" width="5.2" height="5.2" fill="none" stroke="#a5d47a" stroke-width="0.8"/>
<rect x="341.06" y="226.69" width="5.2" height="5.2" fill="none" stroke="#a5d47a" stroke-width="0.8"/>
<rect x="328.95" y="230.51" width="5.2" height="5.2" fill="none" stroke="#a5d47a" stroke-width="0.8"/>
<rect x="334.69" y="221.59" width="5.2" height="5.2" fill="none" stroke="#a5d47a" stroke-width="0.8"/>
<circle cx="284.81" cy="217.60" r="2.6" fill="none" stroke="#86a3ae" stroke-width="0.8"/>
<circle cx="294.80" cy="221.85" r="2.6" fill="none" stroke="#86a3ae" stroke-width="0.8"/>
<circle cx="299.68" cy="216.54" r="2.6" fill="none" stroke="#86a3ae" stroke-width="0.8"/>
<circle cx="290.55" cy="224.19" r="2.6" fill="none" stroke="#86a3ae" stroke-width="0.8"/>
<circle cx="285.24" cy="231.63" r="2.6" fill="none" stroke="#86a3ae" stroke-width="0.8"/>
<circle cx="290.55" cy="233.54" r="2.6" fill="none" stroke="#86a3ae" stroke-width="0.8"/>
<circle cx="295.43" cy="233.11" r="2.6" fill="none" stroke="#86a3ae" stroke-width="0.8"/>
<circle cx="304.78" cy="232.69" r="2.6" fill="none" stroke="#86a3ae" stroke-width="0.8"/>
<circle cx="279.93" cy="236.30" r="2.6" fill="none" stroke="#86a3ae" stroke-width="0.8"/>
<circle cx="299.68" cy="236.30" r="2.6" fill="none" stroke="#86a3ae" stroke-width="0.8"/>
<circle cx="290.12" cy="226.31" r="2.6" fill="none" stroke="#86a3ae" stroke-width="0.8"/>
<line x1="276.00" y1="228.50" x2="308.00" y2="228.50" stroke="#6d8a97" stroke-width="0.9" />
<line x1="322.00" y1="222.00" x2="352.00" y2="222.00" stroke="#6fae3e" stroke-width="0.9" />
<text x="371.50" y="192.60" font-size="13" fill="#111" font-weight="bold" >d</text>
<line x1="411.40" y1="239.00" x2="411.40" y2="318.20" stroke="#555" stroke-width="0.9" />
<line x1="409.40" y1="318.20" x2="411.40" y2="318.20" stroke="#444" stroke-width="0.8" />
<text x="408.50" y="320.58" font-size="7.2" text-anchor="end" fill="#1a1a1a" >0</text>
<line x1="409.40" y1="305.00" x2="411.40" y2="305.00" stroke="#444" stroke-width="0.8" />
<text x="408.50" y="307.38" font-size="7.2" text-anchor="end" fill="#1a1a1a" >5</text>
<line x1="409.40" y1="291.80" x2="411.40" y2="291.80" stroke="#444" stroke-width="0.8" />
<text x="408.50" y="294.18" font-size="7.2" text-anchor="end" fill="#1a1a1a" >10</text>
<line x1="409.40" y1="278.60" x2="411.40" y2="278.60" stroke="#444" stroke-width="0.8" />
<text x="408.50" y="280.98" font-size="7.2" text-anchor="end" fill="#1a1a1a" >15</text>
<line x1="409.40" y1="265.40" x2="411.40" y2="265.40" stroke="#444" stroke-width="0.8" />
<text x="408.50" y="267.78" font-size="7.2" text-anchor="end" fill="#1a1a1a" >20</text>
<line x1="409.40" y1="252.20" x2="411.40" y2="252.20" stroke="#444" stroke-width="0.8" />
<text x="408.50" y="254.58" font-size="7.2" text-anchor="end" fill="#1a1a1a" >25</text>
<line x1="409.40" y1="239.00" x2="411.40" y2="239.00" stroke="#444" stroke-width="0.8" />
<text x="408.50" y="241.38" font-size="7.2" text-anchor="end" fill="#1a1a1a" >30</text>
<line x1="411.40" y1="318.20" x2="543.80" y2="318.20" stroke="#555" stroke-width="0.9" />
<line x1="411.40" y1="318.20" x2="411.40" y2="320.20" stroke="#555" stroke-width="0.8" />
<text x="411.40" y="328.40" font-size="7.2" text-anchor="middle" fill="#222" >0</text>
<line x1="427.95" y1="318.20" x2="427.95" y2="320.20" stroke="#555" stroke-width="0.8" />
<text x="427.95" y="328.40" font-size="7.2" text-anchor="middle" fill="#222" >15</text>
<line x1="444.50" y1="318.20" x2="444.50" y2="320.20" stroke="#555" stroke-width="0.8" />
<text x="444.50" y="328.40" font-size="7.2" text-anchor="middle" fill="#222" >30</text>
<line x1="461.05" y1="318.20" x2="461.05" y2="320.20" stroke="#555" stroke-width="0.8" />
<text x="461.05" y="328.40" font-size="7.2" text-anchor="middle" fill="#222" >45</text>
<line x1="477.60" y1="318.20" x2="477.60" y2="320.20" stroke="#555" stroke-width="0.8" />
<text x="477.60" y="328.40" font-size="7.2" text-anchor="middle" fill="#222" >60</text>
<line x1="494.15" y1="318.20" x2="494.15" y2="320.20" stroke="#555" stroke-width="0.8" />
<text x="494.15" y="328.40" font-size="7.2" text-anchor="middle" fill="#222" >75</text>
<line x1="510.70" y1="318.20" x2="510.70" y2="320.20" stroke="#555" stroke-width="0.8" />
<text x="510.70" y="328.40" font-size="7.2" text-anchor="middle" fill="#222" >90</text>
<line x1="527.25" y1="318.20" x2="527.25" y2="320.20" stroke="#555" stroke-width="0.8" />
<text x="527.25" y="328.40" font-size="7.2" text-anchor="middle" fill="#222" >105</text>
<line x1="543.80" y1="318.20" x2="543.80" y2="320.20" stroke="#555" stroke-width="0.8" />
<text x="543.80" y="328.40" font-size="7.2" text-anchor="middle" fill="#222" >120</text>
<line x1="416.92" y1="318.20" x2="416.92" y2="319.20" stroke="#555" stroke-width="0.5" />
<line x1="422.43" y1="318.20" x2="422.43" y2="319.20" stroke="#555" stroke-width="0.5" />
<line x1="433.47" y1="318.20" x2="433.47" y2="319.20" stroke="#555" stroke-width="0.5" />
<line x1="438.98" y1="318.20" x2="438.98" y2="319.20" stroke="#555" stroke-width="0.5" />
<line x1="450.02" y1="318.20" x2="450.02" y2="319.20" stroke="#555" stroke-width="0.5" />
<line x1="455.53" y1="318.20" x2="455.53" y2="319.20" stroke="#555" stroke-width="0.5" />
<line x1="466.57" y1="318.20" x2="466.57" y2="319.20" stroke="#555" stroke-width="0.5" />
<line x1="472.08" y1="318.20" x2="472.08" y2="319.20" stroke="#555" stroke-width="0.5" />
<line x1="483.12" y1="318.20" x2="483.12" y2="319.20" stroke="#555" stroke-width="0.5" />
<line x1="488.63" y1="318.20" x2="488.63" y2="319.20" stroke="#555" stroke-width="0.5" />
<line x1="499.67" y1="318.20" x2="499.67" y2="319.20" stroke="#555" stroke-width="0.5" />
<line x1="505.18" y1="318.20" x2="505.18" y2="319.20" stroke="#555" stroke-width="0.5" />
<line x1="516.22" y1="318.20" x2="516.22" y2="319.20" stroke="#555" stroke-width="0.5" />
<line x1="521.73" y1="318.20" x2="521.73" y2="319.20" stroke="#555" stroke-width="0.5" />
<line x1="532.77" y1="318.20" x2="532.77" y2="319.20" stroke="#555" stroke-width="0.5" />
<line x1="538.28" y1="318.20" x2="538.28" y2="319.20" stroke="#555" stroke-width="0.5" />
<text x="477.60" y="342.20" font-size="7.95" text-anchor="middle" fill="#222" >Minutes post injection</text>
<text transform="translate(390.6,280.7) rotate(-90)" font-size="10.4" text-anchor="middle" fill="#aaa" textLength="81.7" lengthAdjust="spacingAndGlyphs"><tspan font-size="11.6" fill="#999">G</tspan>lycaemia <tspan font-weight="bold" fill="#333">m</tspan>mol/l</text>
<line x1="411.40" y1="302.89" x2="411.40" y2="306.06" stroke="#7a97a4" stroke-width="0.8" />
<line x1="409.60" y1="302.89" x2="413.20" y2="302.89" stroke="#7a97a4" stroke-width="0.8" />
<line x1="409.60" y1="306.06" x2="413.20" y2="306.06" stroke="#7a97a4" stroke-width="0.8" />
<line x1="416.92" y1="279.13" x2="416.92" y2="289.69" stroke="#7a97a4" stroke-width="0.8" />
<line x1="415.12" y1="279.13" x2="418.72" y2="279.13" stroke="#7a97a4" stroke-width="0.8" />
<line x1="415.12" y1="289.69" x2="418.72" y2="289.69" stroke="#7a97a4" stroke-width="0.8" />
<line x1="422.43" y1="269.89" x2="422.43" y2="277.81" stroke="#7a97a4" stroke-width="0.8" />
<line x1="420.63" y1="269.89" x2="424.23" y2="269.89" stroke="#7a97a4" stroke-width="0.8" />
<line x1="420.63" y1="277.81" x2="424.23" y2="277.81" stroke="#7a97a4" stroke-width="0.8" />
<line x1="427.95" y1="265.40" x2="427.95" y2="278.60" stroke="#7a97a4" stroke-width="0.8" />
<line x1="426.15" y1="265.40" x2="429.75" y2="265.40" stroke="#7a97a4" stroke-width="0.8" />
<line x1="426.15" y1="278.60" x2="429.75" y2="278.60" stroke="#7a97a4" stroke-width="0.8" />
<line x1="433.47" y1="270.15" x2="433.47" y2="280.71" stroke="#7a97a4" stroke-width="0.8" />
<line x1="431.67" y1="270.15" x2="435.27" y2="270.15" stroke="#7a97a4" stroke-width="0.8" />
<line x1="431.67" y1="280.71" x2="435.27" y2="280.71" stroke="#7a97a4" stroke-width="0.8" />
<line x1="444.50" y1="273.32" x2="444.50" y2="281.24" stroke="#7a97a4" stroke-width="0.8" />
<line x1="442.70" y1="273.32" x2="446.30" y2="273.32" stroke="#7a97a4" stroke-width="0.8" />
<line x1="442.70" y1="281.24" x2="446.30" y2="281.24" stroke="#7a97a4" stroke-width="0.8" />
<line x1="461.05" y1="285.20" x2="461.05" y2="289.42" stroke="#7a97a4" stroke-width="0.8" />
<line x1="459.25" y1="285.20" x2="462.85" y2="285.20" stroke="#7a97a4" stroke-width="0.8" />
<line x1="459.25" y1="289.42" x2="462.85" y2="289.42" stroke="#7a97a4" stroke-width="0.8" />
<line x1="477.60" y1="289.16" x2="477.60" y2="294.44" stroke="#7a97a4" stroke-width="0.8" />
<line x1="475.80" y1="289.16" x2="479.40" y2="289.16" stroke="#7a97a4" stroke-width="0.8" />
<line x1="475.80" y1="294.44" x2="479.40" y2="294.44" stroke="#7a97a4" stroke-width="0.8" />
<line x1="494.15" y1="294.44" x2="494.15" y2="297.61" stroke="#7a97a4" stroke-width="0.8" />
<line x1="492.35" y1="294.44" x2="495.95" y2="294.44" stroke="#7a97a4" stroke-width="0.8" />
<line x1="492.35" y1="297.61" x2="495.95" y2="297.61" stroke="#7a97a4" stroke-width="0.8" />
<line x1="510.70" y1="296.82" x2="510.70" y2="299.46" stroke="#7a97a4" stroke-width="0.8" />
<line x1="508.90" y1="296.82" x2="512.50" y2="296.82" stroke="#7a97a4" stroke-width="0.8" />
<line x1="508.90" y1="299.46" x2="512.50" y2="299.46" stroke="#7a97a4" stroke-width="0.8" />
<line x1="527.25" y1="298.14" x2="527.25" y2="300.78" stroke="#7a97a4" stroke-width="0.8" />
<line x1="525.45" y1="298.14" x2="529.05" y2="298.14" stroke="#7a97a4" stroke-width="0.8" />
<line x1="525.45" y1="300.78" x2="529.05" y2="300.78" stroke="#7a97a4" stroke-width="0.8" />
<line x1="543.80" y1="299.72" x2="543.80" y2="302.36" stroke="#7a97a4" stroke-width="0.8" />
<line x1="542.00" y1="299.72" x2="545.60" y2="299.72" stroke="#7a97a4" stroke-width="0.8" />
<line x1="542.00" y1="302.36" x2="545.60" y2="302.36" stroke="#7a97a4" stroke-width="0.8" />
<polyline points="411.40,304.47 416.92,284.41 422.43,273.85 427.95,272.00 433.47,275.43 444.50,277.28 461.05,287.31 477.60,291.80 494.15,296.02 510.70,298.14 527.25,299.46 543.80,301.04" fill="none" stroke="#7a97a4" stroke-width="0.9"/>
<circle cx="411.40" cy="304.47" r="2.9" fill="#7a97a4" stroke="none" stroke-width="0"/>
<circle cx="416.92" cy="284.41" r="2.9" fill="#7a97a4" stroke="none" stroke-width="0"/>
<circle cx="422.43" cy="273.85" r="2.9" fill="#7a97a4" stroke="none" stroke-width="0"/>
<circle cx="427.95" cy="272.00" r="2.9" fill="#7a97a4" stroke="none" stroke-width="0"/>
<circle cx="433.47" cy="275.43" r="2.9" fill="#7a97a4" stroke="none" stroke-width="0"/>
<circle cx="444.50" cy="277.28" r="2.9" fill="#7a97a4" stroke="none" stroke-width="0"/>
<circle cx="461.05" cy="287.31" r="2.9" fill="#7a97a4" stroke="none" stroke-width="0"/>
<circle cx="477.60" cy="291.80" r="2.9" fill="#7a97a4" stroke="none" stroke-width="0"/>
<circle cx="494.15" cy="296.02" r="2.9" fill="#7a97a4" stroke="none" stroke-width="0"/>
<circle cx="510.70" cy="298.14" r="2.9" fill="#7a97a4" stroke="none" stroke-width="0"/>
<circle cx="527.25" cy="299.46" r="2.9" fill="#7a97a4" stroke="none" stroke-width="0"/>
<circle cx="543.80" cy="301.04" r="2.9" fill="#7a97a4" stroke="none" stroke-width="0"/>
<line x1="411.40" y1="300.78" x2="411.40" y2="305.00" stroke="#8fc95a" stroke-width="0.8" />
<line x1="409.60" y1="300.78" x2="413.20" y2="300.78" stroke="#8fc95a" stroke-width="0.8" />
<line x1="409.60" y1="305.00" x2="413.20" y2="305.00" stroke="#8fc95a" stroke-width="0.8" />
<line x1="416.92" y1="293.38" x2="416.92" y2="299.72" stroke="#8fc95a" stroke-width="0.8" />
<line x1="415.12" y1="293.38" x2="418.72" y2="293.38" stroke="#8fc95a" stroke-width="0.8" />
<line x1="415.12" y1="299.72" x2="418.72" y2="299.72" stroke="#8fc95a" stroke-width="0.8" />
<line x1="422.43" y1="278.34" x2="422.43" y2="287.84" stroke="#8fc95a" stroke-width="0.8" />
<line x1="420.63" y1="278.34" x2="424.23" y2="278.34" stroke="#8fc95a" stroke-width="0.8" />
<line x1="420.63" y1="287.84" x2="424.23" y2="287.84" stroke="#8fc95a" stroke-width="0.8" />
<line x1="427.95" y1="267.78" x2="427.95" y2="276.75" stroke="#8fc95a" stroke-width="0.8" />
<line x1="426.15" y1="267.78" x2="429.75" y2="267.78" stroke="#8fc95a" stroke-width="0.8" />
<line x1="426.15" y1="276.75" x2="429.75" y2="276.75" stroke="#8fc95a" stroke-width="0.8" />
<line x1="433.47" y1="259.06" x2="433.47" y2="272.79" stroke="#8fc95a" stroke-width="0.8" />
<line x1="431.67" y1="259.06" x2="435.27" y2="259.06" stroke="#8fc95a" stroke-width="0.8" />
<line x1="431.67" y1="272.79" x2="435.27" y2="272.79" stroke="#8fc95a" stroke-width="0.8" />
<line x1="444.50" y1="252.20" x2="444.50" y2="272.26" stroke="#8fc95a" stroke-width="0.8" />
<line x1="442.70" y1="252.20" x2="446.30" y2="252.20" stroke="#8fc95a" stroke-width="0.8" />
<line x1="442.70" y1="272.26" x2="446.30" y2="272.26" stroke="#8fc95a" stroke-width="0.8" />
<line x1="461.05" y1="266.98" x2="461.05" y2="280.71" stroke="#8fc95a" stroke-width="0.8" />
<line x1="459.25" y1="266.98" x2="462.85" y2="266.98" stroke="#8fc95a" stroke-width="0.8" />
<line x1="459.25" y1="280.71" x2="462.85" y2="280.71" stroke="#8fc95a" stroke-width="0.8" />
<line x1="477.60" y1="272.53" x2="477.60" y2="289.42" stroke="#8fc95a" stroke-width="0.8" />
<line x1="475.80" y1="272.53" x2="479.40" y2="272.53" stroke="#8fc95a" stroke-width="0.8" />
<line x1="475.80" y1="289.42" x2="479.40" y2="289.42" stroke="#8fc95a" stroke-width="0.8" />
<line x1="494.15" y1="281.77" x2="494.15" y2="292.33" stroke="#8fc95a" stroke-width="0.8" />
<line x1="492.35" y1="281.77" x2="495.95" y2="281.77" stroke="#8fc95a" stroke-width="0.8" />
<line x1="492.35" y1="292.33" x2="495.95" y2="292.33" stroke="#8fc95a" stroke-width="0.8" />
<line x1="510.70" y1="291.01" x2="510.70" y2="296.29" stroke="#8fc95a" stroke-width="0.8" />
<line x1="508.90" y1="291.01" x2="512.50" y2="291.01" stroke="#8fc95a" stroke-width="0.8" />
<line x1="508.90" y1="296.29" x2="512.50" y2="296.29" stroke="#8fc95a" stroke-width="0.8" />
<line x1="527.25" y1="291.54" x2="527.25" y2="296.82" stroke="#8fc95a" stroke-width="0.8" />
<line x1="525.45" y1="291.54" x2="529.05" y2="291.54" stroke="#8fc95a" stroke-width="0.8" />
<line x1="525.45" y1="296.82" x2="529.05" y2="296.82" stroke="#8fc95a" stroke-width="0.8" />
<line x1="543.80" y1="293.91" x2="543.80" y2="299.19" stroke="#8fc95a" stroke-width="0.8" />
<line x1="542.00" y1="293.91" x2="545.60" y2="293.91" stroke="#8fc95a" stroke-width="0.8" />
<line x1="542.00" y1="299.19" x2="545.60" y2="299.19" stroke="#8fc95a" stroke-width="0.8" />
<polyline points="411.40,302.89 416.92,296.55 422.43,283.09 427.95,272.26 433.47,265.93 444.50,262.23 461.05,273.85 477.60,280.98 494.15,287.05 510.70,293.65 527.25,294.18 543.80,296.55" fill="none" stroke="#8fc95a" stroke-width="0.9"/>
<rect x="408.50" y="299.99" width="5.8" height="5.8" fill="#8fc95a" stroke="none" stroke-width="0"/>
<rect x="414.02" y="293.65" width="5.8" height="5.8" fill="#8fc95a" stroke="none" stroke-width="0"/>
<rect x="419.53" y="280.19" width="5.8" height="5.8" fill="#8fc95a" stroke="none" stroke-width="0"/>
<rect x="425.05" y="269.36" width="5.8" height="5.8" fill="#8fc95a" stroke="none" stroke-width="0"/>
<rect x="430.57" y="263.03" width="5.8" height="5.8" fill="#8fc95a" stroke="none" stroke-width="0"/>
<rect x="441.60" y="259.33" width="5.8" height="5.8" fill="#8fc95a" stroke="none" stroke-width="0"/>
<rect x="458.15" y="270.95" width="5.8" height="5.8" fill="#8fc95a" stroke="none" stroke-width="0"/>
<rect x="474.70" y="278.08" width="5.8" height="5.8" fill="#8fc95a" stroke="none" stroke-width="0"/>
<rect x="491.25" y="284.15" width="5.8" height="5.8" fill="#8fc95a" stroke="none" stroke-width="0"/>
<rect x="507.80" y="290.75" width="5.8" height="5.8" fill="#8fc95a" stroke="none" stroke-width="0"/>
<rect x="524.35" y="291.28" width="5.8" height="5.8" fill="#8fc95a" stroke="none" stroke-width="0"/>
<rect x="540.90" y="293.65" width="5.8" height="5.8" fill="#8fc95a" stroke="none" stroke-width="0"/>
<line x1="411.40" y1="303.68" x2="411.40" y2="306.32" stroke="#86a3ae" stroke-width="0.8" />
<line x1="409.60" y1="303.68" x2="413.20" y2="303.68" stroke="#86a3ae" stroke-width="0.8" />
<line x1="409.60" y1="306.32" x2="413.20" y2="306.32" stroke="#86a3ae" stroke-width="0.8" />
<line x1="416.92" y1="285.20" x2="416.92" y2="293.12" stroke="#86a3ae" stroke-width="0.8" />
<line x1="415.12" y1="285.20" x2="418.72" y2="285.20" stroke="#86a3ae" stroke-width="0.8" />
<line x1="415.12" y1="293.12" x2="418.72" y2="293.12" stroke="#86a3ae" stroke-width="0.8" />
<line x1="422.43" y1="271.21" x2="422.43" y2="280.71" stroke="#86a3ae" stroke-width="0.8" />
<line x1="420.63" y1="271.21" x2="424.23" y2="271.21" stroke="#86a3ae" stroke-width="0.8" />
<line x1="420.63" y1="280.71" x2="424.23" y2="280.71" stroke="#86a3ae" stroke-width="0.8" />
<line x1="427.95" y1="261.44" x2="427.95" y2="272.00" stroke="#86a3ae" stroke-width="0.8" />
<line x1="426.15" y1="261.44" x2="429.75" y2="261.44" stroke="#86a3ae" stroke-width="0.8" />
<line x1="426.15" y1="272.00" x2="429.75" y2="272.00" stroke="#86a3ae" stroke-width="0.8" />
<line x1="433.47" y1="262.50" x2="433.47" y2="272.00" stroke="#86a3ae" stroke-width="0.8" />
<line x1="431.67" y1="262.50" x2="435.27" y2="262.50" stroke="#86a3ae" stroke-width="0.8" />
<line x1="431.67" y1="272.00" x2="435.27" y2="272.00" stroke="#86a3ae" stroke-width="0.8" />
<line x1="444.50" y1="270.68" x2="444.50" y2="278.60" stroke="#86a3ae" stroke-width="0.8" />
<line x1="442.70" y1="270.68" x2="446.30" y2="270.68" stroke="#86a3ae" stroke-width="0.8" />
<line x1="442.70" y1="278.60" x2="446.30" y2="278.60" stroke="#86a3ae" stroke-width="0.8" />
<line x1="461.05" y1="281.24" x2="461.05" y2="286.52" stroke="#86a3ae" stroke-width="0.8" />
<line x1="459.25" y1="281.24" x2="462.85" y2="281.24" stroke="#86a3ae" stroke-width="0.8" />
<line x1="459.25" y1="286.52" x2="462.85" y2="286.52" stroke="#86a3ae" stroke-width="0.8" />
<line x1="477.60" y1="288.63" x2="477.60" y2="294.97" stroke="#86a3ae" stroke-width="0.8" />
<line x1="475.80" y1="288.63" x2="479.40" y2="288.63" stroke="#86a3ae" stroke-width="0.8" />
<line x1="475.80" y1="294.97" x2="479.40" y2="294.97" stroke="#86a3ae" stroke-width="0.8" />
<line x1="494.15" y1="294.18" x2="494.15" y2="297.34" stroke="#86a3ae" stroke-width="0.8" />
<line x1="492.35" y1="294.18" x2="495.95" y2="294.18" stroke="#86a3ae" stroke-width="0.8" />
<line x1="492.35" y1="297.34" x2="495.95" y2="297.34" stroke="#86a3ae" stroke-width="0.8" />
<line x1="510.70" y1="297.08" x2="510.70" y2="299.72" stroke="#86a3ae" stroke-width="0.8" />
<line x1="508.90" y1="297.08" x2="512.50" y2="297.08" stroke="#86a3ae" stroke-width="0.8" />
<line x1="508.90" y1="299.72" x2="512.50" y2="299.72" stroke="#86a3ae" stroke-width="0.8" />
<line x1="527.25" y1="298.40" x2="527.25" y2="301.04" stroke="#86a3ae" stroke-width="0.8" />
<line x1="525.45" y1="298.40" x2="529.05" y2="298.40" stroke="#86a3ae" stroke-width="0.8" />
<line x1="525.45" y1="301.04" x2="529.05" y2="301.04" stroke="#86a3ae" stroke-width="0.8" />
<line x1="543.80" y1="299.72" x2="543.80" y2="302.36" stroke="#86a3ae" stroke-width="0.8" />
<line x1="542.00" y1="299.72" x2="545.60" y2="299.72" stroke="#86a3ae" stroke-width="0.8" />
<line x1="542.00" y1="302.36" x2="545.60" y2="302.36" stroke="#86a3ae" stroke-width="0.8" />
<polyline points="411.40,305.00 416.92,289.16 422.43,275.96 427.95,266.72 433.47,267.25 444.50,274.64 461.05,283.88 477.60,291.80 494.15,295.76 510.70,298.40 527.25,299.72 543.80,301.04" fill="none" stroke="#86a3ae" stroke-width="0.9"/>
<circle cx="411.40" cy="305.00" r="2.5" fill="white" stroke="#86a3ae" stroke-width="0.8"/>
<circle cx="416.92" cy="289.16" r="2.5" fill="white" stroke="#86a3ae" stroke-width="0.8"/>
<circle cx="422.43" cy="275.96" r="2.5" fill="white" stroke="#86a3ae" stroke-width="0.8"/>
<circle cx="427.95" cy="266.72" r="2.5" fill="white" stroke="#86a3ae" stroke-width="0.8"/>
<circle cx="433.47" cy="267.25" r="2.5" fill="white" stroke="#86a3ae" stroke-width="0.8"/>
<circle cx="444.50" cy="274.64" r="2.5" fill="white" stroke="#86a3ae" stroke-width="0.8"/>
<circle cx="461.05" cy="283.88" r="2.5" fill="white" stroke="#86a3ae" stroke-width="0.8"/>
<circle cx="477.60" cy="291.80" r="2.5" fill="white" stroke="#86a3ae" stroke-width="0.8"/>
<circle cx="494.15" cy="295.76" r="2.5" fill="white" stroke="#86a3ae" stroke-width="0.8"/>
<circle cx="510.70" cy="298.40" r="2.5" fill="white" stroke="#86a3ae" stroke-width="0.8"/>
<circle cx="527.25" cy="299.72" r="2.5" fill="white" stroke="#86a3ae" stroke-width="0.8"/>
<circle cx="543.80" cy="301.04" r="2.5" fill="white" stroke="#86a3ae" stroke-width="0.8"/>
<line x1="411.40" y1="298.40" x2="411.40" y2="303.68" stroke="#9fd070" stroke-width="0.8" />
<line x1="409.60" y1="298.40" x2="413.20" y2="298.40" stroke="#9fd070" stroke-width="0.8" />
<line x1="409.60" y1="303.68" x2="413.20" y2="303.68" stroke="#9fd070" stroke-width="0.8" />
<line x1="416.92" y1="287.84" x2="416.92" y2="295.76" stroke="#9fd070" stroke-width="0.8" />
<line x1="415.12" y1="287.84" x2="418.72" y2="287.84" stroke="#9fd070" stroke-width="0.8" />
<line x1="415.12" y1="295.76" x2="418.72" y2="295.76" stroke="#9fd070" stroke-width="0.8" />
<line x1="422.43" y1="268.04" x2="422.43" y2="278.60" stroke="#9fd070" stroke-width="0.8" />
<line x1="420.63" y1="268.04" x2="424.23" y2="268.04" stroke="#9fd070" stroke-width="0.8" />
<line x1="420.63" y1="278.60" x2="424.23" y2="278.60" stroke="#9fd070" stroke-width="0.8" />
<line x1="427.95" y1="249.03" x2="427.95" y2="264.87" stroke="#9fd070" stroke-width="0.8" />
<line x1="426.15" y1="249.03" x2="429.75" y2="249.03" stroke="#9fd070" stroke-width="0.8" />
<line x1="426.15" y1="264.87" x2="429.75" y2="264.87" stroke="#9fd070" stroke-width="0.8" />
<line x1="433.47" y1="251.94" x2="433.47" y2="265.14" stroke="#9fd070" stroke-width="0.8" />
<line x1="431.67" y1="251.94" x2="435.27" y2="251.94" stroke="#9fd070" stroke-width="0.8" />
<line x1="431.67" y1="265.14" x2="435.27" y2="265.14" stroke="#9fd070" stroke-width="0.8" />
<line x1="444.50" y1="258.80" x2="444.50" y2="272.00" stroke="#9fd070" stroke-width="0.8" />
<line x1="442.70" y1="258.80" x2="446.30" y2="258.80" stroke="#9fd070" stroke-width="0.8" />
<line x1="442.70" y1="272.00" x2="446.30" y2="272.00" stroke="#9fd070" stroke-width="0.8" />
<line x1="461.05" y1="273.32" x2="461.05" y2="283.88" stroke="#9fd070" stroke-width="0.8" />
<line x1="459.25" y1="273.32" x2="462.85" y2="273.32" stroke="#9fd070" stroke-width="0.8" />
<line x1="459.25" y1="283.88" x2="462.85" y2="283.88" stroke="#9fd070" stroke-width="0.8" />
<line x1="477.60" y1="279.92" x2="477.60" y2="290.48" stroke="#9fd070" stroke-width="0.8" />
<line x1="475.80" y1="279.92" x2="479.40" y2="279.92" stroke="#9fd070" stroke-width="0.8" />
<line x1="475.80" y1="290.48" x2="479.40" y2="290.48" stroke="#9fd070" stroke-width="0.8" />
<line x1="494.15" y1="286.52" x2="494.15" y2="294.44" stroke="#9fd070" stroke-width="0.8" />
<line x1="492.35" y1="286.52" x2="495.95" y2="286.52" stroke="#9fd070" stroke-width="0.8" />
<line x1="492.35" y1="294.44" x2="495.95" y2="294.44" stroke="#9fd070" stroke-width="0.8" />
<line x1="510.70" y1="291.80" x2="510.70" y2="297.08" stroke="#9fd070" stroke-width="0.8" />
<line x1="508.90" y1="291.80" x2="512.50" y2="291.80" stroke="#9fd070" stroke-width="0.8" />
<line x1="508.90" y1="297.08" x2="512.50" y2="297.08" stroke="#9fd070" stroke-width="0.8" />
<line x1="527.25" y1="293.12" x2="527.25" y2="298.40" stroke="#9fd070" stroke-width="0.8" />
<line x1="525.45" y1="293.12" x2="529.05" y2="293.12" stroke="#9fd070" stroke-width="0.8" />
<line x1="525.45" y1="298.40" x2="529.05" y2="298.40" stroke="#9fd070" stroke-width="0.8" />
<line x1="543.80" y1="292.33" x2="543.80" y2="297.61" stroke="#9fd070" stroke-width="0.8" />
<line x1="542.00" y1="292.33" x2="545.60" y2="292.33" stroke="#9fd070" stroke-width="0.8" />
<line x1="542.00" y1="297.61" x2="545.60" y2="297.61" stroke="#9fd070" stroke-width="0.8" />
<polyline points="411.40,301.04 416.92,291.80 422.43,273.32 427.95,256.95 433.47,258.54 444.50,265.40 461.05,278.60 477.60,285.20 494.15,290.48 510.70,294.44 527.25,295.76 543.80,294.97" fill="none" stroke="#9fd070" stroke-width="0.9"/>
<rect x="408.90" y="298.54" width="5.0" height="5.0" fill="white" stroke="#9fd070" stroke-width="0.8"/>
<rect x="414.42" y="289.30" width="5.0" height="5.0" fill="white" stroke="#9fd070" stroke-width="0.8"/>
<rect x="419.93" y="270.82" width="5.0" height="5.0" fill="white" stroke="#9fd070" stroke-width="0.8"/>
<rect x="425.45" y="254.45" width="5.0" height="5.0" fill="white" stroke="#9fd070" stroke-width="0.8"/>
<rect x="430.97" y="256.04" width="5.0" height="5.0" fill="white" stroke="#9fd070" stroke-width="0.8"/>
<rect x="442.00" y="262.90" width="5.0" height="5.0" fill="white" stroke="#9fd070" stroke-width="0.8"/>
<rect x="458.55" y="276.10" width="5.0" height="5.0" fill="white" stroke="#9fd070" stroke-width="0.8"/>
<rect x="475.10" y="282.70" width="5.0" height="5.0" fill="white" stroke="#9fd070" stroke-width="0.8"/>
<rect x="491.65" y="287.98" width="5.0" height="5.0" fill="white" stroke="#9fd070" stroke-width="0.8"/>
<rect x="508.20" y="291.94" width="5.0" height="5.0" fill="white" stroke="#9fd070" stroke-width="0.8"/>
<rect x="524.75" y="293.26" width="5.0" height="5.0" fill="white" stroke="#9fd070" stroke-width="0.8"/>
<rect x="541.30" y="292.47" width="5.0" height="5.0" fill="white" stroke="#9fd070" stroke-width="0.8"/>
<line x1="438.70" y1="195.50" x2="453.30" y2="195.50" stroke="#a9bcc5" stroke-width="1.0" />
<circle cx="446.00" cy="195.50" r="2.7" fill="#7a97a4" stroke="none" stroke-width="0"/>
<text x="454.5" y="198.8" font-size="9.3" fill="#777"><tspan fill="#333">SD</tspan> Ctrl [n=4]</text>
<line x1="438.70" y1="210.00" x2="453.30" y2="210.00" stroke="#b0dc8a" stroke-width="1.0" />
<rect x="443.30" y="207.30" width="5.4" height="5.4" fill="#8fc95a" stroke="none" stroke-width="0"/>
<text x="454.5" y="213.3" font-size="9.3" fill="#777"><tspan fill="#333">HFD</tspan> Ctrl [n=4]</text>
<line x1="438.70" y1="223.70" x2="453.30" y2="223.70" stroke="#86a3ae" stroke-width="1.0" />
<circle cx="446.00" cy="223.70" r="2.43" fill="white" stroke="#86a3ae" stroke-width="0.8"/>
<text x="454.5" y="227.0" font-size="9.3" fill="#777"><tspan fill="#333">SD</tspan> <tspan font-weight="bold" fill="#333">D</tspan>T [n=3]</text>
<line x1="438.70" y1="238.10" x2="453.30" y2="238.10" stroke="#9fd070" stroke-width="1.0" />
<rect x="443.57" y="235.67" width="4.86" height="4.86" fill="white" stroke="#9fd070" stroke-width="0.8"/>
<text x="454.5" y="241.4" font-size="9.3" fill="#777"><tspan fill="#333">HFD</tspan> <tspan font-weight="bold" fill="#333">D</tspan>T [n=4]</text>
<line x1="597.70" y1="239.60" x2="597.70" y2="318.30" stroke="#555" stroke-width="0.9" />
<line x1="595.70" y1="318.30" x2="597.70" y2="318.30" stroke="#444" stroke-width="0.8" />
<text x="594.80" y="320.71" font-size="7.3" text-anchor="end" fill="#1a1a1a" >0</text>
<line x1="595.70" y1="302.56" x2="597.70" y2="302.56" stroke="#444" stroke-width="0.8" />
<text x="594.80" y="304.97" font-size="7.3" text-anchor="end" fill="#1a1a1a" >500</text>
<line x1="595.70" y1="286.82" x2="597.70" y2="286.82" stroke="#444" stroke-width="0.8" />
<text x="594.80" y="289.23" font-size="7.3" text-anchor="end" fill="#1a1a1a" >1000</text>
<line x1="595.70" y1="271.08" x2="597.70" y2="271.08" stroke="#444" stroke-width="0.8" />
<text x="594.80" y="273.49" font-size="7.3" text-anchor="end" fill="#1a1a1a" >1500</text>
<line x1="595.70" y1="255.34" x2="597.70" y2="255.34" stroke="#444" stroke-width="0.8" />
<text x="594.80" y="257.75" font-size="7.3" text-anchor="end" fill="#1a1a1a" >2000</text>
<line x1="595.70" y1="239.60" x2="597.70" y2="239.60" stroke="#444" stroke-width="0.8" />
<text x="594.80" y="242.01" font-size="7.3" text-anchor="end" fill="#1a1a1a" >2500</text>
<line x1="597.70" y1="318.30" x2="675.80" y2="318.30" stroke="#555" stroke-width="0.9" />
<rect x="603.7" y="277.4" width="12" height="40.9" fill="white" stroke="#a9bcc5" stroke-width="0.9"/>
<circle cx="608.20" cy="271.08" r="2.8" fill="#7a97a4" stroke="none" stroke-width="0"/>
<circle cx="612.20" cy="275.80" r="2.8" fill="#7a97a4" stroke="none" stroke-width="0"/>
<circle cx="607.20" cy="278.95" r="2.8" fill="#7a97a4" stroke="none" stroke-width="0"/>
<circle cx="611.20" cy="282.10" r="2.8" fill="#7a97a4" stroke="none" stroke-width="0"/>
<circle cx="609.70" cy="279.89" r="2.8" fill="#7a97a4" stroke="none" stroke-width="0"/>
<rect x="622.6" y="267.9" width="12" height="50.4" fill="white" stroke="#b5dc95" stroke-width="0.9"/>
<line x1="628.60" y1="267.93" x2="628.60" y2="253.14" stroke="#8fc95a" stroke-width="0.8" />
<line x1="626.60" y1="253.14" x2="630.60" y2="253.14" stroke="#8fc95a" stroke-width="0.8" />
<rect x="624.30" y="243.10" width="5.6" height="5.6" fill="#8fc95a" stroke="none" stroke-width="0"/>
<rect x="628.30" y="268.28" width="5.6" height="5.6" fill="#8fc95a" stroke="none" stroke-width="0"/>
<rect x="623.30" y="269.85" width="5.6" height="5.6" fill="#8fc95a" stroke="none" stroke-width="0"/>
<rect x="627.30" y="276.78" width="5.6" height="5.6" fill="#8fc95a" stroke="none" stroke-width="0"/>
<rect x="625.80" y="268.91" width="5.6" height="5.6" fill="#8fc95a" stroke="none" stroke-width="0"/>
<rect x="640.6" y="275.8" width="12" height="42.5" fill="white" stroke="#a9bcc5" stroke-width="0.9"/>
<line x1="646.60" y1="275.80" x2="646.60" y2="269.51" stroke="#86a3ae" stroke-width="0.8" />
<line x1="644.60" y1="269.51" x2="648.60" y2="269.51" stroke="#86a3ae" stroke-width="0.8" />
<circle cx="645.10" cy="269.51" r="2.4" fill="none" stroke="#86a3ae" stroke-width="0.8"/>
<circle cx="649.10" cy="282.10" r="2.4" fill="none" stroke="#86a3ae" stroke-width="0.8"/>
<circle cx="644.10" cy="276.43" r="2.4" fill="none" stroke="#86a3ae" stroke-width="0.8"/>
<rect x="658.6" y="266.4" width="12" height="51.9" fill="white" stroke="#b5dc95" stroke-width="0.9"/>
<line x1="664.60" y1="266.36" x2="664.60" y2="253.77" stroke="#9fd070" stroke-width="0.8" />
<line x1="662.60" y1="253.77" x2="666.60" y2="253.77" stroke="#9fd070" stroke-width="0.8" />
<rect x="660.70" y="246.64" width="4.8" height="4.8" fill="none" stroke="#9fd070" stroke-width="0.8"/>
<rect x="664.70" y="268.68" width="4.8" height="4.8" fill="none" stroke="#9fd070" stroke-width="0.8"/>
<rect x="659.70" y="273.40" width="4.8" height="4.8" fill="none" stroke="#9fd070" stroke-width="0.8"/>
<rect x="663.70" y="276.55" width="4.8" height="4.8" fill="none" stroke="#9fd070" stroke-width="0.8"/>
<line x1="609.70" y1="318.30" x2="609.70" y2="320.30" stroke="#555" stroke-width="0.8" />
<line x1="628.60" y1="318.30" x2="628.60" y2="320.30" stroke="#555" stroke-width="0.8" />
<line x1="646.60" y1="318.30" x2="646.60" y2="320.30" stroke="#555" stroke-width="0.8" />
<line x1="664.60" y1="318.30" x2="664.60" y2="320.30" stroke="#555" stroke-width="0.8" />
<text x="618.40" y="235.00" font-size="10.1" text-anchor="middle" fill="#333" >ns</text>
<text x="655.40" y="235.00" font-size="10.1" text-anchor="middle" fill="#333" >ns</text>
<line x1="609.00" y1="237.50" x2="627.80" y2="237.50" stroke="#444" stroke-width="0.9" />
<line x1="645.50" y1="237.50" x2="664.50" y2="237.50" stroke="#444" stroke-width="0.9" />
<text transform="translate(571.6,277) rotate(-90)" font-size="9.7" text-anchor="middle" fill="#999" textLength="88.9" lengthAdjust="spacingAndGlyphs"><tspan font-size="10.7" fill="#999">A</tspan>rbitrary <tspan font-weight="bold" fill="#444">U</tspan>nits <tspan font-size="6.0" fill="#888">[AuC]</tspan></text>
<text transform="translate(614.0,326.1) rotate(-45)" font-size="9" text-anchor="end" fill="#555">SD Ctrl</text>
<text transform="translate(632.9,326.1) rotate(-45)" font-size="9" text-anchor="end" fill="#555">HFD Ctrl</text>
<text transform="translate(650.9,326.1) rotate(-45)" font-size="9" text-anchor="end" fill="#555">SD <tspan font-weight="bold" fill="#222">D</tspan>T</text>
<text transform="translate(668.9,326.1) rotate(-45)" font-size="9" text-anchor="end" fill="#555">HFD <tspan font-weight="bold" fill="#222">D</tspan>T</text>
<text x="5.50" y="385.30" font-size="13" fill="#111" font-weight="bold" >e</text>
<text x="113.90" y="398.70" font-size="11.4" text-anchor="middle" fill="#333" >10WPA</text>
<text x="64.50" y="408.60" font-size="11.4" text-anchor="middle" fill="#333" >[HFD]</text>
<text x="161.30" y="408.60" font-size="11.3" text-anchor="middle" fill="#333" >[SD]</text>
<text x="114.50" y="430.40" font-size="10.5" text-anchor="middle" fill="#333" font-weight="bold" font-style="italic" >vs</text>
<circle cx="65.0" cy="416.7" r="3.27" fill="#d8adc7"/>
<circle cx="56.4" cy="421.6" r="3.27" fill="#d8adc7"/>
<circle cx="62.0" cy="421.3" r="3.27" fill="#d8adc7"/>
<circle cx="68.2" cy="421.3" r="3.27" fill="#d8adc7"/>
<circle cx="53.2" cy="426.6" r="3.27" fill="#d8adc7"/>
<circle cx="59.4" cy="426.3" r="3.27" fill="#d8adc7"/>
<circle cx="64.8" cy="425.8" r="3.27" fill="#d8adc7"/>
<circle cx="71.0" cy="425.2" r="3.27" fill="#d8adc7"/>
<circle cx="50.7" cy="430.5" r="3.27" fill="#d8adc7"/>
<circle cx="56.6" cy="431.3" r="3.15" fill="#d8adc7"/>
<circle cx="62.5" cy="431.0" r="3.27" fill="#d8adc7"/>
<circle cx="67.5" cy="430.3" r="3.27" fill="#d8adc7"/>
<circle cx="73.3" cy="429.7" r="3.45" fill="#d8adc7"/>
<circle cx="53.8" cy="435.3" r="3.15" fill="#d8adc7"/>
<circle cx="59.9" cy="435.6" r="3.27" fill="#d8adc7"/>
<circle cx="56.9" cy="439.2" r="3.27" fill="#d8adc7"/>
<circle cx="61.1" cy="413.7" r="2.60" fill="#d8adc7"/>
<circle cx="58.0" cy="416.3" r="2.97" fill="#d8adc7"/>
<circle cx="70.4" cy="415.8" r="2.85" fill="#d8adc7"/>
<circle cx="52.3" cy="419.9" r="2.97" fill="#d8adc7"/>
<circle cx="73.7" cy="419.2" r="2.85" fill="#d8adc7"/>
<circle cx="49.3" cy="425.0" r="2.85" fill="#d8adc7"/>
<circle cx="76.3" cy="424.9" r="2.85" fill="#d8adc7"/>
<circle cx="46.6" cy="428.6" r="2.85" fill="#d8adc7"/>
<circle cx="78.7" cy="429.1" r="2.85" fill="#d8adc7"/>
<circle cx="46.6" cy="434.0" r="2.85" fill="#d8adc7"/>
<circle cx="65.7" cy="436.2" r="3.03" fill="#d8adc7"/>
<circle cx="70.8" cy="434.3" r="2.85" fill="#d8adc7"/>
<circle cx="74.8" cy="434.9" r="2.85" fill="#d8adc7"/>
<circle cx="49.2" cy="437.7" r="2.85" fill="#d8adc7"/>
<circle cx="52.3" cy="441.0" r="2.85" fill="#d8adc7"/>
<circle cx="63.0" cy="440.7" r="2.85" fill="#d8adc7"/>
<circle cx="58.1" cy="445.0" r="2.66" fill="#d8adc7"/>
<circle cx="60.2" cy="418.2" r="2.97" fill="#d8adc7"/>
<circle cx="67.5" cy="417.6" r="2.97" fill="#d8adc7"/>
<circle cx="54.1" cy="423.7" r="2.97" fill="#d8adc7"/>
<circle cx="73.6" cy="422.5" r="2.97" fill="#d8adc7"/>
<circle cx="51.1" cy="434.0" r="2.97" fill="#d8adc7"/>
<circle cx="57.2" cy="429.2" r="2.97" fill="#d8adc7"/>
<circle cx="62.0" cy="429.2" r="2.97" fill="#d8adc7"/>
<circle cx="69.9" cy="428.0" r="2.97" fill="#d8adc7"/>
<circle cx="76.0" cy="431.0" r="2.97" fill="#d8adc7"/>
<circle cx="63.3" cy="434.0" r="2.97" fill="#d8adc7"/>
<circle cx="68.1" cy="433.4" r="2.97" fill="#d8adc7"/>
<circle cx="57.2" cy="436.5" r="2.97" fill="#d8adc7"/>
<circle cx="55.4" cy="442.5" r="2.97" fill="#d8adc7"/>
<circle cx="60.2" cy="439.5" r="2.97" fill="#d8adc7"/>
<circle cx="48.1" cy="431.0" r="2.97" fill="#d8adc7"/>
<circle cx="73.0" cy="432.8" r="2.66" fill="#d8adc7"/>
<circle cx="54.1" cy="417.6" r="2.66" fill="#d8adc7"/>
<circle cx="50.5" cy="423.1" r="2.66" fill="#d8adc7"/>
<circle cx="79.7" cy="431.0" r="2.36" fill="#d8adc7"/>
<circle cx="48.1" cy="435.9" r="2.48" fill="#d8adc7"/>
<circle cx="60.8" cy="443.8" r="2.66" fill="#d8adc7"/>
<circle cx="65.0" cy="416.7" r="3.04" fill="#ecc8dc"/>
<circle cx="56.4" cy="421.6" r="3.04" fill="#ecc8dc"/>
<circle cx="62.0" cy="421.3" r="3.04" fill="#ecc8dc"/>
<circle cx="68.2" cy="421.3" r="3.04" fill="#ecc8dc"/>
<circle cx="53.2" cy="426.6" r="3.04" fill="#ecc8dc"/>
<circle cx="59.4" cy="426.3" r="3.04" fill="#ecc8dc"/>
<circle cx="64.8" cy="425.8" r="3.04" fill="#ecc8dc"/>
<circle cx="71.0" cy="425.2" r="3.04" fill="#ecc8dc"/>
<circle cx="50.7" cy="430.5" r="3.04" fill="#ecc8dc"/>
<circle cx="56.6" cy="431.3" r="2.92" fill="#ecc8dc"/>
<circle cx="62.5" cy="431.0" r="3.04" fill="#ecc8dc"/>
<circle cx="67.5" cy="430.3" r="3.04" fill="#ecc8dc"/>
<circle cx="73.3" cy="429.7" r="3.22" fill="#ecc8dc"/>
<circle cx="53.8" cy="435.3" r="2.92" fill="#ecc8dc"/>
<circle cx="59.9" cy="435.6" r="3.04" fill="#ecc8dc"/>
<circle cx="56.9" cy="439.2" r="3.04" fill="#ecc8dc"/>
<circle cx="61.1" cy="413.7" r="2.37" fill="#ecc8dc"/>
<circle cx="58.0" cy="416.3" r="2.73" fill="#ecc8dc"/>
<circle cx="70.4" cy="415.8" r="2.61" fill="#ecc8dc"/>
<circle cx="52.3" cy="419.9" r="2.73" fill="#ecc8dc"/>
<circle cx="73.7" cy="419.2" r="2.61" fill="#ecc8dc"/>
<circle cx="49.3" cy="425.0" r="2.61" fill="#ecc8dc"/>
<circle cx="76.3" cy="424.9" r="2.61" fill="#ecc8dc"/>
<circle cx="46.6" cy="428.6" r="2.61" fill="#ecc8dc"/>
<circle cx="78.7" cy="429.1" r="2.61" fill="#ecc8dc"/>
<circle cx="46.6" cy="434.0" r="2.61" fill="#ecc8dc"/>
<circle cx="65.7" cy="436.2" r="2.79" fill="#ecc8dc"/>
<circle cx="70.8" cy="434.3" r="2.61" fill="#ecc8dc"/>
<circle cx="74.8" cy="434.9" r="2.61" fill="#ecc8dc"/>
<circle cx="49.2" cy="437.7" r="2.61" fill="#ecc8dc"/>
<circle cx="52.3" cy="441.0" r="2.61" fill="#ecc8dc"/>
<circle cx="63.0" cy="440.7" r="2.61" fill="#ecc8dc"/>
<circle cx="58.1" cy="445.0" r="2.43" fill="#ecc8dc"/>
<circle cx="60.2" cy="418.2" r="2.73" fill="#ecc8dc"/>
<circle cx="67.5" cy="417.6" r="2.73" fill="#ecc8dc"/>
<circle cx="54.1" cy="423.7" r="2.73" fill="#ecc8dc"/>
<circle cx="73.6" cy="422.5" r="2.73" fill="#ecc8dc"/>
<circle cx="51.1" cy="434.0" r="2.73" fill="#ecc8dc"/>
<circle cx="57.2" cy="429.2" r="2.73" fill="#ecc8dc"/>
<circle cx="62.0" cy="429.2" r="2.73" fill="#ecc8dc"/>
<circle cx="69.9" cy="428.0" r="2.73" fill="#ecc8dc"/>
<circle cx="76.0" cy="431.0" r="2.73" fill="#ecc8dc"/>
<circle cx="63.3" cy="434.0" r="2.73" fill="#ecc8dc"/>
<circle cx="68.1" cy="433.4" r="2.73" fill="#ecc8dc"/>
<circle cx="57.2" cy="436.5" r="2.73" fill="#ecc8dc"/>
<circle cx="55.4" cy="442.5" r="2.73" fill="#ecc8dc"/>
<circle cx="60.2" cy="439.5" r="2.73" fill="#ecc8dc"/>
<circle cx="48.1" cy="431.0" r="2.73" fill="#ecc8dc"/>
<circle cx="73.0" cy="432.8" r="2.43" fill="#ecc8dc"/>
<circle cx="54.1" cy="417.6" r="2.43" fill="#ecc8dc"/>
<circle cx="50.5" cy="423.1" r="2.43" fill="#ecc8dc"/>
<circle cx="79.7" cy="431.0" r="2.13" fill="#ecc8dc"/>
<circle cx="48.1" cy="435.9" r="2.25" fill="#ecc8dc"/>
<circle cx="60.8" cy="443.8" r="2.43" fill="#ecc8dc"/>
<circle cx="61.1" cy="413.7" r="1.46" fill="#b9f08e"/>
<circle cx="58.0" cy="416.3" r="1.82" fill="#b9f08e"/>
<circle cx="70.4" cy="415.8" r="1.70" fill="#b9f08e"/>
<circle cx="52.3" cy="419.9" r="1.82" fill="#b9f08e"/>
<circle cx="73.7" cy="419.2" r="1.70" fill="#b9f08e"/>
<circle cx="49.3" cy="425.0" r="1.70" fill="#b9f08e"/>
<circle cx="76.3" cy="424.9" r="1.70" fill="#b9f08e"/>
<circle cx="46.6" cy="428.6" r="1.70" fill="#b9f08e"/>
<circle cx="78.7" cy="429.1" r="1.70" fill="#b9f08e"/>
<circle cx="46.6" cy="434.0" r="1.70" fill="#b9f08e"/>
<circle cx="65.7" cy="436.2" r="1.88" fill="#b9f08e"/>
<circle cx="70.8" cy="434.3" r="1.70" fill="#b9f08e"/>
<circle cx="74.8" cy="434.9" r="1.70" fill="#b9f08e"/>
<circle cx="49.2" cy="437.7" r="1.70" fill="#b9f08e"/>
<circle cx="52.3" cy="441.0" r="1.70" fill="#b9f08e"/>
<circle cx="63.0" cy="440.7" r="1.70" fill="#b9f08e"/>
<circle cx="58.1" cy="445.0" r="1.52" fill="#b9f08e"/>
<circle cx="65.0" cy="416.7" r="3.21" fill="#b9a3bd"/>
<circle cx="56.4" cy="421.6" r="3.21" fill="#b9a3bd"/>
<circle cx="62.0" cy="421.3" r="3.21" fill="#b9a3bd"/>
<circle cx="68.2" cy="421.3" r="3.21" fill="#b9a3bd"/>
<circle cx="53.2" cy="426.6" r="3.21" fill="#b9a3bd"/>
<circle cx="59.4" cy="426.3" r="3.21" fill="#b9a3bd"/>
<circle cx="64.8" cy="425.8" r="3.21" fill="#b9a3bd"/>
<circle cx="71.0" cy="425.2" r="3.21" fill="#b9a3bd"/>
<circle cx="50.7" cy="430.5" r="3.21" fill="#b9a3bd"/>
<circle cx="56.6" cy="431.3" r="3.09" fill="#b9a3bd"/>
<circle cx="62.5" cy="431.0" r="3.21" fill="#b9a3bd"/>
<circle cx="67.5" cy="430.3" r="3.21" fill="#b9a3bd"/>
<circle cx="73.3" cy="429.7" r="3.39" fill="#b9a3bd"/>
<circle cx="53.8" cy="435.3" r="3.09" fill="#b9a3bd"/>
<circle cx="59.9" cy="435.6" r="3.21" fill="#b9a3bd"/>
<circle cx="56.9" cy="439.2" r="3.21" fill="#b9a3bd"/>
<circle cx="65.0" cy="416.7" r="2.54" fill="none" stroke="#bd88e4" stroke-width="0.83"/>
<circle cx="56.4" cy="421.6" r="2.54" fill="none" stroke="#bd88e4" stroke-width="0.83"/>
<circle cx="62.0" cy="421.3" r="2.54" fill="none" stroke="#bd88e4" stroke-width="0.83"/>
<circle cx="68.2" cy="421.3" r="2.54" fill="none" stroke="#bd88e4" stroke-width="0.83"/>
<circle cx="53.2" cy="426.6" r="2.54" fill="none" stroke="#bd88e4" stroke-width="0.83"/>
<circle cx="59.4" cy="426.3" r="2.54" fill="none" stroke="#bd88e4" stroke-width="0.83"/>
<circle cx="64.8" cy="425.8" r="2.54" fill="none" stroke="#bd88e4" stroke-width="0.83"/>
<circle cx="71.0" cy="425.2" r="2.54" fill="none" stroke="#bd88e4" stroke-width="0.83"/>
<circle cx="50.7" cy="430.5" r="2.54" fill="none" stroke="#bd88e4" stroke-width="0.83"/>
<circle cx="56.6" cy="431.3" r="2.42" fill="none" stroke="#bd88e4" stroke-width="0.83"/>
<circle cx="62.5" cy="431.0" r="2.54" fill="none" stroke="#bd88e4" stroke-width="0.83"/>
<circle cx="67.5" cy="430.3" r="2.54" fill="none" stroke="#bd88e4" stroke-width="0.83"/>
<circle cx="73.3" cy="429.7" r="2.72" fill="none" stroke="#bd88e4" stroke-width="0.83"/>
<circle cx="53.8" cy="435.3" r="2.42" fill="none" stroke="#bd88e4" stroke-width="0.83"/>
<circle cx="59.9" cy="435.6" r="2.54" fill="none" stroke="#bd88e4" stroke-width="0.83"/>
<circle cx="56.9" cy="439.2" r="2.54" fill="none" stroke="#bd88e4" stroke-width="0.83"/>
<circle cx="65.0" cy="416.7" r="2.15" fill="#b9f08e"/>
<circle cx="56.4" cy="421.6" r="2.15" fill="#b9f08e"/>
<circle cx="62.0" cy="421.3" r="2.15" fill="#b9f08e"/>
<circle cx="68.2" cy="421.3" r="2.15" fill="#b9f08e"/>
<circle cx="53.2" cy="426.6" r="2.15" fill="#b9f08e"/>
<circle cx="59.4" cy="426.3" r="2.15" fill="#b9f08e"/>
<circle cx="64.8" cy="425.8" r="2.15" fill="#b9f08e"/>
<circle cx="71.0" cy="425.2" r="2.15" fill="#b9f08e"/>
<circle cx="50.7" cy="430.5" r="2.15" fill="#b9f08e"/>
<circle cx="56.6" cy="431.3" r="2.03" fill="#b9f08e"/>
<circle cx="62.5" cy="431.0" r="2.15" fill="#b9f08e"/>
<circle cx="67.5" cy="430.3" r="2.15" fill="#b9f08e"/>
<circle cx="73.3" cy="429.7" r="2.33" fill="#b9f08e"/>
<circle cx="53.8" cy="435.3" r="2.03" fill="#b9f08e"/>
<circle cx="59.9" cy="435.6" r="2.15" fill="#b9f08e"/>
<circle cx="56.9" cy="439.2" r="2.15" fill="#b9f08e"/>
<circle cx="165.0" cy="416.7" r="3.27" fill="#c8d2bb"/>
<circle cx="156.4" cy="421.6" r="3.27" fill="#c8d2bb"/>
<circle cx="162.0" cy="421.3" r="3.27" fill="#c8d2bb"/>
<circle cx="168.2" cy="421.3" r="3.27" fill="#c8d2bb"/>
<circle cx="153.2" cy="426.6" r="3.27" fill="#c8d2bb"/>
<circle cx="159.4" cy="426.3" r="3.27" fill="#c8d2bb"/>
<circle cx="164.8" cy="425.8" r="3.27" fill="#c8d2bb"/>
<circle cx="171.0" cy="425.2" r="3.27" fill="#c8d2bb"/>
<circle cx="150.7" cy="430.5" r="3.27" fill="#c8d2bb"/>
<circle cx="156.6" cy="431.3" r="3.15" fill="#c8d2bb"/>
<circle cx="162.5" cy="431.0" r="3.27" fill="#c8d2bb"/>
<circle cx="167.5" cy="430.3" r="3.27" fill="#c8d2bb"/>
<circle cx="173.3" cy="429.7" r="3.45" fill="#c8d2bb"/>
<circle cx="153.8" cy="435.3" r="3.15" fill="#c8d2bb"/>
<circle cx="159.9" cy="435.6" r="3.27" fill="#c8d2bb"/>
<circle cx="156.9" cy="439.2" r="3.27" fill="#c8d2bb"/>
<circle cx="161.1" cy="413.7" r="2.60" fill="#c8d2bb"/>
<circle cx="158.0" cy="416.3" r="2.97" fill="#c8d2bb"/>
<circle cx="170.4" cy="415.8" r="2.85" fill="#c8d2bb"/>
<circle cx="152.3" cy="419.9" r="2.97" fill="#c8d2bb"/>
<circle cx="173.7" cy="419.2" r="2.85" fill="#c8d2bb"/>
<circle cx="149.3" cy="425.0" r="2.85" fill="#c8d2bb"/>
<circle cx="176.3" cy="424.9" r="2.85" fill="#c8d2bb"/>
<circle cx="146.6" cy="428.6" r="2.85" fill="#c8d2bb"/>
<circle cx="178.7" cy="429.1" r="2.85" fill="#c8d2bb"/>
<circle cx="146.6" cy="434.0" r="2.85" fill="#c8d2bb"/>
<circle cx="165.7" cy="436.2" r="3.03" fill="#c8d2bb"/>
<circle cx="170.8" cy="434.3" r="2.85" fill="#c8d2bb"/>
<circle cx="174.8" cy="434.9" r="2.85" fill="#c8d2bb"/>
<circle cx="149.2" cy="437.7" r="2.85" fill="#c8d2bb"/>
<circle cx="152.3" cy="441.0" r="2.85" fill="#c8d2bb"/>
<circle cx="163.0" cy="440.7" r="2.85" fill="#c8d2bb"/>
<circle cx="158.1" cy="445.0" r="2.66" fill="#c8d2bb"/>
<circle cx="160.2" cy="418.2" r="2.97" fill="#c8d2bb"/>
<circle cx="167.5" cy="417.6" r="2.97" fill="#c8d2bb"/>
<circle cx="154.1" cy="423.7" r="2.97" fill="#c8d2bb"/>
<circle cx="173.6" cy="422.5" r="2.97" fill="#c8d2bb"/>
<circle cx="151.1" cy="434.0" r="2.97" fill="#c8d2bb"/>
<circle cx="157.2" cy="429.2" r="2.97" fill="#c8d2bb"/>
<circle cx="162.0" cy="429.2" r="2.97" fill="#c8d2bb"/>
<circle cx="169.9" cy="428.0" r="2.97" fill="#c8d2bb"/>
<circle cx="176.0" cy="431.0" r="2.97" fill="#c8d2bb"/>
<circle cx="163.3" cy="434.0" r="2.97" fill="#c8d2bb"/>
<circle cx="168.1" cy="433.4" r="2.97" fill="#c8d2bb"/>
<circle cx="157.2" cy="436.5" r="2.97" fill="#c8d2bb"/>
<circle cx="155.4" cy="442.5" r="2.97" fill="#c8d2bb"/>
<circle cx="160.2" cy="439.5" r="2.97" fill="#c8d2bb"/>
<circle cx="148.1" cy="431.0" r="2.97" fill="#c8d2bb"/>
<circle cx="173.0" cy="432.8" r="2.66" fill="#c8d2bb"/>
<circle cx="154.1" cy="417.6" r="2.66" fill="#c8d2bb"/>
<circle cx="150.5" cy="423.1" r="2.66" fill="#c8d2bb"/>
<circle cx="179.7" cy="431.0" r="2.36" fill="#c8d2bb"/>
<circle cx="148.1" cy="435.9" r="2.48" fill="#c8d2bb"/>
<circle cx="160.8" cy="443.8" r="2.66" fill="#c8d2bb"/>
<circle cx="165.0" cy="416.7" r="3.04" fill="#e0e9d5"/>
<circle cx="156.4" cy="421.6" r="3.04" fill="#e0e9d5"/>
<circle cx="162.0" cy="421.3" r="3.04" fill="#e0e9d5"/>
<circle cx="168.2" cy="421.3" r="3.04" fill="#e0e9d5"/>
<circle cx="153.2" cy="426.6" r="3.04" fill="#e0e9d5"/>
<circle cx="159.4" cy="426.3" r="3.04" fill="#e0e9d5"/>
<circle cx="164.8" cy="425.8" r="3.04" fill="#e0e9d5"/>
<circle cx="171.0" cy="425.2" r="3.04" fill="#e0e9d5"/>
<circle cx="150.7" cy="430.5" r="3.04" fill="#e0e9d5"/>
<circle cx="156.6" cy="431.3" r="2.92" fill="#e0e9d5"/>
<circle cx="162.5" cy="431.0" r="3.04" fill="#e0e9d5"/>
<circle cx="167.5" cy="430.3" r="3.04" fill="#e0e9d5"/>
<circle cx="173.3" cy="429.7" r="3.22" fill="#e0e9d5"/>
<circle cx="153.8" cy="435.3" r="2.92" fill="#e0e9d5"/>
<circle cx="159.9" cy="435.6" r="3.04" fill="#e0e9d5"/>
<circle cx="156.9" cy="439.2" r="3.04" fill="#e0e9d5"/>
<circle cx="161.1" cy="413.7" r="2.37" fill="#e0e9d5"/>
<circle cx="158.0" cy="416.3" r="2.73" fill="#e0e9d5"/>
<circle cx="170.4" cy="415.8" r="2.61" fill="#e0e9d5"/>
<circle cx="152.3" cy="419.9" r="2.73" fill="#e0e9d5"/>
<circle cx="173.7" cy="419.2" r="2.61" fill="#e0e9d5"/>
<circle cx="149.3" cy="425.0" r="2.61" fill="#e0e9d5"/>
<circle cx="176.3" cy="424.9" r="2.61" fill="#e0e9d5"/>
<circle cx="146.6" cy="428.6" r="2.61" fill="#e0e9d5"/>
<circle cx="178.7" cy="429.1" r="2.61" fill="#e0e9d5"/>
<circle cx="146.6" cy="434.0" r="2.61" fill="#e0e9d5"/>
<circle cx="165.7" cy="436.2" r="2.79" fill="#e0e9d5"/>
<circle cx="170.8" cy="434.3" r="2.61" fill="#e0e9d5"/>
<circle cx="174.8" cy="434.9" r="2.61" fill="#e0e9d5"/>
<circle cx="149.2" cy="437.7" r="2.61" fill="#e0e9d5"/>
<circle cx="152.3" cy="441.0" r="2.61" fill="#e0e9d5"/>
<circle cx="163.0" cy="440.7" r="2.61" fill="#e0e9d5"/>
<circle cx="158.1" cy="445.0" r="2.43" fill="#e0e9d5"/>
<circle cx="160.2" cy="418.2" r="2.73" fill="#e0e9d5"/>
<circle cx="167.5" cy="417.6" r="2.73" fill="#e0e9d5"/>
<circle cx="154.1" cy="423.7" r="2.73" fill="#e0e9d5"/>
<circle cx="173.6" cy="422.5" r="2.73" fill="#e0e9d5"/>
<circle cx="151.1" cy="434.0" r="2.73" fill="#e0e9d5"/>
<circle cx="157.2" cy="429.2" r="2.73" fill="#e0e9d5"/>
<circle cx="162.0" cy="429.2" r="2.73" fill="#e0e9d5"/>
<circle cx="169.9" cy="428.0" r="2.73" fill="#e0e9d5"/>
<circle cx="176.0" cy="431.0" r="2.73" fill="#e0e9d5"/>
<circle cx="163.3" cy="434.0" r="2.73" fill="#e0e9d5"/>
<circle cx="168.1" cy="433.4" r="2.73" fill="#e0e9d5"/>
<circle cx="157.2" cy="436.5" r="2.73" fill="#e0e9d5"/>
<circle cx="155.4" cy="442.5" r="2.73" fill="#e0e9d5"/>
<circle cx="160.2" cy="439.5" r="2.73" fill="#e0e9d5"/>
<circle cx="148.1" cy="431.0" r="2.73" fill="#e0e9d5"/>
<circle cx="173.0" cy="432.8" r="2.43" fill="#e0e9d5"/>
<circle cx="154.1" cy="417.6" r="2.43" fill="#e0e9d5"/>
<circle cx="150.5" cy="423.1" r="2.43" fill="#e0e9d5"/>
<circle cx="179.7" cy="431.0" r="2.13" fill="#e0e9d5"/>
<circle cx="148.1" cy="435.9" r="2.25" fill="#e0e9d5"/>
<circle cx="160.8" cy="443.8" r="2.43" fill="#e0e9d5"/>
<circle cx="161.1" cy="413.7" r="1.46" fill="#a4cdd7"/>
<circle cx="158.0" cy="416.3" r="1.82" fill="#a4cdd7"/>
<circle cx="170.4" cy="415.8" r="1.70" fill="#a4cdd7"/>
<circle cx="152.3" cy="419.9" r="1.82" fill="#a4cdd7"/>
<circle cx="173.7" cy="419.2" r="1.70" fill="#a4cdd7"/>
<circle cx="149.3" cy="425.0" r="1.70" fill="#a4cdd7"/>
<circle cx="176.3" cy="424.9" r="1.70" fill="#a4cdd7"/>
<circle cx="146.6" cy="428.6" r="1.70" fill="#a4cdd7"/>
<circle cx="178.7" cy="429.1" r="1.70" fill="#a4cdd7"/>
<circle cx="146.6" cy="434.0" r="1.70" fill="#a4cdd7"/>
<circle cx="165.7" cy="436.2" r="1.88" fill="#a4cdd7"/>
<circle cx="170.8" cy="434.3" r="1.70" fill="#a4cdd7"/>
<circle cx="174.8" cy="434.9" r="1.70" fill="#a4cdd7"/>
<circle cx="149.2" cy="437.7" r="1.70" fill="#a4cdd7"/>
<circle cx="152.3" cy="441.0" r="1.70" fill="#a4cdd7"/>
<circle cx="163.0" cy="440.7" r="1.70" fill="#a4cdd7"/>
<circle cx="158.1" cy="445.0" r="1.52" fill="#a4cdd7"/>
<circle cx="165.0" cy="416.7" r="3.14" fill="#b9b2a6"/>
<circle cx="156.4" cy="421.6" r="3.14" fill="#b9b2a6"/>
<circle cx="162.0" cy="421.3" r="3.14" fill="#b9b2a6"/>
<circle cx="168.2" cy="421.3" r="3.14" fill="#b9b2a6"/>
<circle cx="153.2" cy="426.6" r="3.14" fill="#b9b2a6"/>
<circle cx="159.4" cy="426.3" r="3.14" fill="#b9b2a6"/>
<circle cx="164.8" cy="425.8" r="3.14" fill="#b9b2a6"/>
<circle cx="171.0" cy="425.2" r="3.14" fill="#b9b2a6"/>
<circle cx="150.7" cy="430.5" r="3.14" fill="#b9b2a6"/>
<circle cx="156.6" cy="431.3" r="3.02" fill="#b9b2a6"/>
<circle cx="162.5" cy="431.0" r="3.14" fill="#b9b2a6"/>
<circle cx="167.5" cy="430.3" r="3.14" fill="#b9b2a6"/>
<circle cx="173.3" cy="429.7" r="3.32" fill="#b9b2a6"/>
<circle cx="153.8" cy="435.3" r="3.02" fill="#b9b2a6"/>
<circle cx="159.9" cy="435.6" r="3.14" fill="#b9b2a6"/>
<circle cx="156.9" cy="439.2" r="3.14" fill="#b9b2a6"/>
<circle cx="165.0" cy="416.7" r="2.52" fill="none" stroke="#c8b7a5" stroke-width="0.78"/>
<circle cx="156.4" cy="421.6" r="2.52" fill="none" stroke="#c8b7a5" stroke-width="0.78"/>
<circle cx="162.0" cy="421.3" r="2.52" fill="none" stroke="#c8b7a5" stroke-width="0.78"/>
<circle cx="168.2" cy="421.3" r="2.52" fill="none" stroke="#c8b7a5" stroke-width="0.78"/>
<circle cx="153.2" cy="426.6" r="2.52" fill="none" stroke="#c8b7a5" stroke-width="0.78"/>
<circle cx="159.4" cy="426.3" r="2.52" fill="none" stroke="#c8b7a5" stroke-width="0.78"/>
<circle cx="164.8" cy="425.8" r="2.52" fill="none" stroke="#c8b7a5" stroke-width="0.78"/>
<circle cx="171.0" cy="425.2" r="2.52" fill="none" stroke="#c8b7a5" stroke-width="0.78"/>
<circle cx="150.7" cy="430.5" r="2.52" fill="none" stroke="#c8b7a5" stroke-width="0.78"/>
<circle cx="156.6" cy="431.3" r="2.39" fill="none" stroke="#c8b7a5" stroke-width="0.78"/>
<circle cx="162.5" cy="431.0" r="2.52" fill="none" stroke="#c8b7a5" stroke-width="0.78"/>
<circle cx="167.5" cy="430.3" r="2.52" fill="none" stroke="#c8b7a5" stroke-width="0.78"/>
<circle cx="173.3" cy="429.7" r="2.70" fill="none" stroke="#c8b7a5" stroke-width="0.78"/>
<circle cx="153.8" cy="435.3" r="2.39" fill="none" stroke="#c8b7a5" stroke-width="0.78"/>
<circle cx="159.9" cy="435.6" r="2.52" fill="none" stroke="#c8b7a5" stroke-width="0.78"/>
<circle cx="156.9" cy="439.2" r="2.52" fill="none" stroke="#c8b7a5" stroke-width="0.78"/>
<circle cx="165.0" cy="416.7" r="2.15" fill="#a4cdd7"/>
<circle cx="156.4" cy="421.6" r="2.15" fill="#a4cdd7"/>
<circle cx="162.0" cy="421.3" r="2.15" fill="#a4cdd7"/>
<circle cx="168.2" cy="421.3" r="2.15" fill="#a4cdd7"/>
<circle cx="153.2" cy="426.6" r="2.15" fill="#a4cdd7"/>
<circle cx="159.4" cy="426.3" r="2.15" fill="#a4cdd7"/>
<circle cx="164.8" cy="425.8" r="2.15" fill="#a4cdd7"/>
<circle cx="171.0" cy="425.2" r="2.15" fill="#a4cdd7"/>
<circle cx="150.7" cy="430.5" r="2.15" fill="#a4cdd7"/>
<circle cx="156.6" cy="431.3" r="2.03" fill="#a4cdd7"/>
<circle cx="162.5" cy="431.0" r="2.15" fill="#a4cdd7"/>
<circle cx="167.5" cy="430.3" r="2.15" fill="#a4cdd7"/>
<circle cx="173.3" cy="429.7" r="2.33" fill="#a4cdd7"/>
<circle cx="153.8" cy="435.3" r="2.03" fill="#a4cdd7"/>
<circle cx="159.9" cy="435.6" r="2.15" fill="#a4cdd7"/>
<circle cx="156.9" cy="439.2" r="2.15" fill="#a4cdd7"/>
<text x="80.90" y="447.60" font-size="11.7" text-anchor="middle" fill="#8b682c" font-weight="bold" >50%</text>
<text x="180.70" y="447.60" font-size="11.3" text-anchor="middle" fill="#8b682c" font-weight="bold" >50%</text>
<text x="31.7" y="475" font-size="9.3" fill="#a39c72"><tspan fill="#6b6436">Cell Cycle Signaling</tspan> with Predicted Activity Pattern</text>
<text x="31.70" y="483.80" font-size="6.9" fill="#b8a560" >[z ≤ -2 &amp; z≥ 2]</text>
<text x="204.60" y="488.70" font-size="6.9" text-anchor="middle" fill="#333" >-log[p-value]</text>
<line x1="135.70" y1="499.50" x2="250.56" y2="499.50" stroke="#777" stroke-width="0.7" />
<text x="135.70" y="497.90" font-size="6.2" text-anchor="middle" fill="#222" >0</text>
<text x="147.79" y="497.90" font-size="6.2" text-anchor="middle" fill="#222" >1</text>
<text x="159.88" y="497.90" font-size="6.2" text-anchor="middle" fill="#222" >2</text>
<text x="171.97" y="497.90" font-size="6.2" text-anchor="middle" fill="#222" >3</text>
<text x="184.06" y="497.90" font-size="6.2" text-anchor="middle" fill="#222" >4</text>
<text x="196.15" y="497.90" font-size="6.2" text-anchor="middle" fill="#222" >5</text>
<text x="208.24" y="497.90" font-size="6.2" text-anchor="middle" fill="#222" >6</text>
<text x="220.33" y="497.90" font-size="6.2" text-anchor="middle" fill="#222" >7</text>
<text x="232.42" y="497.90" font-size="6.2" text-anchor="middle" fill="#222" >8</text>
<text x="244.51" y="497.90" font-size="6.2" text-anchor="middle" fill="#222" >9</text>
<text x="256.60" y="497.90" font-size="6.2" text-anchor="middle" fill="#222" >10</text>
<text x="268.69" y="497.90" font-size="6.2" text-anchor="middle" fill="#222" >11</text>
<text x="280.78" y="497.90" font-size="6.2" text-anchor="middle" fill="#222" >12</text>
<text x="292.87" y="497.90" font-size="6.2" text-anchor="middle" fill="#222" >13</text>
<line x1="151.42" y1="499.00" x2="151.42" y2="607.00" stroke="#f2a6ea" stroke-width="0.8" />
<text x="132.20" y="507.80" font-size="8.1" text-anchor="end" fill="#3a3a3a" >Cell Cycle Checkpoints</text>
<rect x="135.7" y="502.4" width="157.2" height="5" rx="2.5" fill="#e27a26"/>
<text x="295.47" y="507.40" font-size="6.9" fill="#444" >z= 9.542</text>
<text x="132.20" y="517.40" font-size="8.1" text-anchor="end" fill="#3a3a3a" >Mitotic Prometaphase</text>
<rect x="135.7" y="512.0" width="148.0" height="5" rx="2.5" fill="#e3832f"/>
<text x="286.28" y="517.00" font-size="6.9" fill="#444" >z= 8.259</text>
<text x="132.20" y="526.50" font-size="8.1" text-anchor="end" fill="#3a3a3a" >Activation of pre-replicative complex</text>
<rect x="135.7" y="521.1" width="141.5" height="5" rx="2.5" fill="#ebac76"/>
<text x="279.75" y="526.10" font-size="6.9" fill="#444" >z= 4.899</text>
<text x="132.20" y="535.80" font-size="8.1" text-anchor="end" fill="#3a3a3a" >Mitotic Metaphase and Anaphase</text>
<rect x="135.7" y="530.4" width="87.0" height="5" rx="2.5" fill="#e3832f"/>
<text x="225.35" y="535.40" font-size="6.9" fill="#444" >z= 8.014</text>
<text x="132.20" y="545.50" font-size="8.1" text-anchor="end" fill="#3a3a3a" >Mitotic G1 phase and G1/S transition</text>
<rect x="135.7" y="540.1" width="60.5" height="5" rx="2.5" fill="#eaa46e"/>
<text x="198.75" y="545.10" font-size="6.9" fill="#444" >z= 5.191</text>
<text x="132.20" y="555.50" font-size="8.1" text-anchor="end" fill="#3a3a3a" >Telomere Maintenance</text>
<rect x="135.7" y="550.1" width="57.4" height="5" rx="2.5" fill="#eaa46e"/>
<text x="195.73" y="555.10" font-size="6.9" fill="#444" >z= 5.196</text>
<text x="132.20" y="565.10" font-size="8.1" text-anchor="end" fill="#3a3a3a" >Mitotic Prophase</text>
<rect x="135.7" y="559.7" width="36.3" height="5" rx="2.5" fill="#edb88c"/>
<text x="174.57" y="564.70" font-size="6.9" fill="#444" >z= 4.017</text>
<text x="132.20" y="575.00" font-size="8.1" text-anchor="end" fill="#3a3a3a" >Mitotic G2-G2/M phases</text>
<rect x="135.7" y="569.6" width="34.5" height="5" rx="2.5" fill="#e69248"/>
<text x="172.76" y="574.60" font-size="6.9" fill="#444" >z= 6.505</text>
<text x="132.20" y="584.90" font-size="8.1" text-anchor="end" fill="#3a3a3a" >Mitotic Telophase/Cytokinesis</text>
<rect x="135.7" y="579.5" width="25.8" height="5" rx="2.5" fill="#f4dfca"/>
<text x="164.05" y="584.50" font-size="6.9" fill="#444" >z= 2.236</text>
<text x="132.20" y="595.10" font-size="8.1" text-anchor="end" fill="#3a3a3a" >Nucleosome assembly</text>
<rect x="135.7" y="589.7" width="19.1" height="5" rx="2.5" fill="#eec4a0"/>
<text x="157.40" y="594.70" font-size="6.9" fill="#444" >z= 3.742</text>
<text x="132.20" y="605.40" font-size="8.1" text-anchor="end" fill="#3a3a3a" >Regulation of mitotic cell cycle</text>
<rect x="135.7" y="600.0" width="18.1" height="5" rx="2.5" fill="#ebad7a"/>
<text x="156.43" y="605.00" font-size="6.9" fill="#444" >z= 4.690</text>
<path d="M239.1,586.6 L243.2,594.9 L235,594.9 Z" fill="#e07a2a"/>
<path d="M239.1,597.8 L243.2,606 L235,606 Z" fill="#1a1ad8"/>
<text x="246.60" y="594.40" font-size="7.9" fill="#222" >activated</text>
<text x="246.60" y="605.30" font-size="7.9" fill="#222" >Inhibited</text>
<text x="342.80" y="385.50" font-size="13" fill="#111" font-weight="bold" >f</text>
<rect x="346.8" y="396.1" width="51.2" height="17.6" rx="2.5" fill="#2e2e2e"/>
<text x="372.4" y="408.3" font-size="8.9" text-anchor="middle" fill="#fff"><tspan font-weight="bold">10</tspan>WPA</text>
<rect x="346" y="436.8" width="216.39999999999998" height="149.40000000000003" fill="white" stroke="#666" stroke-width="0.7"/>
<text x="454.20" y="431.20" font-size="4.6" text-anchor="middle" fill="#222" >Volcano Plot</text>
<line x1="346.00" y1="582.10" x2="562.40" y2="582.10" stroke="#d8d8d8" stroke-width="1.5" />
<clipPath id="vcf"><rect x="346" y="436.8" width="216.39999999999998" height="149.40000000000003"/></clipPath>
<g clip-path="url(#vcf)"><use href="#vpts" transform="translate(442.4,581.8)"/></g>
<line x1="355.10" y1="586.20" x2="355.10" y2="588.60" stroke="#444" stroke-width="0.5" />
<line x1="363.83" y1="586.20" x2="363.83" y2="587.60" stroke="#444" stroke-width="0.5" />
<line x1="372.56" y1="586.20" x2="372.56" y2="587.60" stroke="#444" stroke-width="0.5" />
<line x1="381.29" y1="586.20" x2="381.29" y2="587.60" stroke="#444" stroke-width="0.5" />
<line x1="390.02" y1="586.20" x2="390.02" y2="587.60" stroke="#444" stroke-width="0.5" />
<line x1="398.75" y1="586.20" x2="398.75" y2="588.60" stroke="#444" stroke-width="0.5" />
<line x1="407.48" y1="586.20" x2="407.48" y2="587.60" stroke="#444" stroke-width="0.5" />
<line x1="416.21" y1="586.20" x2="416.21" y2="587.60" stroke="#444" stroke-width="0.5" />
<line x1="424.94" y1="586.20" x2="424.94" y2="587.60" stroke="#444" stroke-width="0.5" />
<line x1="433.67" y1="586.20" x2="433.67" y2="587.60" stroke="#444" stroke-width="0.5" />
<line x1="442.40" y1="586.20" x2="442.40" y2="588.60" stroke="#444" stroke-width="0.5" />
<line x1="451.13" y1="586.20" x2="451.13" y2="587.60" stroke="#444" stroke-width="0.5" />
<line x1="459.86" y1="586.20" x2="459.86" y2="587.60" stroke="#444" stroke-width="0.5" />
<line x1="468.59" y1="586.20" x2="468.59" y2="587.60" stroke="#444" stroke-width="0.5" />
<line x1="477.32" y1="586.20" x2="477.32" y2="587.60" stroke="#444" stroke-width="0.5" />
<line x1="486.05" y1="586.20" x2="486.05" y2="588.60" stroke="#444" stroke-width="0.5" />
<line x1="494.78" y1="586.20" x2="494.78" y2="587.60" stroke="#444" stroke-width="0.5" />
<line x1="503.51" y1="586.20" x2="503.51" y2="587.60" stroke="#444" stroke-width="0.5" />
<line x1="512.24" y1="586.20" x2="512.24" y2="587.60" stroke="#444" stroke-width="0.5" />
<line x1="520.97" y1="586.20" x2="520.97" y2="587.60" stroke="#444" stroke-width="0.5" />
<line x1="529.70" y1="586.20" x2="529.70" y2="588.60" stroke="#444" stroke-width="0.5" />
<line x1="538.43" y1="586.20" x2="538.43" y2="587.60" stroke="#444" stroke-width="0.5" />
<line x1="547.16" y1="586.20" x2="547.16" y2="587.60" stroke="#444" stroke-width="0.5" />
<line x1="555.89" y1="586.20" x2="555.89" y2="587.60" stroke="#444" stroke-width="0.5" />
<text x="355.10" y="593.50" font-size="4.6" text-anchor="middle" fill="#222" >-10</text>
<text x="398.75" y="593.50" font-size="4.6" text-anchor="middle" fill="#222" >-5</text>
<text x="442.40" y="593.50" font-size="4.6" text-anchor="middle" fill="#222" >0</text>
<text x="486.05" y="593.50" font-size="4.6" text-anchor="middle" fill="#222" >5</text>
<text x="529.70" y="593.50" font-size="4.6" text-anchor="middle" fill="#222" >10</text>
<line x1="343.60" y1="581.80" x2="346.00" y2="581.80" stroke="#444" stroke-width="0.5" />
<line x1="344.60" y1="577.40" x2="346.00" y2="577.40" stroke="#444" stroke-width="0.5" />
<line x1="344.60" y1="573.00" x2="346.00" y2="573.00" stroke="#444" stroke-width="0.5" />
<line x1="344.60" y1="568.60" x2="346.00" y2="568.60" stroke="#444" stroke-width="0.5" />
<line x1="343.60" y1="564.20" x2="346.00" y2="564.20" stroke="#444" stroke-width="0.5" />
<line x1="344.60" y1="559.80" x2="346.00" y2="559.80" stroke="#444" stroke-width="0.5" />
<line x1="344.60" y1="555.40" x2="346.00" y2="555.40" stroke="#444" stroke-width="0.5" />
<line x1="344.60" y1="551.00" x2="346.00" y2="551.00" stroke="#444" stroke-width="0.5" />
<line x1="343.60" y1="546.60" x2="346.00" y2="546.60" stroke="#444" stroke-width="0.5" />
<line x1="344.60" y1="542.20" x2="346.00" y2="542.20" stroke="#444" stroke-width="0.5" />
<line x1="344.60" y1="537.80" x2="346.00" y2="537.80" stroke="#444" stroke-width="0.5" />
<line x1="344.60" y1="533.40" x2="346.00" y2="533.40" stroke="#444" stroke-width="0.5" />
<line x1="343.60" y1="529.00" x2="346.00" y2="529.00" stroke="#444" stroke-width="0.5" />
<line x1="344.60" y1="524.60" x2="346.00" y2="524.60" stroke="#444" stroke-width="0.5" />
<line x1="344.60" y1="520.20" x2="346.00" y2="520.20" stroke="#444" stroke-width="0.5" />
<line x1="344.60" y1="515.80" x2="346.00" y2="515.80" stroke="#444" stroke-width="0.5" />
<line x1="343.60" y1="511.40" x2="346.00" y2="511.40" stroke="#444" stroke-width="0.5" />
<line x1="344.60" y1="507.00" x2="346.00" y2="507.00" stroke="#444" stroke-width="0.5" />
<line x1="344.60" y1="502.60" x2="346.00" y2="502.60" stroke="#444" stroke-width="0.5" />
<line x1="344.60" y1="498.20" x2="346.00" y2="498.20" stroke="#444" stroke-width="0.5" />
<line x1="343.60" y1="493.80" x2="346.00" y2="493.80" stroke="#444" stroke-width="0.5" />
<line x1="344.60" y1="489.40" x2="346.00" y2="489.40" stroke="#444" stroke-width="0.5" />
<line x1="344.60" y1="485.00" x2="346.00" y2="485.00" stroke="#444" stroke-width="0.5" />
<line x1="344.60" y1="480.60" x2="346.00" y2="480.60" stroke="#444" stroke-width="0.5" />
<line x1="343.60" y1="476.20" x2="346.00" y2="476.20" stroke="#444" stroke-width="0.5" />
<line x1="344.60" y1="471.80" x2="346.00" y2="471.80" stroke="#444" stroke-width="0.5" />
<line x1="344.60" y1="467.40" x2="346.00" y2="467.40" stroke="#444" stroke-width="0.5" />
<line x1="344.60" y1="463.00" x2="346.00" y2="463.00" stroke="#444" stroke-width="0.5" />
<line x1="343.60" y1="458.60" x2="346.00" y2="458.60" stroke="#444" stroke-width="0.5" />
<line x1="344.60" y1="454.20" x2="346.00" y2="454.20" stroke="#444" stroke-width="0.5" />
<line x1="344.60" y1="449.80" x2="346.00" y2="449.80" stroke="#444" stroke-width="0.5" />
<line x1="344.60" y1="445.40" x2="346.00" y2="445.40" stroke="#444" stroke-width="0.5" />
<line x1="343.60" y1="441.00" x2="346.00" y2="441.00" stroke="#444" stroke-width="0.5" />
<text x="342.40" y="583.40" font-size="4.6" text-anchor="end" fill="#222" >0</text>
<text x="342.40" y="565.80" font-size="4.6" text-anchor="end" fill="#222" >2</text>
<text x="342.40" y="548.20" font-size="4.6" text-anchor="end" fill="#222" >4</text>
<text x="342.40" y="530.60" font-size="4.6" text-anchor="end" fill="#222" >6</text>
<text x="342.40" y="513.00" font-size="4.6" text-anchor="end" fill="#222" >8</text>
<text x="342.40" y="495.40" font-size="4.6" text-anchor="end" fill="#222" >10</text>
<text x="342.40" y="477.80" font-size="4.6" text-anchor="end" fill="#222" >12</text>
<text x="342.40" y="460.20" font-size="4.6" text-anchor="end" fill="#222" >14</text>
<text x="342.40" y="442.60" font-size="4.6" text-anchor="end" fill="#222" >16</text>
<text x="454.20" y="600.00" font-size="4.6" text-anchor="middle" fill="#222" >log2 fold change</text>
<text transform="translate(329.5,512.0) rotate(-90)" font-size="4.7" text-anchor="middle" fill="#222">-log10 P-value</text>
<circle cx="468.8" cy="515.2" r="1.7" fill="#000"/>
<text x="471.82" y="520.18" font-size="4.6" fill="#111" >Mki67</text>
<circle cx="460.6" cy="541.8" r="1.7" fill="#000"/>
<circle cx="459.5" cy="544.7" r="1.7" fill="#000"/>
<text x="462.47" y="547.23" font-size="4.6" fill="#111" >Foxm1</text>
<circle cx="453.3" cy="547.3" r="1.7" fill="#000"/>
<text x="440.28" y="551.80" font-size="4.6" fill="#111" >Pcna</text>
<circle cx="450.4" cy="556.4" r="1.7" fill="#000"/>
<circle cx="462.0" cy="556.1" r="1.7" fill="#000"/>
<text x="464.54" y="560.56" font-size="4.6" fill="#111" >Cdkn3</text>
<circle cx="448.6" cy="570.3" r="1.7" fill="#000"/>
<circle cx="454.5" cy="569.3" r="1.7" fill="#000"/>
<text x="457.95" y="573.76" font-size="4.6" fill="#111" >Cdkn2a</text>
<text x="463.60" y="550.80" font-size="4.6" fill="#111" >Aurka</text>
<text x="453.50" y="562.20" font-size="4.6" fill="#111" >Tp53</text>
<text x="438.40" y="576.50" font-size="4.6" fill="#111" >Myc</text>
<line x1="587.40" y1="439.70" x2="587.40" y2="572.30" stroke="#555" stroke-width="1.0" />
<line x1="587.40" y1="572.30" x2="684.00" y2="572.30" stroke="#555" stroke-width="1.0" />
<line x1="585.40" y1="555.78" x2="587.40" y2="555.78" stroke="#555" stroke-width="0.8" />
<text x="584.40" y="558.78" font-size="8.3" text-anchor="end" fill="#111" >2</text>
<line x1="585.40" y1="522.26" x2="587.40" y2="522.26" stroke="#555" stroke-width="0.8" />
<text x="584.40" y="525.26" font-size="8.3" text-anchor="end" fill="#111" >4</text>
<line x1="585.40" y1="488.74" x2="587.40" y2="488.74" stroke="#555" stroke-width="0.8" />
<text x="584.40" y="491.74" font-size="8.3" text-anchor="end" fill="#111" >6</text>
<line x1="585.40" y1="455.22" x2="587.40" y2="455.22" stroke="#555" stroke-width="0.8" />
<text x="584.40" y="458.22" font-size="8.3" text-anchor="end" fill="#111" >8</text>
<line x1="597.20" y1="572.30" x2="597.20" y2="574.30" stroke="#555" stroke-width="0.8" />
<circle cx="597.2" cy="449.4" r="3.4" fill="#f23cf2" stroke="#4a2a4a" stroke-width="0.45"/>
<text x="597.20" y="444.05" font-size="3.7" text-anchor="middle" fill="#888" >[3.17E-08]</text>
<text transform="translate(600.1,577.4) rotate(-90)" font-size="8" text-anchor="end" fill="#222">Mki67</text>
<line x1="612.30" y1="572.30" x2="612.30" y2="574.30" stroke="#555" stroke-width="0.8" />
<circle cx="612.3" cy="514.7" r="3.4" fill="#f23cf2" stroke="#4a2a4a" stroke-width="0.45"/>
<text x="612.30" y="509.42" font-size="3.7" text-anchor="middle" fill="#888" >[1.20E-05]</text>
<text transform="translate(615.2,577.4) rotate(-90)" font-size="8" text-anchor="end" fill="#222">Foxm1</text>
<line x1="628.00" y1="572.30" x2="628.00" y2="574.30" stroke="#555" stroke-width="0.8" />
<circle cx="628" cy="522.6" r="3.4" fill="#f23cf2" stroke="#4a2a4a" stroke-width="0.45"/>
<text x="628.00" y="517.30" font-size="3.7" text-anchor="middle" fill="#888" >[6.71E-05]</text>
<text transform="translate(630.9,577.4) rotate(-90)" font-size="8" text-anchor="end" fill="#222">Aurka</text>
<line x1="643.00" y1="572.30" x2="643.00" y2="574.30" stroke="#555" stroke-width="0.8" />
<circle cx="643" cy="548.7" r="3.4" fill="#f23cf2" stroke="#4a2a4a" stroke-width="0.45"/>
<text x="643.00" y="543.44" font-size="3.7" text-anchor="middle" fill="#888" >[1.17E-04]</text>
<text transform="translate(645.9,577.4) rotate(-90)" font-size="8" text-anchor="end" fill="#222">Pcna</text>
<line x1="658.30" y1="572.30" x2="658.30" y2="574.30" stroke="#555" stroke-width="0.8" />
<circle cx="658.3" cy="557.3" r="3.4" fill="#f23cf2" stroke="#4a2a4a" stroke-width="0.45"/>
<text x="658.30" y="551.99" font-size="3.7" text-anchor="middle" fill="#888" >[8.77E-04]</text>
<text transform="translate(661.2,577.4) rotate(-90)" font-size="8" text-anchor="end" fill="#222">TP53</text>
<line x1="673.80" y1="572.30" x2="673.80" y2="574.30" stroke="#555" stroke-width="0.8" />
<circle cx="673.8" cy="561.3" r="3.4" fill="#f23cf2" stroke="#4a2a4a" stroke-width="0.45"/>
<text x="673.80" y="556.01" font-size="3.7" text-anchor="middle" fill="#888" >[0.048]</text>
<text transform="translate(676.7,577.4) rotate(-90)" font-size="8" text-anchor="end" fill="#222">Myc</text>
<text transform="translate(575.7,506.4) rotate(-90)" font-size="10.6" text-anchor="middle" fill="#999" textLength="121.2" lengthAdjust="spacingAndGlyphs"><tspan font-size="11.6">F</tspan>old <tspan font-size="11.6" fill="#444" font-weight="bold">C</tspan>hange <tspan font-size="6.9" fill="#aaa">[FC ≥ 1.5; p&lt; 0.05]</tspan></text>
<text x="74.50" y="653.50" font-size="13" fill="#111" font-weight="bold" >g</text>
<rect x="94.8" y="646.7" width="50.5" height="16.8" rx="2.5" fill="#2e2e2e"/>
<text x="120.0" y="658.5" font-size="8.9" text-anchor="middle" fill="#fff"><tspan font-weight="bold">10</tspan>WPA</text>
<rect x="97.4" y="682.4" width="216.6" height="149.5" fill="white" stroke="#666" stroke-width="0.7"/>
<text x="205.70" y="676.80" font-size="4.6" text-anchor="middle" fill="#222" >Volcano Plot</text>
<line x1="97.40" y1="828.30" x2="314.00" y2="828.30" stroke="#d8d8d8" stroke-width="1.5" />
<clipPath id="vcg"><rect x="97.4" y="682.4" width="216.6" height="149.5"/></clipPath>
<g clip-path="url(#vcg)"><use href="#vpts" transform="translate(193.9,828.0)"/></g>
<line x1="106.60" y1="831.90" x2="106.60" y2="834.30" stroke="#444" stroke-width="0.5" />
<line x1="115.33" y1="831.90" x2="115.33" y2="833.30" stroke="#444" stroke-width="0.5" />
<line x1="124.06" y1="831.90" x2="124.06" y2="833.30" stroke="#444" stroke-width="0.5" />
<line x1="132.79" y1="831.90" x2="132.79" y2="833.30" stroke="#444" stroke-width="0.5" />
<line x1="141.52" y1="831.90" x2="141.52" y2="833.30" stroke="#444" stroke-width="0.5" />
<line x1="150.25" y1="831.90" x2="150.25" y2="834.30" stroke="#444" stroke-width="0.5" />
<line x1="158.98" y1="831.90" x2="158.98" y2="833.30" stroke="#444" stroke-width="0.5" />
<line x1="167.71" y1="831.90" x2="167.71" y2="833.30" stroke="#444" stroke-width="0.5" />
<line x1="176.44" y1="831.90" x2="176.44" y2="833.30" stroke="#444" stroke-width="0.5" />
<line x1="185.17" y1="831.90" x2="185.17" y2="833.30" stroke="#444" stroke-width="0.5" />
<line x1="193.90" y1="831.90" x2="193.90" y2="834.30" stroke="#444" stroke-width="0.5" />
<line x1="202.63" y1="831.90" x2="202.63" y2="833.30" stroke="#444" stroke-width="0.5" />
<line x1="211.36" y1="831.90" x2="211.36" y2="833.30" stroke="#444" stroke-width="0.5" />
<line x1="220.09" y1="831.90" x2="220.09" y2="833.30" stroke="#444" stroke-width="0.5" />
<line x1="228.82" y1="831.90" x2="228.82" y2="833.30" stroke="#444" stroke-width="0.5" />
<line x1="237.55" y1="831.90" x2="237.55" y2="834.30" stroke="#444" stroke-width="0.5" />
<line x1="246.28" y1="831.90" x2="246.28" y2="833.30" stroke="#444" stroke-width="0.5" />
<line x1="255.01" y1="831.90" x2="255.01" y2="833.30" stroke="#444" stroke-width="0.5" />
<line x1="263.74" y1="831.90" x2="263.74" y2="833.30" stroke="#444" stroke-width="0.5" />
<line x1="272.47" y1="831.90" x2="272.47" y2="833.30" stroke="#444" stroke-width="0.5" />
<line x1="281.20" y1="831.90" x2="281.20" y2="834.30" stroke="#444" stroke-width="0.5" />
<line x1="289.93" y1="831.90" x2="289.93" y2="833.30" stroke="#444" stroke-width="0.5" />
<line x1="298.66" y1="831.90" x2="298.66" y2="833.30" stroke="#444" stroke-width="0.5" />
<line x1="307.39" y1="831.90" x2="307.39" y2="833.30" stroke="#444" stroke-width="0.5" />
<text x="106.60" y="839.20" font-size="4.6" text-anchor="middle" fill="#222" >-10</text>
<text x="150.25" y="839.20" font-size="4.6" text-anchor="middle" fill="#222" >-5</text>
<text x="193.90" y="839.20" font-size="4.6" text-anchor="middle" fill="#222" >0</text>
<text x="237.55" y="839.20" font-size="4.6" text-anchor="middle" fill="#222" >5</text>
<text x="281.20" y="839.20" font-size="4.6" text-anchor="middle" fill="#222" >10</text>
<line x1="95.00" y1="828.00" x2="97.40" y2="828.00" stroke="#444" stroke-width="0.5" />
<line x1="96.00" y1="823.60" x2="97.40" y2="823.60" stroke="#444" stroke-width="0.5" />
<line x1="96.00" y1="819.20" x2="97.40" y2="819.20" stroke="#444" stroke-width="0.5" />
<line x1="96.00" y1="814.80" x2="97.40" y2="814.80" stroke="#444" stroke-width="0.5" />
<line x1="95.00" y1="810.40" x2="97.40" y2="810.40" stroke="#444" stroke-width="0.5" />
<line x1="96.00" y1="806.00" x2="97.40" y2="806.00" stroke="#444" stroke-width="0.5" />
<line x1="96.00" y1="801.60" x2="97.40" y2="801.60" stroke="#444" stroke-width="0.5" />
<line x1="96.00" y1="797.20" x2="97.40" y2="797.20" stroke="#444" stroke-width="0.5" />
<line x1="95.00" y1="792.80" x2="97.40" y2="792.80" stroke="#444" stroke-width="0.5" />
<line x1="96.00" y1="788.40" x2="97.40" y2="788.40" stroke="#444" stroke-width="0.5" />
<line x1="96.00" y1="784.00" x2="97.40" y2="784.00" stroke="#444" stroke-width="0.5" />
<line x1="96.00" y1="779.60" x2="97.40" y2="779.60" stroke="#444" stroke-width="0.5" />
<line x1="95.00" y1="775.20" x2="97.40" y2="775.20" stroke="#444" stroke-width="0.5" />
<line x1="96.00" y1="770.80" x2="97.40" y2="770.80" stroke="#444" stroke-width="0.5" />
<line x1="96.00" y1="766.40" x2="97.40" y2="766.40" stroke="#444" stroke-width="0.5" />
<line x1="96.00" y1="762.00" x2="97.40" y2="762.00" stroke="#444" stroke-width="0.5" />
<line x1="95.00" y1="757.60" x2="97.40" y2="757.60" stroke="#444" stroke-width="0.5" />
<line x1="96.00" y1="753.20" x2="97.40" y2="753.20" stroke="#444" stroke-width="0.5" />
<line x1="96.00" y1="748.80" x2="97.40" y2="748.80" stroke="#444" stroke-width="0.5" />
<line x1="96.00" y1="744.40" x2="97.40" y2="744.40" stroke="#444" stroke-width="0.5" />
<line x1="95.00" y1="740.00" x2="97.40" y2="740.00" stroke="#444" stroke-width="0.5" />
<line x1="96.00" y1="735.60" x2="97.40" y2="735.60" stroke="#444" stroke-width="0.5" />
<line x1="96.00" y1="731.20" x2="97.40" y2="731.20" stroke="#444" stroke-width="0.5" />
<line x1="96.00" y1="726.80" x2="97.40" y2="726.80" stroke="#444" stroke-width="0.5" />
<line x1="95.00" y1="722.40" x2="97.40" y2="722.40" stroke="#444" stroke-width="0.5" />
<line x1="96.00" y1="718.00" x2="97.40" y2="718.00" stroke="#444" stroke-width="0.5" />
<line x1="96.00" y1="713.60" x2="97.40" y2="713.60" stroke="#444" stroke-width="0.5" />
<line x1="96.00" y1="709.20" x2="97.40" y2="709.20" stroke="#444" stroke-width="0.5" />
<line x1="95.00" y1="704.80" x2="97.40" y2="704.80" stroke="#444" stroke-width="0.5" />
<line x1="96.00" y1="700.40" x2="97.40" y2="700.40" stroke="#444" stroke-width="0.5" />
<line x1="96.00" y1="696.00" x2="97.40" y2="696.00" stroke="#444" stroke-width="0.5" />
<line x1="96.00" y1="691.60" x2="97.40" y2="691.60" stroke="#444" stroke-width="0.5" />
<line x1="95.00" y1="687.20" x2="97.40" y2="687.20" stroke="#444" stroke-width="0.5" />
<line x1="96.00" y1="682.80" x2="97.40" y2="682.80" stroke="#444" stroke-width="0.5" />
<text x="93.80" y="829.60" font-size="4.6" text-anchor="end" fill="#222" >0</text>
<text x="93.80" y="812.00" font-size="4.6" text-anchor="end" fill="#222" >2</text>
<text x="93.80" y="794.40" font-size="4.6" text-anchor="end" fill="#222" >4</text>
<text x="93.80" y="776.80" font-size="4.6" text-anchor="end" fill="#222" >6</text>
<text x="93.80" y="759.20" font-size="4.6" text-anchor="end" fill="#222" >8</text>
<text x="93.80" y="741.60" font-size="4.6" text-anchor="end" fill="#222" >10</text>
<text x="93.80" y="724.00" font-size="4.6" text-anchor="end" fill="#222" >12</text>
<text x="93.80" y="706.40" font-size="4.6" text-anchor="end" fill="#222" >14</text>
<text x="93.80" y="688.80" font-size="4.6" text-anchor="end" fill="#222" >16</text>
<text x="205.70" y="845.70" font-size="4.6" text-anchor="middle" fill="#222" >log2 fold change</text>
<text transform="translate(80.9,757.65) rotate(-90)" font-size="4.7" text-anchor="middle" fill="#222">-log10 P-value</text>
<circle cx="178.5" cy="804.2" r="1.7" fill="#000"/>
<circle cx="180.2" cy="808.5" r="1.7" fill="#000"/>
<circle cx="182.7" cy="810.1" r="1.7" fill="#000"/>
<circle cx="185.2" cy="814.2" r="1.7" fill="#000"/>
<circle cx="185.9" cy="815.4" r="1.7" fill="#000"/>
<text x="169.00" y="806.00" font-size="4.6" fill="#111" >Ins2</text>
<text x="182.50" y="808.20" font-size="4.6" fill="#111" >Nkx6-1</text>
<text x="188.00" y="813.60" font-size="4.6" fill="#111" >Pax6</text>
<text x="170.40" y="816.20" font-size="4.6" fill="#111" >Foxa2</text>
<text x="173.20" y="819.60" font-size="4.6" fill="#111" >Pdx1</text>
<text x="186.00" y="819.60" font-size="4.6" fill="#111" >Neurod1</text>
<text x="337" y="653.3" font-size="11.5" fill="#222">[DT <tspan font-weight="bold">HFD</tspan>] vs [DT <tspan font-weight="bold">SD</tspan>]</text>
<line x1="350.20" y1="693.60" x2="350.20" y2="828.00" stroke="#555" stroke-width="1.0" />
<line x1="350.20" y1="693.60" x2="498.50" y2="693.60" stroke="#555" stroke-width="1.0" />
<line x1="348.20" y1="693.60" x2="350.20" y2="693.60" stroke="#555" stroke-width="0.8" />
<text x="347.40" y="696.90" font-size="9.3" text-anchor="end" fill="#111" >-1</text>
<line x1="348.20" y1="738.40" x2="350.20" y2="738.40" stroke="#555" stroke-width="0.8" />
<text x="347.40" y="741.70" font-size="9.3" text-anchor="end" fill="#111" >-2</text>
<line x1="348.20" y1="783.20" x2="350.20" y2="783.20" stroke="#555" stroke-width="0.8" />
<text x="347.40" y="786.50" font-size="9.3" text-anchor="end" fill="#111" >-3</text>
<line x1="348.20" y1="828.00" x2="350.20" y2="828.00" stroke="#555" stroke-width="0.8" />
<text x="347.40" y="831.30" font-size="9.3" text-anchor="end" fill="#111" >-4</text>
<line x1="360.00" y1="693.60" x2="360.00" y2="691.80" stroke="#555" stroke-width="0.8" />
<circle cx="360" cy="798.0" r="3.3" fill="#e6f02a" stroke="#3a3a1a" stroke-width="0.45"/>
<text x="360.00" y="805.78" font-size="3.7" text-anchor="middle" fill="#888" >[2.60E-03]</text>
<text transform="translate(362.7,689.8) rotate(-90)" font-size="8" text-anchor="start" fill="#222">Ins1</text>
<line x1="375.20" y1="693.60" x2="375.20" y2="691.80" stroke="#555" stroke-width="0.8" />
<circle cx="375.2" cy="782.8" r="3.3" fill="#e6f02a" stroke="#3a3a1a" stroke-width="0.45"/>
<text x="375.20" y="790.55" font-size="3.7" text-anchor="middle" fill="#888" >[7.60E-03]</text>
<text transform="translate(377.9,689.8) rotate(-90)" font-size="8" text-anchor="start" fill="#222">Ins2</text>
<line x1="410.70" y1="693.60" x2="410.70" y2="691.80" stroke="#555" stroke-width="0.8" />
<circle cx="410.7" cy="735.7" r="3.3" fill="#e6f02a" stroke="#3a3a1a" stroke-width="0.45"/>
<text x="410.70" y="743.51" font-size="3.7" text-anchor="middle" fill="#888" >[0.033]</text>
<text transform="translate(413.4,689.8) rotate(-90)" font-size="8" text-anchor="start" fill="#222">Pdx1</text>
<line x1="426.30" y1="693.60" x2="426.30" y2="691.80" stroke="#555" stroke-width="0.8" />
<circle cx="426.3" cy="755.0" r="3.3" fill="#e6f02a" stroke="#3a3a1a" stroke-width="0.45"/>
<text x="426.30" y="762.78" font-size="3.7" text-anchor="middle" fill="#888" >[0.011]</text>
<text transform="translate(429.0,689.8) rotate(-90)" font-size="8" text-anchor="start" fill="#222">Nkx6.1</text>
<line x1="441.20" y1="693.60" x2="441.20" y2="691.80" stroke="#555" stroke-width="0.8" />
<circle cx="441.2" cy="732.6" r="3.3" fill="#e6f02a" stroke="#3a3a1a" stroke-width="0.45"/>
<text x="441.20" y="740.38" font-size="3.7" text-anchor="middle" fill="#888" >[0.015]</text>
<text transform="translate(443.9,689.8) rotate(-90)" font-size="8" text-anchor="start" fill="#222">Neurod1</text>
<line x1="456.50" y1="693.60" x2="456.50" y2="691.80" stroke="#555" stroke-width="0.8" />
<circle cx="456.5" cy="735.7" r="3.3" fill="#e6f02a" stroke="#3a3a1a" stroke-width="0.45"/>
<text x="456.50" y="743.51" font-size="3.7" text-anchor="middle" fill="#888" >[0.032]</text>
<text transform="translate(459.2,689.8) rotate(-90)" font-size="8" text-anchor="start" fill="#222">Pax6</text>
<line x1="471.70" y1="693.60" x2="471.70" y2="691.80" stroke="#555" stroke-width="0.8" />
<circle cx="471.7" cy="735.3" r="3.3" fill="#e6f02a" stroke="#3a3a1a" stroke-width="0.45"/>
<text x="471.70" y="743.06" font-size="3.7" text-anchor="middle" fill="#888" >[0.033]</text>
<text transform="translate(474.4,689.8) rotate(-90)" font-size="8" text-anchor="start" fill="#222">Foxa2</text>
<line x1="487.00" y1="693.60" x2="487.00" y2="691.80" stroke="#555" stroke-width="0.8" />
<circle cx="487" cy="738.4" r="3.3" fill="#e6f02a" stroke="#3a3a1a" stroke-width="0.45"/>
<text x="487.00" y="746.20" font-size="3.7" text-anchor="middle" fill="#888" >[0.049]</text>
<text transform="translate(489.7,689.8) rotate(-90)" font-size="8" text-anchor="start" fill="#222">Foxa3</text>
<text x="352.20" y="832.40" font-size="9.38" fill="#999" >Beta-cell identity</text>
<text transform="translate(326,759.3) rotate(-90)" font-size="10.6" text-anchor="middle" fill="#999" textLength="61" lengthAdjust="spacingAndGlyphs"><tspan font-size="11.6">F</tspan>old <tspan font-size="11.6" fill="#444" font-weight="bold">C</tspan>hange</text>
<text transform="translate(334.6,760.6) rotate(-90)" font-size="6.9" text-anchor="middle" fill="#aaa">[FC ≥ 1.5; p&lt; 0.05]</text>
<line x1="526.90" y1="693.30" x2="526.90" y2="827.20" stroke="#555" stroke-width="1.0" />
<line x1="526.90" y1="693.30" x2="579.00" y2="693.30" stroke="#555" stroke-width="1.0" />
<line x1="524.90" y1="693.30" x2="526.90" y2="693.30" stroke="#555" stroke-width="0.8" />
<text x="522.70" y="696.30" font-size="8.4" text-anchor="end" fill="#111" >-1.0</text>
<line x1="524.90" y1="720.08" x2="526.90" y2="720.08" stroke="#555" stroke-width="0.8" />
<text x="522.70" y="723.08" font-size="8.4" text-anchor="end" fill="#111" >-1.5</text>
<line x1="524.90" y1="746.86" x2="526.90" y2="746.86" stroke="#555" stroke-width="0.8" />
<text x="522.70" y="749.86" font-size="8.4" text-anchor="end" fill="#111" >-2.0</text>
<line x1="524.90" y1="773.64" x2="526.90" y2="773.64" stroke="#555" stroke-width="0.8" />
<text x="522.70" y="776.64" font-size="8.4" text-anchor="end" fill="#111" >-2.5</text>
<line x1="524.90" y1="800.42" x2="526.90" y2="800.42" stroke="#555" stroke-width="0.8" />
<text x="522.70" y="803.42" font-size="8.4" text-anchor="end" fill="#111" >-3.0</text>
<line x1="524.90" y1="827.20" x2="526.90" y2="827.20" stroke="#555" stroke-width="0.8" />
<text x="522.70" y="830.20" font-size="8.4" text-anchor="end" fill="#111" >-3.5</text>
<line x1="537.20" y1="693.30" x2="537.20" y2="691.50" stroke="#555" stroke-width="0.8" />
<circle cx="537.2" cy="769.9" r="3.3" fill="#e6f02a" stroke="#3a3a1a" stroke-width="0.45"/>
<text x="537.20" y="777.69" font-size="3.7" text-anchor="middle" fill="#888" >[0.021]</text>
<text transform="translate(539.9,689.5) rotate(-90)" font-size="8" text-anchor="start" fill="#222">Slc2a2</text>
<line x1="552.40" y1="693.30" x2="552.40" y2="691.50" stroke="#555" stroke-width="0.8" />
<circle cx="552.4" cy="797.2" r="3.3" fill="#e6f02a" stroke="#3a3a1a" stroke-width="0.45"/>
<text x="552.40" y="805.01" font-size="3.7" text-anchor="middle" fill="#888" >[1.40E-05]</text>
<text transform="translate(555.1,689.5) rotate(-90)" font-size="8" text-anchor="start" fill="#222">Pcsk1</text>
<line x1="568.50" y1="693.30" x2="568.50" y2="691.50" stroke="#555" stroke-width="0.8" />
<circle cx="568.5" cy="746.9" r="3.3" fill="#e6f02a" stroke="#3a3a1a" stroke-width="0.45"/>
<text x="568.50" y="754.66" font-size="3.7" text-anchor="middle" fill="#888" >[0.041]</text>
<text transform="translate(571.2,689.5) rotate(-90)" font-size="8" text-anchor="start" fill="#222">Pcsk2</text>
<text x="529.70" y="832.00" font-size="9.32" fill="#999" >Beta-cell function</text>
</svg></body></html>
